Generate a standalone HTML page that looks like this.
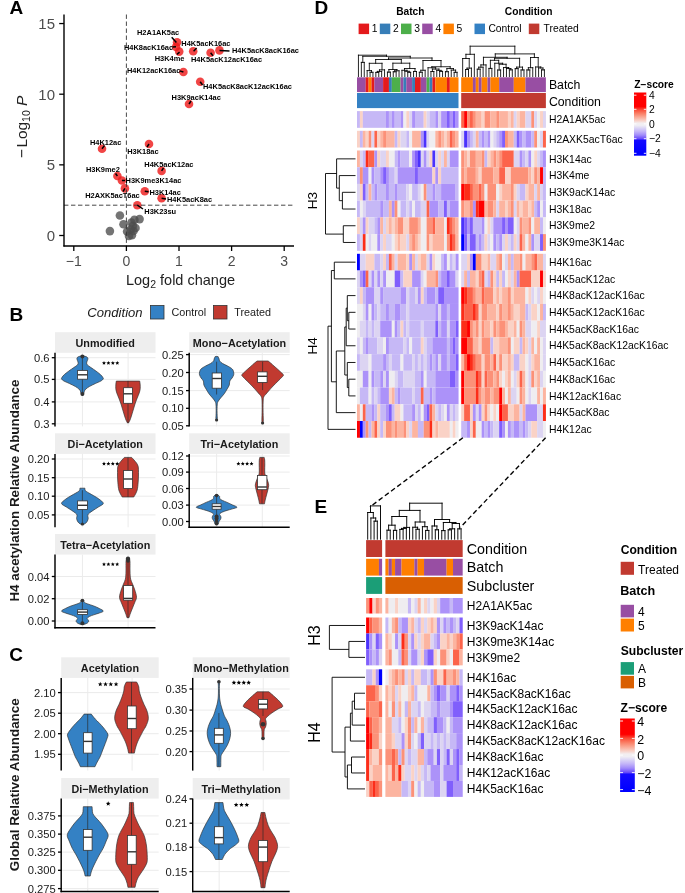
<!DOCTYPE html>
<html><head><meta charset="utf-8"><style>html,body{margin:0;padding:0;background:#fff;}svg{display:block;} text{font-family:"Liberation Sans", sans-serif;-webkit-font-smoothing:antialiased;}</style></head>
<body><svg style="will-change:transform" width="685" height="893" viewBox="0 0 685 893" font-family="'Liberation Sans', sans-serif">
<rect width="685" height="893" fill="#fff"/>
<text x="9.60" y="13.90" font-size="19" font-weight="bold" fill="#000">A</text>
<text x="9.60" y="320.60" font-size="19" font-weight="bold" fill="#000">B</text>
<text x="9.30" y="661.00" font-size="19" font-weight="bold" fill="#000">C</text>
<text x="314.60" y="13.70" font-size="19" font-weight="bold" fill="#000">D</text>
<text x="314.60" y="512.70" font-size="19" font-weight="bold" fill="#000">E</text>
<circle cx="119.90" cy="215.50" r="4.3" fill="#4d4d4d" fill-opacity="0.78"/>
<circle cx="109.90" cy="231.10" r="4.3" fill="#4d4d4d" fill-opacity="0.78"/>
<circle cx="123.50" cy="224.30" r="4.3" fill="#4d4d4d" fill-opacity="0.78"/>
<circle cx="139.60" cy="219.10" r="4.3" fill="#4d4d4d" fill-opacity="0.78"/>
<circle cx="134.40" cy="219.90" r="4.3" fill="#4d4d4d" fill-opacity="0.78"/>
<circle cx="132.80" cy="225.90" r="4.3" fill="#4d4d4d" fill-opacity="0.78"/>
<circle cx="127.10" cy="231.50" r="4.3" fill="#4d4d4d" fill-opacity="0.78"/>
<circle cx="131.90" cy="235.20" r="4.3" fill="#4d4d4d" fill-opacity="0.78"/>
<circle cx="130.70" cy="229.50" r="4.3" fill="#4d4d4d" fill-opacity="0.78"/>
<circle cx="135.50" cy="228.00" r="4.3" fill="#4d4d4d" fill-opacity="0.78"/>
<circle cx="131.50" cy="222.50" r="4.3" fill="#4d4d4d" fill-opacity="0.78"/>
<circle cx="129.00" cy="236.00" r="4.3" fill="#4d4d4d" fill-opacity="0.78"/>
<circle cx="133.50" cy="231.00" r="4.3" fill="#4d4d4d" fill-opacity="0.78"/>
<circle cx="177.10" cy="42.20" r="4.3" fill="#ee1c1c" fill-opacity="0.82"/>
<circle cx="176.10" cy="46.90" r="4.3" fill="#ee1c1c" fill-opacity="0.82"/>
<circle cx="179.20" cy="51.60" r="4.3" fill="#ee1c1c" fill-opacity="0.82"/>
<circle cx="193.20" cy="51.30" r="4.3" fill="#ee1c1c" fill-opacity="0.82"/>
<circle cx="210.60" cy="52.70" r="4.3" fill="#ee1c1c" fill-opacity="0.82"/>
<circle cx="219.50" cy="50.40" r="4.3" fill="#ee1c1c" fill-opacity="0.82"/>
<circle cx="183.40" cy="72.00" r="4.3" fill="#ee1c1c" fill-opacity="0.82"/>
<circle cx="200.20" cy="81.80" r="4.3" fill="#ee1c1c" fill-opacity="0.82"/>
<circle cx="189.00" cy="104.00" r="4.3" fill="#ee1c1c" fill-opacity="0.82"/>
<circle cx="102.00" cy="148.70" r="4.3" fill="#ee1c1c" fill-opacity="0.82"/>
<circle cx="149.00" cy="144.00" r="4.3" fill="#ee1c1c" fill-opacity="0.82"/>
<circle cx="161.60" cy="170.90" r="4.3" fill="#ee1c1c" fill-opacity="0.82"/>
<circle cx="117.40" cy="176.00" r="4.3" fill="#ee1c1c" fill-opacity="0.82"/>
<circle cx="121.90" cy="180.50" r="4.3" fill="#ee1c1c" fill-opacity="0.82"/>
<circle cx="124.90" cy="188.40" r="4.3" fill="#ee1c1c" fill-opacity="0.82"/>
<circle cx="144.80" cy="191.20" r="4.3" fill="#ee1c1c" fill-opacity="0.82"/>
<circle cx="161.60" cy="198.20" r="4.3" fill="#ee1c1c" fill-opacity="0.82"/>
<circle cx="137.30" cy="205.20" r="4.3" fill="#ee1c1c" fill-opacity="0.82"/>
<line x1="126.40" y1="14.50" x2="126.40" y2="246.00" stroke="#333" stroke-width="0.9" stroke-dasharray="4.4,2.6"/>
<line x1="64.00" y1="205.20" x2="295.00" y2="205.20" stroke="#333" stroke-width="0.9" stroke-dasharray="4.4,2.6"/>
<line x1="64.00" y1="14.50" x2="64.00" y2="246.60" stroke="#000" stroke-width="1.4"/>
<line x1="63.40" y1="246.00" x2="294.00" y2="246.00" stroke="#000" stroke-width="1.4"/>
<line x1="59.20" y1="235.50" x2="64.00" y2="235.50" stroke="#000" stroke-width="1.3"/>
<text x="55.00" y="241.00" font-size="15" text-anchor="end" fill="#4d4d4d">0</text>
<line x1="59.20" y1="164.85" x2="64.00" y2="164.85" stroke="#000" stroke-width="1.3"/>
<text x="55.00" y="170.35" font-size="15" text-anchor="end" fill="#4d4d4d">5</text>
<line x1="59.20" y1="94.20" x2="64.00" y2="94.20" stroke="#000" stroke-width="1.3"/>
<text x="55.00" y="99.70" font-size="15" text-anchor="end" fill="#4d4d4d">10</text>
<line x1="59.20" y1="23.55" x2="64.00" y2="23.55" stroke="#000" stroke-width="1.3"/>
<text x="55.00" y="29.05" font-size="15" text-anchor="end" fill="#4d4d4d">15</text>
<line x1="73.80" y1="246.00" x2="73.80" y2="251.00" stroke="#000" stroke-width="1.3"/>
<text x="73.80" y="266.00" font-size="14" text-anchor="middle" fill="#4d4d4d">−1</text>
<line x1="126.40" y1="246.00" x2="126.40" y2="251.00" stroke="#000" stroke-width="1.3"/>
<text x="126.40" y="266.00" font-size="14" text-anchor="middle" fill="#4d4d4d">0</text>
<line x1="179.00" y1="246.00" x2="179.00" y2="251.00" stroke="#000" stroke-width="1.3"/>
<text x="179.00" y="266.00" font-size="14" text-anchor="middle" fill="#4d4d4d">1</text>
<line x1="231.60" y1="246.00" x2="231.60" y2="251.00" stroke="#000" stroke-width="1.3"/>
<text x="231.60" y="266.00" font-size="14" text-anchor="middle" fill="#4d4d4d">2</text>
<line x1="284.20" y1="246.00" x2="284.20" y2="251.00" stroke="#000" stroke-width="1.3"/>
<text x="284.20" y="266.00" font-size="14" text-anchor="middle" fill="#4d4d4d">3</text>
<text x="180.5" y="284.6" font-size="14.5" text-anchor="middle" fill="#222">Log<tspan font-size="10.5" dy="3">2</tspan><tspan dy="-3"> fold change</tspan></text>
<text transform="translate(27,126.9) rotate(-90)" font-size="15.4" text-anchor="middle" fill="#222">−<tspan dx="1.5">Log</tspan><tspan font-size="10.5" dy="3">10</tspan><tspan dy="-3" font-style="italic"> P</tspan></text>
<line x1="171.70" y1="37.30" x2="176.40" y2="42.50" stroke="#000" stroke-width="1.5"/>
<text x="137.00" y="35.00" font-size="7.45" font-weight="bold" fill="#000">H2A1AK5ac</text>
<line x1="172.60" y1="47.00" x2="176.00" y2="46.80" stroke="#000" stroke-width="1.5"/>
<text x="123.90" y="49.50" font-size="7.45" font-weight="bold" fill="#000">H4K8acK16ac</text>
<line x1="193.60" y1="51.30" x2="196.60" y2="48.10" stroke="#000" stroke-width="1.5"/>
<text x="181.30" y="46.40" font-size="7.45" font-weight="bold" fill="#000">H4K5acK16ac</text>
<line x1="219.50" y1="50.40" x2="229.50" y2="50.90" stroke="#000" stroke-width="1.5"/>
<text x="232.00" y="53.20" font-size="7.45" font-weight="bold" fill="#000">H4K5acK8acK16ac</text>
<line x1="176.90" y1="54.40" x2="179.60" y2="52.20" stroke="#000" stroke-width="1.5"/>
<text x="154.70" y="60.90" font-size="7.45" font-weight="bold" fill="#000">H3K4me</text>
<line x1="210.60" y1="52.70" x2="212.90" y2="55.70" stroke="#000" stroke-width="1.5"/>
<text x="191.00" y="62.10" font-size="7.45" font-weight="bold" fill="#000">H4K5acK12acK16ac</text>
<line x1="179.60" y1="70.90" x2="183.40" y2="72.00" stroke="#000" stroke-width="1.5"/>
<text x="127.00" y="72.70" font-size="7.45" font-weight="bold" fill="#000">H4K12acK16ac</text>
<line x1="200.20" y1="81.80" x2="202.50" y2="85.00" stroke="#000" stroke-width="1.5"/>
<text x="203.00" y="88.70" font-size="7.45" font-weight="bold" fill="#000">H4K5acK8acK12acK16ac</text>
<line x1="189.00" y1="104.00" x2="191.00" y2="101.00" stroke="#000" stroke-width="1.5"/>
<text x="171.60" y="100.30" font-size="7.45" font-weight="bold" fill="#000">H3K9acK14ac</text>
<line x1="102.00" y1="148.70" x2="104.50" y2="145.50" stroke="#000" stroke-width="1.5"/>
<text x="89.90" y="144.80" font-size="7.45" font-weight="bold" fill="#000">H4K12ac</text>
<line x1="149.00" y1="144.00" x2="147.00" y2="147.00" stroke="#000" stroke-width="1.5"/>
<text x="127.20" y="153.70" font-size="7.45" font-weight="bold" fill="#000">H3K18ac</text>
<line x1="161.60" y1="170.90" x2="163.50" y2="168.00" stroke="#000" stroke-width="1.5"/>
<text x="144.30" y="167.30" font-size="7.45" font-weight="bold" fill="#000">H4K5acK12ac</text>
<line x1="117.40" y1="176.00" x2="115.50" y2="173.50" stroke="#000" stroke-width="1.5"/>
<text x="85.90" y="172.00" font-size="7.45" font-weight="bold" fill="#000">H3K9me2</text>
<line x1="121.90" y1="180.50" x2="125.00" y2="180.50" stroke="#000" stroke-width="1.5"/>
<text x="125.60" y="182.90" font-size="7.45" font-weight="bold" fill="#000">H3K9me3K14ac</text>
<line x1="124.90" y1="188.40" x2="123.00" y2="191.50" stroke="#000" stroke-width="1.5"/>
<text x="85.20" y="197.70" font-size="7.45" font-weight="bold" fill="#000">H2AXK5acT6ac</text>
<line x1="144.80" y1="191.20" x2="148.50" y2="191.80" stroke="#000" stroke-width="1.5"/>
<text x="149.40" y="194.60" font-size="7.45" font-weight="bold" fill="#000">H3K14ac</text>
<line x1="161.60" y1="198.20" x2="166.00" y2="199.00" stroke="#000" stroke-width="1.5"/>
<text x="167.00" y="202.10" font-size="7.45" font-weight="bold" fill="#000">H4K5acK8ac</text>
<line x1="137.30" y1="205.20" x2="143.00" y2="209.00" stroke="#000" stroke-width="1.5"/>
<text x="144.30" y="213.70" font-size="7.45" font-weight="bold" fill="#000">H3K23su</text>
<text x="87.30" y="317.30" font-size="13.1" font-style="italic" fill="#1a1a1a">Condition</text>
<rect x="150.50" y="305.50" width="13.50" height="13.50" fill="#3481c4" stroke="#333" stroke-width="0.8"/>
<text x="171.40" y="316.30" font-size="10.8" fill="#1a1a1a">Control</text>
<rect x="213.50" y="305.50" width="13.50" height="13.50" fill="#c13a30" stroke="#333" stroke-width="0.8"/>
<text x="234.20" y="316.30" font-size="10.8" fill="#1a1a1a">Treated</text>
<text x="18.80" y="490.60" font-size="13.4" font-weight="bold" text-anchor="middle" fill="#1a1a1a" transform="rotate(-90 18.8 490.6)">H4 acetylation Relative Abundance</text>
<text x="18.80" y="784.80" font-size="13.4" font-weight="bold" text-anchor="middle" fill="#1a1a1a" transform="rotate(-90 18.8 784.8)">Global Relative Abundance</text>
<rect x="55.00" y="332.20" width="100.50" height="20.60" fill="#eeeeee"/>
<text x="105.25" y="346.80" font-size="10.8" font-weight="bold" text-anchor="middle" fill="#1a1a1a">Unmodified</text>
<line x1="82.41" y1="352.80" x2="82.41" y2="426.40" stroke="#ebebeb" stroke-width="1"/>
<line x1="128.09" y1="352.80" x2="128.09" y2="426.40" stroke="#ebebeb" stroke-width="1"/>
<line x1="55.00" y1="357.70" x2="155.50" y2="357.70" stroke="#ebebeb" stroke-width="1"/>
<line x1="55.00" y1="379.40" x2="155.50" y2="379.40" stroke="#ebebeb" stroke-width="1"/>
<line x1="55.00" y1="401.90" x2="155.50" y2="401.90" stroke="#ebebeb" stroke-width="1"/>
<line x1="55.00" y1="423.80" x2="155.50" y2="423.80" stroke="#ebebeb" stroke-width="1"/>
<rect x="189.20" y="332.20" width="100.50" height="20.60" fill="#eeeeee"/>
<text x="239.45" y="346.80" font-size="10.8" font-weight="bold" text-anchor="middle" fill="#1a1a1a">Mono−Acetylation</text>
<line x1="216.61" y1="352.80" x2="216.61" y2="426.40" stroke="#ebebeb" stroke-width="1"/>
<line x1="262.29" y1="352.80" x2="262.29" y2="426.40" stroke="#ebebeb" stroke-width="1"/>
<line x1="189.20" y1="354.60" x2="289.70" y2="354.60" stroke="#ebebeb" stroke-width="1"/>
<line x1="189.20" y1="372.50" x2="289.70" y2="372.50" stroke="#ebebeb" stroke-width="1"/>
<line x1="189.20" y1="390.60" x2="289.70" y2="390.60" stroke="#ebebeb" stroke-width="1"/>
<line x1="189.20" y1="408.30" x2="289.70" y2="408.30" stroke="#ebebeb" stroke-width="1"/>
<line x1="189.20" y1="425.80" x2="289.70" y2="425.80" stroke="#ebebeb" stroke-width="1"/>
<rect x="55.00" y="433.30" width="100.50" height="20.60" fill="#eeeeee"/>
<text x="105.25" y="447.90" font-size="10.8" font-weight="bold" text-anchor="middle" fill="#1a1a1a">Di−Acetylation</text>
<line x1="82.41" y1="453.90" x2="82.41" y2="527.30" stroke="#ebebeb" stroke-width="1"/>
<line x1="128.09" y1="453.90" x2="128.09" y2="527.30" stroke="#ebebeb" stroke-width="1"/>
<line x1="55.00" y1="459.00" x2="155.50" y2="459.00" stroke="#ebebeb" stroke-width="1"/>
<line x1="55.00" y1="477.70" x2="155.50" y2="477.70" stroke="#ebebeb" stroke-width="1"/>
<line x1="55.00" y1="496.20" x2="155.50" y2="496.20" stroke="#ebebeb" stroke-width="1"/>
<line x1="55.00" y1="514.90" x2="155.50" y2="514.90" stroke="#ebebeb" stroke-width="1"/>
<rect x="189.20" y="433.30" width="100.50" height="20.60" fill="#eeeeee"/>
<text x="239.45" y="447.90" font-size="10.8" font-weight="bold" text-anchor="middle" fill="#1a1a1a">Tri−Acetylation</text>
<line x1="216.61" y1="453.90" x2="216.61" y2="527.30" stroke="#ebebeb" stroke-width="1"/>
<line x1="262.29" y1="453.90" x2="262.29" y2="527.30" stroke="#ebebeb" stroke-width="1"/>
<line x1="189.20" y1="456.00" x2="289.70" y2="456.00" stroke="#ebebeb" stroke-width="1"/>
<line x1="189.20" y1="472.10" x2="289.70" y2="472.10" stroke="#ebebeb" stroke-width="1"/>
<line x1="189.20" y1="488.50" x2="289.70" y2="488.50" stroke="#ebebeb" stroke-width="1"/>
<line x1="189.20" y1="505.10" x2="289.70" y2="505.10" stroke="#ebebeb" stroke-width="1"/>
<line x1="189.20" y1="521.50" x2="289.70" y2="521.50" stroke="#ebebeb" stroke-width="1"/>
<rect x="55.00" y="534.00" width="100.50" height="20.60" fill="#eeeeee"/>
<text x="105.25" y="548.60" font-size="10.8" font-weight="bold" text-anchor="middle" fill="#1a1a1a">Tetra−Acetylation</text>
<line x1="82.41" y1="554.60" x2="82.41" y2="627.80" stroke="#ebebeb" stroke-width="1"/>
<line x1="128.09" y1="554.60" x2="128.09" y2="627.80" stroke="#ebebeb" stroke-width="1"/>
<line x1="55.00" y1="576.50" x2="155.50" y2="576.50" stroke="#ebebeb" stroke-width="1"/>
<line x1="55.00" y1="598.70" x2="155.50" y2="598.70" stroke="#ebebeb" stroke-width="1"/>
<line x1="55.00" y1="621.00" x2="155.50" y2="621.00" stroke="#ebebeb" stroke-width="1"/>
<rect x="61.20" y="657.30" width="97.50" height="20.60" fill="#eeeeee"/>
<text x="109.95" y="671.90" font-size="10.8" font-weight="bold" text-anchor="middle" fill="#1a1a1a">Acetylation</text>
<line x1="87.79" y1="677.90" x2="87.79" y2="770.60" stroke="#ebebeb" stroke-width="1"/>
<line x1="132.11" y1="677.90" x2="132.11" y2="770.60" stroke="#ebebeb" stroke-width="1"/>
<line x1="61.20" y1="692.60" x2="158.70" y2="692.60" stroke="#ebebeb" stroke-width="1"/>
<line x1="61.20" y1="713.20" x2="158.70" y2="713.20" stroke="#ebebeb" stroke-width="1"/>
<line x1="61.20" y1="733.70" x2="158.70" y2="733.70" stroke="#ebebeb" stroke-width="1"/>
<line x1="61.20" y1="754.30" x2="158.70" y2="754.30" stroke="#ebebeb" stroke-width="1"/>
<rect x="192.70" y="657.30" width="97.00" height="20.60" fill="#eeeeee"/>
<text x="241.20" y="671.90" font-size="10.8" font-weight="bold" text-anchor="middle" fill="#1a1a1a">Mono−Methylation</text>
<line x1="219.15" y1="677.90" x2="219.15" y2="770.60" stroke="#ebebeb" stroke-width="1"/>
<line x1="263.25" y1="677.90" x2="263.25" y2="770.60" stroke="#ebebeb" stroke-width="1"/>
<line x1="192.70" y1="689.00" x2="289.70" y2="689.00" stroke="#ebebeb" stroke-width="1"/>
<line x1="192.70" y1="710.10" x2="289.70" y2="710.10" stroke="#ebebeb" stroke-width="1"/>
<line x1="192.70" y1="731.00" x2="289.70" y2="731.00" stroke="#ebebeb" stroke-width="1"/>
<line x1="192.70" y1="751.60" x2="289.70" y2="751.60" stroke="#ebebeb" stroke-width="1"/>
<rect x="61.20" y="778.00" width="97.50" height="20.60" fill="#eeeeee"/>
<text x="109.95" y="792.60" font-size="10.8" font-weight="bold" text-anchor="middle" fill="#1a1a1a">Di−Methylation</text>
<line x1="87.79" y1="798.60" x2="87.79" y2="891.50" stroke="#ebebeb" stroke-width="1"/>
<line x1="132.11" y1="798.60" x2="132.11" y2="891.50" stroke="#ebebeb" stroke-width="1"/>
<line x1="61.20" y1="815.90" x2="158.70" y2="815.90" stroke="#ebebeb" stroke-width="1"/>
<line x1="61.20" y1="834.10" x2="158.70" y2="834.10" stroke="#ebebeb" stroke-width="1"/>
<line x1="61.20" y1="852.10" x2="158.70" y2="852.10" stroke="#ebebeb" stroke-width="1"/>
<line x1="61.20" y1="870.30" x2="158.70" y2="870.30" stroke="#ebebeb" stroke-width="1"/>
<line x1="61.20" y1="888.60" x2="158.70" y2="888.60" stroke="#ebebeb" stroke-width="1"/>
<rect x="192.70" y="778.00" width="97.00" height="20.60" fill="#eeeeee"/>
<text x="241.20" y="792.60" font-size="10.8" font-weight="bold" text-anchor="middle" fill="#1a1a1a">Tri−Methylation</text>
<line x1="219.15" y1="798.60" x2="219.15" y2="891.50" stroke="#ebebeb" stroke-width="1"/>
<line x1="263.25" y1="798.60" x2="263.25" y2="891.50" stroke="#ebebeb" stroke-width="1"/>
<line x1="192.70" y1="798.90" x2="289.70" y2="798.90" stroke="#ebebeb" stroke-width="1"/>
<line x1="192.70" y1="823.20" x2="289.70" y2="823.20" stroke="#ebebeb" stroke-width="1"/>
<line x1="192.70" y1="847.30" x2="289.70" y2="847.30" stroke="#ebebeb" stroke-width="1"/>
<line x1="192.70" y1="871.60" x2="289.70" y2="871.60" stroke="#ebebeb" stroke-width="1"/>
<path d="M81.40,355.80 C80.82,356.00 78.65,356.55 77.90,357.00 C77.15,357.45 76.98,357.92 76.90,358.50 C76.82,359.08 77.18,359.75 77.40,360.50 C77.62,361.25 78.20,362.25 78.20,363.00 C78.20,363.75 78.12,364.25 77.40,365.00 C76.68,365.75 75.32,366.50 73.90,367.50 C72.48,368.50 70.48,369.83 68.90,371.00 C67.32,372.17 65.57,373.42 64.40,374.50 C63.23,375.58 62.37,376.75 61.90,377.50 C61.43,378.25 61.27,378.42 61.60,379.00 C61.93,379.58 62.60,380.25 63.90,381.00 C65.20,381.75 67.48,382.58 69.40,383.50 C71.32,384.42 73.82,385.58 75.40,386.50 C76.98,387.42 78.07,388.25 78.90,389.00 C79.73,389.75 80.07,390.33 80.40,391.00 C80.73,391.67 80.65,392.28 80.90,393.00 C81.15,393.72 81.73,394.92 81.90,395.30 L82.90,395.30 C83.07,394.92 83.65,393.72 83.90,393.00 C84.15,392.28 84.07,391.67 84.40,391.00 C84.73,390.33 85.07,389.75 85.90,389.00 C86.73,388.25 87.82,387.42 89.40,386.50 C90.98,385.58 93.48,384.42 95.40,383.50 C97.32,382.58 99.60,381.75 100.90,381.00 C102.20,380.25 102.87,379.58 103.20,379.00 C103.53,378.42 103.37,378.25 102.90,377.50 C102.43,376.75 101.57,375.58 100.40,374.50 C99.23,373.42 97.48,372.17 95.90,371.00 C94.32,369.83 92.32,368.50 90.90,367.50 C89.48,366.50 88.12,365.75 87.40,365.00 C86.68,364.25 86.60,363.75 86.60,363.00 C86.60,362.25 87.18,361.25 87.40,360.50 C87.62,359.75 87.98,359.08 87.90,358.50 C87.82,357.92 87.65,357.45 86.90,357.00 C86.15,356.55 83.98,356.00 83.40,355.80 Z" fill="#3481c4" stroke="#333" stroke-width="0.7"/>
<line x1="82.40" y1="356.60" x2="82.40" y2="394.00" stroke="#282828" stroke-width="1.0" stroke-opacity="0.65"/>
<rect x="77.60" y="370.40" width="9.80" height="8.80" fill="#fff" stroke="#333" stroke-width="0.8"/>
<line x1="77.60" y1="374.80" x2="87.40" y2="374.80" stroke="#333" stroke-width="1.4"/>
<circle cx="82.40" cy="356.60" r="2" fill="#333"/>
<circle cx="82.40" cy="394.00" r="2" fill="#333"/>
<path d="M116.30,381.10 C116.23,381.58 115.98,382.73 115.90,384.00 C115.82,385.27 115.65,387.20 115.80,388.70 C115.95,390.20 116.30,391.45 116.80,393.00 C117.30,394.55 118.10,396.17 118.80,398.00 C119.50,399.83 120.33,402.00 121.00,404.00 C121.67,406.00 122.20,408.00 122.80,410.00 C123.40,412.00 124.07,414.33 124.60,416.00 C125.13,417.67 125.52,418.83 126.00,420.00 C126.48,421.17 127.25,422.50 127.50,423.00 L128.50,423.00 C128.75,422.50 129.52,421.17 130.00,420.00 C130.48,418.83 130.87,417.67 131.40,416.00 C131.93,414.33 132.60,412.00 133.20,410.00 C133.80,408.00 134.33,406.00 135.00,404.00 C135.67,402.00 136.50,399.83 137.20,398.00 C137.90,396.17 138.70,394.55 139.20,393.00 C139.70,391.45 140.05,390.20 140.20,388.70 C140.35,387.20 140.18,385.27 140.10,384.00 C140.02,382.73 139.77,381.58 139.70,381.10 Z" fill="#c13a30" stroke="#333" stroke-width="0.7"/>
<line x1="128.00" y1="381.10" x2="128.00" y2="423.00" stroke="#282828" stroke-width="1.0" stroke-opacity="0.65"/>
<rect x="123.60" y="387.70" width="8.80" height="15.60" fill="#fff" stroke="#333" stroke-width="0.8"/>
<line x1="123.60" y1="393.80" x2="132.40" y2="393.80" stroke="#333" stroke-width="1.4"/>
<path d="M215.10,356.60 C214.93,357.00 214.35,358.27 214.10,359.00 C213.85,359.73 214.18,360.25 213.60,361.00 C213.02,361.75 211.93,362.67 210.60,363.50 C209.27,364.33 207.20,365.08 205.60,366.00 C204.00,366.92 202.00,368.00 201.00,369.00 C200.00,370.00 199.85,371.03 199.60,372.00 C199.35,372.97 199.25,373.80 199.50,374.80 C199.75,375.80 200.45,376.97 201.10,378.00 C201.75,379.03 202.93,379.83 203.40,381.00 C203.87,382.17 203.45,383.67 203.90,385.00 C204.35,386.33 205.25,387.53 206.10,389.00 C206.95,390.47 207.92,392.30 209.00,393.80 C210.08,395.30 211.55,396.67 212.60,398.00 C213.65,399.33 214.73,400.63 215.30,401.80 C215.87,402.97 215.86,403.30 216.00,405.00 C216.14,406.70 216.17,409.83 216.15,412.00 C216.13,414.17 215.91,416.67 215.90,418.00 C215.89,419.33 216.07,419.67 216.10,420.00 L217.10,420.00 C217.13,419.67 217.31,419.33 217.30,418.00 C217.29,416.67 217.07,414.17 217.05,412.00 C217.03,409.83 217.06,406.70 217.20,405.00 C217.34,403.30 217.33,402.97 217.90,401.80 C218.47,400.63 219.55,399.33 220.60,398.00 C221.65,396.67 223.12,395.30 224.20,393.80 C225.28,392.30 226.25,390.47 227.10,389.00 C227.95,387.53 228.85,386.33 229.30,385.00 C229.75,383.67 229.33,382.17 229.80,381.00 C230.27,379.83 231.45,379.03 232.10,378.00 C232.75,376.97 233.45,375.80 233.70,374.80 C233.95,373.80 233.85,372.97 233.60,372.00 C233.35,371.03 233.20,370.00 232.20,369.00 C231.20,368.00 229.20,366.92 227.60,366.00 C226.00,365.08 223.93,364.33 222.60,363.50 C221.27,362.67 220.18,361.75 219.60,361.00 C219.02,360.25 219.35,359.73 219.10,359.00 C218.85,358.27 218.27,357.00 218.10,356.60 Z" fill="#3481c4" stroke="#333" stroke-width="0.7"/>
<line x1="216.60" y1="361.70" x2="216.60" y2="394.50" stroke="#282828" stroke-width="1.0" stroke-opacity="0.65"/>
<rect x="212.20" y="373.00" width="9.20" height="15.20" fill="#fff" stroke="#333" stroke-width="0.8"/>
<line x1="212.20" y1="378.50" x2="221.40" y2="378.50" stroke="#333" stroke-width="1.4"/>
<circle cx="216.60" cy="420.00" r="1.6" fill="#333"/>
<path d="M257.10,361.00 C256.68,361.33 255.77,362.00 254.60,363.00 C253.43,364.00 251.60,365.67 250.10,367.00 C248.60,368.33 246.97,369.70 245.60,371.00 C244.23,372.30 242.32,373.80 241.90,374.80 C241.48,375.80 242.23,375.97 243.10,377.00 C243.97,378.03 245.60,379.50 247.10,381.00 C248.60,382.50 250.52,384.33 252.10,386.00 C253.68,387.67 255.35,389.58 256.60,391.00 C257.85,392.42 258.82,393.55 259.60,394.50 C260.38,395.45 260.90,395.78 261.30,396.70 C261.70,397.62 261.86,397.78 262.00,400.00 C262.14,402.22 262.17,406.67 262.15,410.00 C262.13,413.33 261.91,417.83 261.90,420.00 C261.89,422.17 262.07,422.50 262.10,423.00 L263.10,423.00 C263.13,422.50 263.31,422.17 263.30,420.00 C263.29,417.83 263.07,413.33 263.05,410.00 C263.03,406.67 263.06,402.22 263.20,400.00 C263.34,397.78 263.50,397.62 263.90,396.70 C264.30,395.78 264.82,395.45 265.60,394.50 C266.38,393.55 267.35,392.42 268.60,391.00 C269.85,389.58 271.52,387.67 273.10,386.00 C274.68,384.33 276.60,382.50 278.10,381.00 C279.60,379.50 281.23,378.03 282.10,377.00 C282.97,375.97 283.72,375.80 283.30,374.80 C282.88,373.80 280.97,372.30 279.60,371.00 C278.23,369.70 276.60,368.33 275.10,367.00 C273.60,365.67 271.77,364.00 270.60,363.00 C269.43,362.00 268.52,361.33 268.10,361.00 Z" fill="#c13a30" stroke="#333" stroke-width="0.7"/>
<line x1="262.60" y1="361.70" x2="262.60" y2="390.10" stroke="#282828" stroke-width="1.0" stroke-opacity="0.65"/>
<rect x="257.60" y="371.90" width="9.50" height="10.50" fill="#fff" stroke="#333" stroke-width="0.8"/>
<line x1="257.60" y1="376.30" x2="267.10" y2="376.30" stroke="#333" stroke-width="1.4"/>
<circle cx="262.60" cy="423.00" r="1.6" fill="#333"/>
<path d="M79.90,488.20 C79.82,488.62 80.07,489.90 79.40,490.70 C78.73,491.50 77.30,492.15 75.90,493.00 C74.50,493.85 72.67,494.80 71.00,495.80 C69.33,496.80 67.48,497.73 65.90,499.00 C64.32,500.27 61.42,502.07 61.50,503.40 C61.58,504.73 64.70,505.83 66.40,507.00 C68.10,508.17 70.20,509.40 71.70,510.40 C73.20,511.40 74.53,512.27 75.40,513.00 C76.27,513.73 76.65,514.22 76.90,514.80 C77.15,515.38 76.95,515.90 76.90,516.50 C76.85,517.10 76.52,517.65 76.60,518.40 C76.68,519.15 77.02,520.23 77.40,521.00 C77.78,521.77 78.23,522.40 78.90,523.00 C79.57,523.60 80.98,524.33 81.40,524.60 L83.40,524.60 C83.82,524.33 85.23,523.60 85.90,523.00 C86.57,522.40 87.02,521.77 87.40,521.00 C87.78,520.23 88.12,519.15 88.20,518.40 C88.28,517.65 87.95,517.10 87.90,516.50 C87.85,515.90 87.65,515.38 87.90,514.80 C88.15,514.22 88.53,513.73 89.40,513.00 C90.27,512.27 91.60,511.40 93.10,510.40 C94.60,509.40 96.70,508.17 98.40,507.00 C100.10,505.83 103.22,504.73 103.30,503.40 C103.38,502.07 100.48,500.27 98.90,499.00 C97.32,497.73 95.47,496.80 93.80,495.80 C92.13,494.80 90.30,493.85 88.90,493.00 C87.50,492.15 86.07,491.50 85.40,490.70 C84.73,489.90 84.98,488.62 84.90,488.20 Z" fill="#3481c4" stroke="#333" stroke-width="0.7"/>
<line x1="82.40" y1="490.20" x2="82.40" y2="523.50" stroke="#282828" stroke-width="1.0" stroke-opacity="0.65"/>
<rect x="77.60" y="500.90" width="9.80" height="8.50" fill="#fff" stroke="#333" stroke-width="0.8"/>
<line x1="77.60" y1="505.30" x2="87.40" y2="505.30" stroke="#333" stroke-width="1.4"/>
<circle cx="82.40" cy="524.00" r="1.6" fill="#333"/>
<path d="M124.40,457.40 C124.00,457.83 122.82,459.07 122.00,460.00 C121.18,460.93 120.20,461.90 119.50,463.00 C118.80,464.10 118.13,465.03 117.80,466.60 C117.47,468.17 117.52,470.17 117.50,472.40 C117.48,474.63 117.53,477.32 117.70,480.00 C117.87,482.68 118.12,486.33 118.50,488.50 C118.88,490.67 119.38,491.58 120.00,493.00 C120.62,494.42 121.83,496.33 122.20,497.00 L133.80,497.00 C134.17,496.33 135.38,494.42 136.00,493.00 C136.62,491.58 137.12,490.67 137.50,488.50 C137.88,486.33 138.13,482.68 138.30,480.00 C138.47,477.32 138.52,474.63 138.50,472.40 C138.48,470.17 138.53,468.17 138.20,466.60 C137.87,465.03 137.20,464.10 136.50,463.00 C135.80,461.90 134.82,460.93 134.00,460.00 C133.18,459.07 132.00,457.83 131.60,457.40 Z" fill="#c13a30" stroke="#333" stroke-width="0.7"/>
<line x1="128.00" y1="457.40" x2="128.00" y2="497.00" stroke="#282828" stroke-width="1.0" stroke-opacity="0.65"/>
<rect x="123.60" y="470.50" width="8.80" height="18.00" fill="#fff" stroke="#333" stroke-width="0.8"/>
<line x1="123.60" y1="479.00" x2="132.40" y2="479.00" stroke="#333" stroke-width="1.4"/>
<path d="M215.10,495.10 C214.85,495.33 213.88,495.90 213.60,496.50 C213.32,497.10 213.90,498.03 213.40,498.70 C212.90,499.37 211.82,499.88 210.60,500.50 C209.38,501.12 207.77,501.65 206.10,502.40 C204.43,503.15 202.25,504.20 200.60,505.00 C198.95,505.80 196.20,506.57 196.20,507.20 C196.20,507.83 198.95,508.27 200.60,508.80 C202.25,509.33 204.43,509.87 206.10,510.40 C207.77,510.93 209.35,511.40 210.60,512.00 C211.85,512.60 213.27,513.33 213.60,514.00 C213.93,514.67 212.83,515.38 212.60,516.00 C212.37,516.62 212.17,517.12 212.20,517.70 C212.23,518.28 212.48,518.90 212.80,519.50 C213.12,520.10 213.80,520.72 214.10,521.30 C214.40,521.88 214.35,522.38 214.60,523.00 C214.85,523.62 215.43,524.67 215.60,525.00 L217.60,525.00 C217.77,524.67 218.35,523.62 218.60,523.00 C218.85,522.38 218.80,521.88 219.10,521.30 C219.40,520.72 220.08,520.10 220.40,519.50 C220.72,518.90 220.97,518.28 221.00,517.70 C221.03,517.12 220.83,516.62 220.60,516.00 C220.37,515.38 219.27,514.67 219.60,514.00 C219.93,513.33 221.35,512.60 222.60,512.00 C223.85,511.40 225.43,510.93 227.10,510.40 C228.77,509.87 230.95,509.33 232.60,508.80 C234.25,508.27 237.00,507.83 237.00,507.20 C237.00,506.57 234.25,505.80 232.60,505.00 C230.95,504.20 228.77,503.15 227.10,502.40 C225.43,501.65 223.82,501.12 222.60,500.50 C221.38,499.88 220.30,499.37 219.80,498.70 C219.30,498.03 219.88,497.10 219.60,496.50 C219.32,495.90 218.35,495.33 218.10,495.10 Z" fill="#3481c4" stroke="#333" stroke-width="0.7"/>
<line x1="216.60" y1="496.00" x2="216.60" y2="524.00" stroke="#282828" stroke-width="1.0" stroke-opacity="0.65"/>
<rect x="212.20" y="503.80" width="8.90" height="5.40" fill="#fff" stroke="#333" stroke-width="0.8"/>
<line x1="212.20" y1="506.50" x2="221.10" y2="506.50" stroke="#333" stroke-width="1.4"/>
<circle cx="216.60" cy="495.50" r="1.8" fill="#333"/>
<circle cx="216.60" cy="516.50" r="2" fill="#333"/>
<circle cx="216.60" cy="518.50" r="2" fill="#333"/>
<circle cx="216.60" cy="521.00" r="1.8" fill="#333"/>
<circle cx="216.60" cy="523.50" r="1.8" fill="#333"/>
<path d="M259.80,457.40 C259.72,457.83 259.40,458.73 259.30,460.00 C259.20,461.27 259.20,463.33 259.20,465.00 C259.20,466.67 259.32,468.52 259.30,470.00 C259.28,471.48 259.40,472.57 259.10,473.90 C258.80,475.23 258.02,476.65 257.50,478.00 C256.98,479.35 256.37,480.73 256.00,482.00 C255.63,483.27 255.27,484.27 255.30,485.60 C255.33,486.93 255.83,488.43 256.20,490.00 C256.57,491.57 257.07,493.33 257.50,495.00 C257.93,496.67 258.47,498.53 258.80,500.00 C259.13,501.47 259.38,503.17 259.50,503.80 L264.50,503.80 C264.62,503.17 264.87,501.47 265.20,500.00 C265.53,498.53 266.07,496.67 266.50,495.00 C266.93,493.33 267.43,491.57 267.80,490.00 C268.17,488.43 268.67,486.93 268.70,485.60 C268.73,484.27 268.37,483.27 268.00,482.00 C267.63,480.73 267.02,479.35 266.50,478.00 C265.98,476.65 265.20,475.23 264.90,473.90 C264.60,472.57 264.72,471.48 264.70,470.00 C264.68,468.52 264.80,466.67 264.80,465.00 C264.80,463.33 264.80,461.27 264.70,460.00 C264.60,458.73 264.28,457.83 264.20,457.40 Z" fill="#c13a30" stroke="#333" stroke-width="0.7"/>
<line x1="262.00" y1="457.40" x2="262.00" y2="503.80" stroke="#282828" stroke-width="1.0" stroke-opacity="0.65"/>
<rect x="257.40" y="475.40" width="9.50" height="14.30" fill="#fff" stroke="#333" stroke-width="0.8"/>
<line x1="257.40" y1="487.00" x2="266.90" y2="487.00" stroke="#333" stroke-width="1.4"/>
<path d="M80.90,600.20 C80.82,600.57 81.07,601.77 80.40,602.40 C79.73,603.03 78.47,603.40 76.90,604.00 C75.33,604.60 72.92,605.25 71.00,606.00 C69.08,606.75 66.98,607.65 65.40,608.50 C63.82,609.35 61.50,610.35 61.50,611.10 C61.50,611.85 63.82,612.38 65.40,613.00 C66.98,613.62 69.33,614.22 71.00,614.80 C72.67,615.38 74.30,615.90 75.40,616.50 C76.50,617.10 77.40,617.82 77.60,618.40 C77.80,618.98 76.85,619.52 76.60,620.00 C76.35,620.48 75.97,620.80 76.10,621.30 C76.23,621.80 76.60,622.45 77.40,623.00 C78.20,623.55 80.32,624.33 80.90,624.60 L83.90,624.60 C84.48,624.33 86.60,623.55 87.40,623.00 C88.20,622.45 88.57,621.80 88.70,621.30 C88.83,620.80 88.45,620.48 88.20,620.00 C87.95,619.52 87.00,618.98 87.20,618.40 C87.40,617.82 88.30,617.10 89.40,616.50 C90.50,615.90 92.13,615.38 93.80,614.80 C95.47,614.22 97.82,613.62 99.40,613.00 C100.98,612.38 103.30,611.85 103.30,611.10 C103.30,610.35 100.98,609.35 99.40,608.50 C97.82,607.65 95.72,606.75 93.80,606.00 C91.88,605.25 89.47,604.60 87.90,604.00 C86.33,603.40 85.07,603.03 84.40,602.40 C83.73,601.77 83.98,600.57 83.90,600.20 Z" fill="#3481c4" stroke="#333" stroke-width="0.7"/>
<line x1="82.40" y1="600.50" x2="82.40" y2="623.50" stroke="#282828" stroke-width="1.0" stroke-opacity="0.65"/>
<rect x="77.60" y="609.70" width="9.80" height="4.80" fill="#fff" stroke="#333" stroke-width="0.8"/>
<line x1="77.60" y1="612.10" x2="87.40" y2="612.10" stroke="#333" stroke-width="1.4"/>
<circle cx="82.40" cy="600.50" r="1.8" fill="#333"/>
<circle cx="82.40" cy="623.20" r="2" fill="#333"/>
<path d="M126.50,558.60 C126.42,559.17 126.08,560.10 126.00,562.00 C125.92,563.90 126.03,567.67 126.00,570.00 C125.97,572.33 125.93,574.38 125.80,576.00 C125.67,577.62 125.58,578.37 125.20,579.70 C124.82,581.03 124.17,582.28 123.50,584.00 C122.83,585.72 121.87,587.78 121.20,590.00 C120.53,592.22 119.45,595.13 119.50,597.30 C119.55,599.47 120.83,601.22 121.50,603.00 C122.17,604.78 122.83,606.33 123.50,608.00 C124.17,609.67 124.92,611.38 125.50,613.00 C126.08,614.62 126.75,616.92 127.00,617.70 L129.00,617.70 C129.25,616.92 129.92,614.62 130.50,613.00 C131.08,611.38 131.83,609.67 132.50,608.00 C133.17,606.33 133.83,604.78 134.50,603.00 C135.17,601.22 136.45,599.47 136.50,597.30 C136.55,595.13 135.47,592.22 134.80,590.00 C134.13,587.78 133.17,585.72 132.50,584.00 C131.83,582.28 131.18,581.03 130.80,579.70 C130.42,578.37 130.33,577.62 130.20,576.00 C130.07,574.38 130.03,572.33 130.00,570.00 C129.97,567.67 130.08,563.90 130.00,562.00 C129.92,560.10 129.58,559.17 129.50,558.60 Z" fill="#c13a30" stroke="#333" stroke-width="0.7"/>
<line x1="128.00" y1="558.60" x2="128.00" y2="617.70" stroke="#282828" stroke-width="1.0" stroke-opacity="0.65"/>
<rect x="123.60" y="585.60" width="9.10" height="14.60" fill="#fff" stroke="#333" stroke-width="0.8"/>
<line x1="123.60" y1="598.40" x2="132.70" y2="598.40" stroke="#333" stroke-width="1.4"/>
<circle cx="128.00" cy="558.80" r="2.2" fill="#333"/>
<circle cx="128.00" cy="561.00" r="1.8" fill="#333"/>
<path d="M84.10,714.10 C83.87,714.42 83.35,715.18 82.70,716.00 C82.05,716.82 81.32,717.80 80.20,719.00 C79.08,720.20 77.42,721.70 76.00,723.20 C74.58,724.70 73.10,726.18 71.70,728.00 C70.30,729.82 68.18,732.43 67.60,734.10 C67.02,735.77 67.77,736.42 68.20,738.00 C68.63,739.58 69.45,741.60 70.20,743.60 C70.95,745.60 71.85,747.80 72.70,750.00 C73.55,752.20 74.38,754.80 75.30,756.80 C76.22,758.80 77.35,760.35 78.20,762.00 C79.05,763.65 80.03,765.92 80.40,766.70 L95.00,766.70 C95.37,765.92 96.35,763.65 97.20,762.00 C98.05,760.35 99.18,758.80 100.10,756.80 C101.02,754.80 101.85,752.20 102.70,750.00 C103.55,747.80 104.45,745.60 105.20,743.60 C105.95,741.60 106.77,739.58 107.20,738.00 C107.63,736.42 108.38,735.77 107.80,734.10 C107.22,732.43 105.10,729.82 103.70,728.00 C102.30,726.18 100.82,724.70 99.40,723.20 C97.98,721.70 96.32,720.20 95.20,719.00 C94.08,717.80 93.35,716.82 92.70,716.00 C92.05,715.18 91.53,714.42 91.30,714.10 Z" fill="#3481c4" stroke="#333" stroke-width="0.7"/>
<line x1="87.70" y1="714.10" x2="87.70" y2="766.70" stroke="#282828" stroke-width="1.0" stroke-opacity="0.65"/>
<rect x="83.60" y="732.70" width="8.50" height="20.40" fill="#fff" stroke="#333" stroke-width="0.8"/>
<line x1="83.60" y1="741.40" x2="92.10" y2="741.40" stroke="#333" stroke-width="1.4"/>
<path d="M126.40,682.00 C126.22,682.33 125.67,683.17 125.30,684.00 C124.93,684.83 124.45,685.83 124.20,687.00 C123.95,688.17 124.17,689.33 123.80,691.00 C123.43,692.67 122.78,694.80 122.00,697.00 C121.22,699.20 120.10,701.87 119.10,704.20 C118.10,706.53 116.73,708.57 116.00,711.00 C115.27,713.43 114.53,716.30 114.70,718.80 C114.87,721.30 116.12,723.97 117.00,726.00 C117.88,728.03 119.05,729.28 120.00,731.00 C120.95,732.72 121.78,734.47 122.70,736.30 C123.62,738.13 124.70,740.05 125.50,742.00 C126.30,743.95 126.98,746.15 127.50,748.00 C128.02,749.85 128.42,752.25 128.60,753.10 L134.40,753.10 C134.58,752.25 134.98,749.85 135.50,748.00 C136.02,746.15 136.70,743.95 137.50,742.00 C138.30,740.05 139.38,738.13 140.30,736.30 C141.22,734.47 142.05,732.72 143.00,731.00 C143.95,729.28 145.12,728.03 146.00,726.00 C146.88,723.97 148.13,721.30 148.30,718.80 C148.47,716.30 147.73,713.43 147.00,711.00 C146.27,708.57 144.90,706.53 143.90,704.20 C142.90,701.87 141.78,699.20 141.00,697.00 C140.22,694.80 139.57,692.67 139.20,691.00 C138.83,689.33 139.05,688.17 138.80,687.00 C138.55,685.83 138.07,684.83 137.70,684.00 C137.33,683.17 136.78,682.33 136.60,682.00 Z" fill="#c13a30" stroke="#333" stroke-width="0.7"/>
<line x1="131.50" y1="682.00" x2="131.50" y2="753.10" stroke="#282828" stroke-width="1.0" stroke-opacity="0.65"/>
<rect x="127.40" y="706.00" width="8.80" height="22.70" fill="#fff" stroke="#333" stroke-width="0.8"/>
<line x1="127.40" y1="718.50" x2="136.20" y2="718.50" stroke="#333" stroke-width="1.4"/>
<path d="M218.10,681.60 C218.13,682.00 218.24,682.60 218.30,684.00 C218.36,685.40 218.45,688.00 218.45,690.00 C218.45,692.00 218.39,694.33 218.30,696.00 C218.21,697.67 218.10,698.63 217.90,700.00 C217.70,701.37 217.52,702.53 217.10,704.20 C216.68,705.87 216.02,708.05 215.40,710.00 C214.78,711.95 214.12,714.23 213.40,715.90 C212.68,717.57 211.83,718.55 211.10,720.00 C210.37,721.45 209.57,723.10 209.00,724.60 C208.43,726.10 208.00,727.53 207.70,729.00 C207.40,730.47 207.13,731.73 207.20,733.40 C207.27,735.07 207.57,737.07 208.10,739.00 C208.63,740.93 209.52,743.17 210.40,745.00 C211.28,746.83 212.42,748.40 213.40,750.00 C214.38,751.60 215.72,753.27 216.30,754.60 C216.88,755.93 216.78,755.98 216.90,758.00 C217.02,760.02 216.98,765.25 217.00,766.70 L220.80,766.70 C220.82,765.25 220.78,760.02 220.90,758.00 C221.02,755.98 220.92,755.93 221.50,754.60 C222.08,753.27 223.42,751.60 224.40,750.00 C225.38,748.40 226.52,746.83 227.40,745.00 C228.28,743.17 229.17,740.93 229.70,739.00 C230.23,737.07 230.53,735.07 230.60,733.40 C230.67,731.73 230.40,730.47 230.10,729.00 C229.80,727.53 229.37,726.10 228.80,724.60 C228.23,723.10 227.43,721.45 226.70,720.00 C225.97,718.55 225.12,717.57 224.40,715.90 C223.68,714.23 223.02,711.95 222.40,710.00 C221.78,708.05 221.12,705.87 220.70,704.20 C220.28,702.53 220.10,701.37 219.90,700.00 C219.70,698.63 219.59,697.67 219.50,696.00 C219.41,694.33 219.35,692.00 219.35,690.00 C219.35,688.00 219.44,685.40 219.50,684.00 C219.56,682.60 219.67,682.00 219.70,681.60 Z" fill="#3481c4" stroke="#333" stroke-width="0.7"/>
<line x1="218.90" y1="713.00" x2="218.90" y2="766.70" stroke="#282828" stroke-width="1.0" stroke-opacity="0.65"/>
<rect x="214.40" y="728.30" width="8.90" height="15.00" fill="#fff" stroke="#333" stroke-width="0.8"/>
<line x1="214.40" y1="734.90" x2="223.30" y2="734.90" stroke="#333" stroke-width="1.4"/>
<circle cx="218.90" cy="681.80" r="1.8" fill="#333"/>
<path d="M257.20,691.80 C256.75,692.17 255.70,692.97 254.50,694.00 C253.30,695.03 251.42,696.67 250.00,698.00 C248.58,699.33 247.12,700.60 246.00,702.00 C244.88,703.40 242.97,705.23 243.30,706.40 C243.63,707.57 246.18,707.90 248.00,709.00 C249.82,710.10 252.53,711.83 254.20,713.00 C255.87,714.17 256.95,715.03 258.00,716.00 C259.05,716.97 260.17,717.97 260.50,718.80 C260.83,719.63 260.12,720.08 260.00,721.00 C259.88,721.92 259.72,723.30 259.80,724.30 C259.88,725.30 260.17,726.10 260.50,727.00 C260.83,727.90 261.55,728.53 261.80,729.70 C262.05,730.87 261.97,732.53 262.00,734.00 C262.03,735.47 262.00,737.75 262.00,738.50 L264.00,738.50 C264.00,737.75 263.97,735.47 264.00,734.00 C264.03,732.53 263.95,730.87 264.20,729.70 C264.45,728.53 265.17,727.90 265.50,727.00 C265.83,726.10 266.12,725.30 266.20,724.30 C266.28,723.30 266.12,721.92 266.00,721.00 C265.88,720.08 265.17,719.63 265.50,718.80 C265.83,717.97 266.95,716.97 268.00,716.00 C269.05,715.03 270.13,714.17 271.80,713.00 C273.47,711.83 276.18,710.10 278.00,709.00 C279.82,707.90 282.37,707.57 282.70,706.40 C283.03,705.23 281.12,703.40 280.00,702.00 C278.88,700.60 277.42,699.33 276.00,698.00 C274.58,696.67 272.70,695.03 271.50,694.00 C270.30,692.97 269.25,692.17 268.80,691.80 Z" fill="#c13a30" stroke="#333" stroke-width="0.7"/>
<line x1="263.00" y1="691.80" x2="263.00" y2="716.00" stroke="#282828" stroke-width="1.0" stroke-opacity="0.65"/>
<rect x="258.60" y="699.50" width="8.80" height="9.40" fill="#fff" stroke="#333" stroke-width="0.8"/>
<line x1="258.60" y1="704.20" x2="267.40" y2="704.20" stroke="#333" stroke-width="1.4"/>
<circle cx="263.00" cy="724.30" r="2.3" fill="#333"/>
<circle cx="263.00" cy="738.50" r="1.8" fill="#333"/>
<path d="M83.30,806.70 C83.27,807.25 83.22,808.87 83.10,810.00 C82.98,811.13 83.08,812.33 82.60,813.50 C82.12,814.67 81.30,815.67 80.20,817.00 C79.10,818.33 77.42,819.83 76.00,821.50 C74.58,823.17 73.15,824.80 71.70,827.00 C70.25,829.20 67.72,832.37 67.30,834.70 C66.88,837.03 68.35,838.68 69.20,841.00 C70.05,843.32 71.23,846.27 72.40,848.60 C73.57,850.93 74.98,852.82 76.20,855.00 C77.42,857.18 78.62,859.53 79.70,861.70 C80.78,863.87 81.95,866.28 82.70,868.00 C83.45,869.72 83.80,870.67 84.20,872.00 C84.60,873.33 84.95,875.33 85.10,876.00 L90.30,876.00 C90.45,875.33 90.80,873.33 91.20,872.00 C91.60,870.67 91.95,869.72 92.70,868.00 C93.45,866.28 94.62,863.87 95.70,861.70 C96.78,859.53 97.98,857.18 99.20,855.00 C100.42,852.82 101.83,850.93 103.00,848.60 C104.17,846.27 105.35,843.32 106.20,841.00 C107.05,838.68 108.52,837.03 108.10,834.70 C107.68,832.37 105.15,829.20 103.70,827.00 C102.25,824.80 100.82,823.17 99.40,821.50 C97.98,819.83 96.30,818.33 95.20,817.00 C94.10,815.67 93.28,814.67 92.80,813.50 C92.32,812.33 92.42,811.13 92.30,810.00 C92.18,808.87 92.13,807.25 92.10,806.70 Z" fill="#3481c4" stroke="#333" stroke-width="0.7"/>
<line x1="87.70" y1="806.70" x2="87.70" y2="876.00" stroke="#282828" stroke-width="1.0" stroke-opacity="0.65"/>
<rect x="83.40" y="829.60" width="8.70" height="20.70" fill="#fff" stroke="#333" stroke-width="0.8"/>
<line x1="83.40" y1="837.20" x2="92.10" y2="837.20" stroke="#333" stroke-width="1.4"/>
<path d="M129.50,802.60 C129.47,803.50 129.38,806.18 129.30,808.00 C129.22,809.82 129.38,811.67 129.00,813.50 C128.62,815.33 127.80,817.05 127.00,819.00 C126.20,820.95 125.20,823.20 124.20,825.20 C123.20,827.20 121.97,829.05 121.00,831.00 C120.03,832.95 119.15,834.40 118.40,836.90 C117.65,839.40 116.95,842.60 116.50,846.00 C116.05,849.40 115.75,854.47 115.70,857.30 C115.65,860.13 115.60,861.05 116.20,863.00 C116.80,864.95 118.22,867.17 119.30,869.00 C120.38,870.83 121.72,872.50 122.70,874.00 C123.68,875.50 124.53,876.67 125.20,878.00 C125.87,879.33 126.32,880.83 126.70,882.00 C127.08,883.17 127.30,884.12 127.50,885.00 C127.70,885.88 127.83,886.92 127.90,887.30 L135.10,887.30 C135.17,886.92 135.30,885.88 135.50,885.00 C135.70,884.12 135.92,883.17 136.30,882.00 C136.68,880.83 137.13,879.33 137.80,878.00 C138.47,876.67 139.32,875.50 140.30,874.00 C141.28,872.50 142.62,870.83 143.70,869.00 C144.78,867.17 146.20,864.95 146.80,863.00 C147.40,861.05 147.35,860.13 147.30,857.30 C147.25,854.47 146.95,849.40 146.50,846.00 C146.05,842.60 145.35,839.40 144.60,836.90 C143.85,834.40 142.97,832.95 142.00,831.00 C141.03,829.05 139.80,827.20 138.80,825.20 C137.80,823.20 136.80,820.95 136.00,819.00 C135.20,817.05 134.38,815.33 134.00,813.50 C133.62,811.67 133.78,809.82 133.70,808.00 C133.62,806.18 133.53,803.50 133.50,802.60 Z" fill="#c13a30" stroke="#333" stroke-width="0.7"/>
<line x1="131.50" y1="802.60" x2="131.50" y2="887.20" stroke="#282828" stroke-width="1.0" stroke-opacity="0.65"/>
<rect x="127.40" y="835.40" width="8.80" height="28.90" fill="#fff" stroke="#333" stroke-width="0.8"/>
<line x1="127.40" y1="851.80" x2="136.20" y2="851.80" stroke="#333" stroke-width="1.4"/>
<path d="M214.80,802.60 C214.73,803.17 214.63,804.67 214.40,806.00 C214.17,807.33 214.07,808.93 213.40,810.60 C212.73,812.27 211.50,814.05 210.40,816.00 C209.30,817.95 208.05,819.97 206.80,822.30 C205.55,824.63 203.97,827.72 202.90,830.00 C201.83,832.28 201.05,834.12 200.40,836.00 C199.75,837.88 198.67,839.80 199.00,841.30 C199.33,842.80 200.98,843.78 202.40,845.00 C203.82,846.22 205.92,847.27 207.50,848.60 C209.08,849.93 210.83,851.77 211.90,853.00 C212.97,854.23 213.30,854.92 213.90,856.00 C214.50,857.08 215.23,858.92 215.50,859.50 L222.30,859.50 C222.57,858.92 223.30,857.08 223.90,856.00 C224.50,854.92 224.83,854.23 225.90,853.00 C226.97,851.77 228.72,849.93 230.30,848.60 C231.88,847.27 233.98,846.22 235.40,845.00 C236.82,843.78 238.47,842.80 238.80,841.30 C239.13,839.80 238.05,837.88 237.40,836.00 C236.75,834.12 235.97,832.28 234.90,830.00 C233.83,827.72 232.25,824.63 231.00,822.30 C229.75,819.97 228.50,817.95 227.40,816.00 C226.30,814.05 225.07,812.27 224.40,810.60 C223.73,808.93 223.63,807.33 223.40,806.00 C223.17,804.67 223.07,803.17 223.00,802.60 Z" fill="#3481c4" stroke="#333" stroke-width="0.7"/>
<line x1="218.90" y1="802.60" x2="218.90" y2="859.50" stroke="#282828" stroke-width="1.0" stroke-opacity="0.65"/>
<rect x="214.50" y="826.70" width="8.80" height="17.20" fill="#fff" stroke="#333" stroke-width="0.8"/>
<line x1="214.50" y1="837.60" x2="223.30" y2="837.60" stroke="#333" stroke-width="1.4"/>
<path d="M261.10,812.50 C260.92,813.42 260.53,815.88 260.00,818.00 C259.47,820.12 258.73,823.03 257.90,825.20 C257.07,827.37 256.10,829.05 255.00,831.00 C253.90,832.95 252.27,835.07 251.30,836.90 C250.33,838.73 249.68,840.42 249.20,842.00 C248.72,843.58 248.30,844.73 248.40,846.40 C248.50,848.07 248.83,849.45 249.80,852.00 C250.77,854.55 253.00,858.70 254.20,861.70 C255.40,864.70 256.13,867.32 257.00,870.00 C257.87,872.68 258.82,875.63 259.40,877.80 C259.98,879.97 260.23,881.35 260.50,883.00 C260.77,884.65 260.92,886.92 261.00,887.70 L265.00,887.70 C265.08,886.92 265.23,884.65 265.50,883.00 C265.77,881.35 266.02,879.97 266.60,877.80 C267.18,875.63 268.13,872.68 269.00,870.00 C269.87,867.32 270.60,864.70 271.80,861.70 C273.00,858.70 275.23,854.55 276.20,852.00 C277.17,849.45 277.50,848.07 277.60,846.40 C277.70,844.73 277.28,843.58 276.80,842.00 C276.32,840.42 275.67,838.73 274.70,836.90 C273.73,835.07 272.10,832.95 271.00,831.00 C269.90,829.05 268.93,827.37 268.10,825.20 C267.27,823.03 266.53,820.12 266.00,818.00 C265.47,815.88 265.08,813.42 264.90,812.50 Z" fill="#c13a30" stroke="#333" stroke-width="0.7"/>
<line x1="263.00" y1="812.50" x2="263.00" y2="887.70" stroke="#282828" stroke-width="1.0" stroke-opacity="0.65"/>
<rect x="258.60" y="840.50" width="8.80" height="21.20" fill="#fff" stroke="#333" stroke-width="0.8"/>
<line x1="258.60" y1="847.10" x2="267.40" y2="847.10" stroke="#333" stroke-width="1.4"/>
<line x1="55.00" y1="352.80" x2="55.00" y2="426.40" stroke="#000" stroke-width="1.45"/>
<line x1="51.80" y1="357.70" x2="55.00" y2="357.70" stroke="#000" stroke-width="1.3"/>
<text x="49.50" y="361.70" font-size="11.2" text-anchor="end" fill="#1a1a1a">0.6</text>
<line x1="51.80" y1="379.40" x2="55.00" y2="379.40" stroke="#000" stroke-width="1.3"/>
<text x="49.50" y="383.40" font-size="11.2" text-anchor="end" fill="#1a1a1a">0.5</text>
<line x1="51.80" y1="401.90" x2="55.00" y2="401.90" stroke="#000" stroke-width="1.3"/>
<text x="49.50" y="405.90" font-size="11.2" text-anchor="end" fill="#1a1a1a">0.4</text>
<line x1="51.80" y1="423.80" x2="55.00" y2="423.80" stroke="#000" stroke-width="1.3"/>
<text x="49.50" y="427.80" font-size="11.2" text-anchor="end" fill="#1a1a1a">0.3</text>
<line x1="189.20" y1="352.80" x2="189.20" y2="426.40" stroke="#000" stroke-width="1.45"/>
<line x1="186.00" y1="354.60" x2="189.20" y2="354.60" stroke="#000" stroke-width="1.3"/>
<text x="183.70" y="358.60" font-size="11.2" text-anchor="end" fill="#1a1a1a">0.25</text>
<line x1="186.00" y1="372.50" x2="189.20" y2="372.50" stroke="#000" stroke-width="1.3"/>
<text x="183.70" y="376.50" font-size="11.2" text-anchor="end" fill="#1a1a1a">0.20</text>
<line x1="186.00" y1="390.60" x2="189.20" y2="390.60" stroke="#000" stroke-width="1.3"/>
<text x="183.70" y="394.60" font-size="11.2" text-anchor="end" fill="#1a1a1a">0.15</text>
<line x1="186.00" y1="408.30" x2="189.20" y2="408.30" stroke="#000" stroke-width="1.3"/>
<text x="183.70" y="412.30" font-size="11.2" text-anchor="end" fill="#1a1a1a">0.10</text>
<line x1="186.00" y1="425.80" x2="189.20" y2="425.80" stroke="#000" stroke-width="1.3"/>
<text x="183.70" y="429.80" font-size="11.2" text-anchor="end" fill="#1a1a1a">0.05</text>
<line x1="55.00" y1="453.90" x2="55.00" y2="527.30" stroke="#000" stroke-width="1.45"/>
<line x1="51.80" y1="459.00" x2="55.00" y2="459.00" stroke="#000" stroke-width="1.3"/>
<text x="49.50" y="463.00" font-size="11.2" text-anchor="end" fill="#1a1a1a">0.20</text>
<line x1="51.80" y1="477.70" x2="55.00" y2="477.70" stroke="#000" stroke-width="1.3"/>
<text x="49.50" y="481.70" font-size="11.2" text-anchor="end" fill="#1a1a1a">0.15</text>
<line x1="51.80" y1="496.20" x2="55.00" y2="496.20" stroke="#000" stroke-width="1.3"/>
<text x="49.50" y="500.20" font-size="11.2" text-anchor="end" fill="#1a1a1a">0.10</text>
<line x1="51.80" y1="514.90" x2="55.00" y2="514.90" stroke="#000" stroke-width="1.3"/>
<text x="49.50" y="518.90" font-size="11.2" text-anchor="end" fill="#1a1a1a">0.05</text>
<line x1="189.20" y1="453.90" x2="189.20" y2="528.00" stroke="#000" stroke-width="1.45"/>
<line x1="188.50" y1="527.30" x2="289.70" y2="527.30" stroke="#000" stroke-width="1.45"/>
<line x1="186.00" y1="456.00" x2="189.20" y2="456.00" stroke="#000" stroke-width="1.3"/>
<text x="183.70" y="460.00" font-size="11.2" text-anchor="end" fill="#1a1a1a">0.12</text>
<line x1="186.00" y1="472.10" x2="189.20" y2="472.10" stroke="#000" stroke-width="1.3"/>
<text x="183.70" y="476.10" font-size="11.2" text-anchor="end" fill="#1a1a1a">0.09</text>
<line x1="186.00" y1="488.50" x2="189.20" y2="488.50" stroke="#000" stroke-width="1.3"/>
<text x="183.70" y="492.50" font-size="11.2" text-anchor="end" fill="#1a1a1a">0.06</text>
<line x1="186.00" y1="505.10" x2="189.20" y2="505.10" stroke="#000" stroke-width="1.3"/>
<text x="183.70" y="509.10" font-size="11.2" text-anchor="end" fill="#1a1a1a">0.03</text>
<line x1="186.00" y1="521.50" x2="189.20" y2="521.50" stroke="#000" stroke-width="1.3"/>
<text x="183.70" y="525.50" font-size="11.2" text-anchor="end" fill="#1a1a1a">0.00</text>
<line x1="55.00" y1="554.60" x2="55.00" y2="628.50" stroke="#000" stroke-width="1.45"/>
<line x1="54.30" y1="627.80" x2="155.50" y2="627.80" stroke="#000" stroke-width="1.45"/>
<line x1="51.80" y1="576.50" x2="55.00" y2="576.50" stroke="#000" stroke-width="1.3"/>
<text x="49.50" y="580.50" font-size="11.2" text-anchor="end" fill="#1a1a1a">0.04</text>
<line x1="51.80" y1="598.70" x2="55.00" y2="598.70" stroke="#000" stroke-width="1.3"/>
<text x="49.50" y="602.70" font-size="11.2" text-anchor="end" fill="#1a1a1a">0.02</text>
<line x1="51.80" y1="621.00" x2="55.00" y2="621.00" stroke="#000" stroke-width="1.3"/>
<text x="49.50" y="625.00" font-size="11.2" text-anchor="end" fill="#1a1a1a">0.00</text>
<line x1="61.20" y1="677.90" x2="61.20" y2="770.60" stroke="#000" stroke-width="1.45"/>
<line x1="58.00" y1="692.60" x2="61.20" y2="692.60" stroke="#000" stroke-width="1.3"/>
<text x="55.70" y="696.60" font-size="11.2" text-anchor="end" fill="#1a1a1a">2.10</text>
<line x1="58.00" y1="713.20" x2="61.20" y2="713.20" stroke="#000" stroke-width="1.3"/>
<text x="55.70" y="717.20" font-size="11.2" text-anchor="end" fill="#1a1a1a">2.05</text>
<line x1="58.00" y1="733.70" x2="61.20" y2="733.70" stroke="#000" stroke-width="1.3"/>
<text x="55.70" y="737.70" font-size="11.2" text-anchor="end" fill="#1a1a1a">2.00</text>
<line x1="58.00" y1="754.30" x2="61.20" y2="754.30" stroke="#000" stroke-width="1.3"/>
<text x="55.70" y="758.30" font-size="11.2" text-anchor="end" fill="#1a1a1a">1.95</text>
<line x1="192.70" y1="677.90" x2="192.70" y2="770.60" stroke="#000" stroke-width="1.45"/>
<line x1="189.50" y1="689.00" x2="192.70" y2="689.00" stroke="#000" stroke-width="1.3"/>
<text x="187.20" y="693.00" font-size="11.2" text-anchor="end" fill="#1a1a1a">0.35</text>
<line x1="189.50" y1="710.10" x2="192.70" y2="710.10" stroke="#000" stroke-width="1.3"/>
<text x="187.20" y="714.10" font-size="11.2" text-anchor="end" fill="#1a1a1a">0.30</text>
<line x1="189.50" y1="731.00" x2="192.70" y2="731.00" stroke="#000" stroke-width="1.3"/>
<text x="187.20" y="735.00" font-size="11.2" text-anchor="end" fill="#1a1a1a">0.25</text>
<line x1="189.50" y1="751.60" x2="192.70" y2="751.60" stroke="#000" stroke-width="1.3"/>
<text x="187.20" y="755.60" font-size="11.2" text-anchor="end" fill="#1a1a1a">0.20</text>
<line x1="61.20" y1="798.60" x2="61.20" y2="892.20" stroke="#000" stroke-width="1.45"/>
<line x1="60.50" y1="891.50" x2="158.70" y2="891.50" stroke="#000" stroke-width="1.45"/>
<line x1="58.00" y1="815.90" x2="61.20" y2="815.90" stroke="#000" stroke-width="1.3"/>
<text x="55.70" y="819.90" font-size="11.2" text-anchor="end" fill="#1a1a1a">0.375</text>
<line x1="58.00" y1="834.10" x2="61.20" y2="834.10" stroke="#000" stroke-width="1.3"/>
<text x="55.70" y="838.10" font-size="11.2" text-anchor="end" fill="#1a1a1a">0.350</text>
<line x1="58.00" y1="852.10" x2="61.20" y2="852.10" stroke="#000" stroke-width="1.3"/>
<text x="55.70" y="856.10" font-size="11.2" text-anchor="end" fill="#1a1a1a">0.325</text>
<line x1="58.00" y1="870.30" x2="61.20" y2="870.30" stroke="#000" stroke-width="1.3"/>
<text x="55.70" y="874.30" font-size="11.2" text-anchor="end" fill="#1a1a1a">0.300</text>
<line x1="58.00" y1="888.60" x2="61.20" y2="888.60" stroke="#000" stroke-width="1.3"/>
<text x="55.70" y="892.60" font-size="11.2" text-anchor="end" fill="#1a1a1a">0.275</text>
<line x1="192.70" y1="798.60" x2="192.70" y2="892.20" stroke="#000" stroke-width="1.45"/>
<line x1="192.00" y1="891.50" x2="289.70" y2="891.50" stroke="#000" stroke-width="1.45"/>
<line x1="189.50" y1="798.90" x2="192.70" y2="798.90" stroke="#000" stroke-width="1.3"/>
<text x="187.20" y="802.90" font-size="11.2" text-anchor="end" fill="#1a1a1a">0.24</text>
<line x1="189.50" y1="823.20" x2="192.70" y2="823.20" stroke="#000" stroke-width="1.3"/>
<text x="187.20" y="827.20" font-size="11.2" text-anchor="end" fill="#1a1a1a">0.21</text>
<line x1="189.50" y1="847.30" x2="192.70" y2="847.30" stroke="#000" stroke-width="1.3"/>
<text x="187.20" y="851.30" font-size="11.2" text-anchor="end" fill="#1a1a1a">0.18</text>
<line x1="189.50" y1="871.60" x2="192.70" y2="871.60" stroke="#000" stroke-width="1.3"/>
<text x="187.20" y="875.60" font-size="11.2" text-anchor="end" fill="#1a1a1a">0.15</text>
<polygon points="104.00,361.01 104.55,362.35 105.99,362.47 104.89,363.41 105.23,364.81 104.00,364.06 102.76,364.81 103.10,363.41 102.00,362.47 103.44,362.35" fill="#000"/>
<polygon points="108.43,361.01 108.99,362.35 110.43,362.47 109.33,363.41 109.67,364.81 108.43,364.06 107.20,364.81 107.53,363.41 106.43,362.47 107.88,362.35" fill="#000"/>
<polygon points="112.87,361.01 113.42,362.35 114.87,362.47 113.77,363.41 114.10,364.81 112.87,364.06 111.63,364.81 111.97,363.41 110.87,362.47 112.31,362.35" fill="#000"/>
<polygon points="117.31,361.01 117.86,362.35 119.30,362.47 118.20,363.41 118.54,364.81 117.31,364.06 116.07,364.81 116.41,363.41 115.31,362.47 116.75,362.35" fill="#000"/>
<polygon points="104.00,461.61 104.55,462.95 105.99,463.07 104.89,464.01 105.23,465.41 104.00,464.66 102.76,465.41 103.10,464.01 102.00,463.07 103.44,462.95" fill="#000"/>
<polygon points="108.40,461.61 108.95,462.95 110.40,463.07 109.30,464.01 109.63,465.41 108.40,464.66 107.16,465.41 107.50,464.01 106.40,463.07 107.84,462.95" fill="#000"/>
<polygon points="112.80,461.61 113.36,462.95 114.80,463.07 113.70,464.01 114.04,465.41 112.80,464.66 111.57,465.41 111.90,464.01 110.80,463.07 112.25,462.95" fill="#000"/>
<polygon points="117.21,461.61 117.76,462.95 119.20,463.07 118.10,464.01 118.44,465.41 117.21,464.66 115.97,465.41 116.31,464.01 115.21,463.07 116.65,462.95" fill="#000"/>
<polygon points="238.40,461.61 238.95,462.95 240.39,463.07 239.29,464.01 239.63,465.41 238.40,464.66 237.16,465.41 237.50,464.01 236.40,463.07 237.84,462.95" fill="#000"/>
<polygon points="242.77,461.61 243.32,462.95 244.76,463.07 243.66,464.01 244.00,465.41 242.77,464.66 241.53,465.41 241.87,464.01 240.77,463.07 242.21,462.95" fill="#000"/>
<polygon points="247.14,461.61 247.69,462.95 249.13,463.07 248.03,464.01 248.37,465.41 247.14,464.66 245.90,465.41 246.24,464.01 245.14,463.07 246.58,462.95" fill="#000"/>
<polygon points="251.50,461.61 252.06,462.95 253.50,463.07 252.40,464.01 252.74,465.41 251.50,464.66 250.27,465.41 250.61,464.01 249.51,463.07 250.95,462.95" fill="#000"/>
<polygon points="104.00,562.22 104.55,563.55 105.99,563.67 104.89,564.61 105.23,566.01 104.00,565.26 102.76,566.01 103.10,564.61 102.00,563.67 103.44,563.55" fill="#000"/>
<polygon points="108.40,562.22 108.95,563.55 110.40,563.67 109.30,564.61 109.63,566.01 108.40,565.26 107.16,566.01 107.50,564.61 106.40,563.67 107.84,563.55" fill="#000"/>
<polygon points="112.80,562.22 113.36,563.55 114.80,563.67 113.70,564.61 114.04,566.01 112.80,565.26 111.57,566.01 111.90,564.61 110.80,563.67 112.25,563.55" fill="#000"/>
<polygon points="117.21,562.22 117.76,563.55 119.20,563.67 118.10,564.61 118.44,566.01 117.21,565.26 115.97,566.01 116.31,564.61 115.21,563.67 116.65,563.55" fill="#000"/>
<polygon points="100.23,681.82 100.88,683.38 102.56,683.51 101.28,684.61 101.67,686.25 100.23,685.37 98.79,686.25 99.18,684.61 97.90,683.51 99.58,683.38" fill="#000"/>
<polygon points="105.51,681.82 106.16,683.38 107.84,683.51 106.56,684.61 106.95,686.25 105.51,685.37 104.07,686.25 104.46,684.61 103.18,683.51 104.86,683.38" fill="#000"/>
<polygon points="110.79,681.82 111.44,683.38 113.12,683.51 111.84,684.61 112.23,686.25 110.79,685.37 109.35,686.25 109.74,684.61 108.46,683.51 110.14,683.38" fill="#000"/>
<polygon points="116.07,681.82 116.72,683.38 118.40,683.51 117.12,684.61 117.51,686.25 116.07,685.37 114.63,686.25 115.02,684.61 113.74,683.51 115.42,683.38" fill="#000"/>
<polygon points="233.93,680.22 234.58,681.78 236.26,681.91 234.98,683.01 235.37,684.65 233.93,683.77 232.49,684.65 232.88,683.01 231.60,681.91 233.28,681.78" fill="#000"/>
<polygon points="238.84,680.22 239.49,681.78 241.17,681.91 239.89,683.01 240.28,684.65 238.84,683.77 237.40,684.65 237.79,683.01 236.51,681.91 238.19,681.78" fill="#000"/>
<polygon points="243.76,680.22 244.41,681.78 246.09,681.91 244.81,683.01 245.20,684.65 243.76,683.77 242.32,684.65 242.71,683.01 241.43,681.91 243.11,681.78" fill="#000"/>
<polygon points="248.67,680.22 249.32,681.78 251.00,681.91 249.72,683.01 250.11,684.65 248.67,683.77 247.23,684.65 247.62,683.01 246.34,681.91 248.02,681.78" fill="#000"/>
<polygon points="108.20,801.22 108.85,802.78 110.53,802.91 109.25,804.01 109.64,805.65 108.20,804.77 106.76,805.65 107.15,804.01 105.87,802.91 107.55,802.78" fill="#000"/>
<polygon points="236.13,802.42 236.78,803.98 238.46,804.11 237.18,805.21 237.57,806.85 236.13,805.97 234.69,806.85 235.08,805.21 233.80,804.11 235.48,803.98" fill="#000"/>
<polygon points="241.45,802.42 242.10,803.98 243.78,804.11 242.50,805.21 242.89,806.85 241.45,805.97 240.01,806.85 240.40,805.21 239.12,804.11 240.80,803.98" fill="#000"/>
<polygon points="246.77,802.42 247.42,803.98 249.10,804.11 247.82,805.21 248.21,806.85 246.77,805.97 245.33,806.85 245.72,805.21 244.44,804.11 246.12,803.98" fill="#000"/>
<text x="410.30" y="14.70" font-size="10.2" font-weight="bold" text-anchor="middle" fill="#000">Batch</text>
<text x="528.60" y="14.70" font-size="10.2" font-weight="bold" text-anchor="middle" fill="#000">Condition</text>
<rect x="358.60" y="23.60" width="10.50" height="10.50" fill="#e41a1c"/>
<text x="371.80" y="32.00" font-size="10.3" fill="#000">1</text>
<rect x="379.80" y="23.60" width="10.50" height="10.50" fill="#377eb8"/>
<text x="393.00" y="32.00" font-size="10.3" fill="#000">2</text>
<rect x="401.00" y="23.60" width="10.50" height="10.50" fill="#4daf4a"/>
<text x="414.20" y="32.00" font-size="10.3" fill="#000">3</text>
<rect x="422.20" y="23.60" width="10.50" height="10.50" fill="#984ea3"/>
<text x="435.40" y="32.00" font-size="10.3" fill="#000">4</text>
<rect x="443.40" y="23.60" width="10.50" height="10.50" fill="#ff7f00"/>
<text x="456.60" y="32.00" font-size="10.3" fill="#000">5</text>
<rect x="474.50" y="23.60" width="10.50" height="10.50" fill="#3481c4"/>
<text x="488.40" y="32.00" font-size="10.3" fill="#000">Control</text>
<rect x="528.80" y="23.60" width="10.50" height="10.50" fill="#c13a30"/>
<text x="543.60" y="32.00" font-size="10.3" fill="#000">Treated</text>
<path d="M361.35,62.40L364.25,62.40 M361.35,62.40L361.35,76.60 M364.25,62.40L364.25,76.60 M370.05,72.28L372.95,72.28 M370.05,72.28L370.05,76.60 M372.95,72.28L372.95,76.60 M367.15,70.58L371.50,70.58 M367.15,70.58L367.15,76.60 M371.50,70.58L371.50,72.28 M375.85,72.43L378.75,72.43 M375.85,72.43L375.85,76.60 M378.75,72.43L378.75,76.60 M377.30,71.41L381.65,71.41 M377.30,71.41L377.30,72.43 M381.65,71.41L381.65,76.60 M379.48,69.86L384.55,69.86 M379.48,69.86L379.48,71.41 M384.55,69.86L384.55,76.60 M369.32,63.30L382.01,63.30 M369.32,63.30L369.32,70.58 M382.01,63.30L382.01,69.86 M387.45,72.15L390.35,72.15 M387.45,72.15L387.45,76.60 M390.35,72.15L390.35,76.60 M393.25,71.77L396.15,71.77 M393.25,71.77L393.25,76.60 M396.15,71.77L396.15,76.60 M394.70,70.77L399.05,70.77 M394.70,70.77L394.70,71.77 M399.05,70.77L399.05,76.60 M388.90,69.51L396.88,69.51 M388.90,69.51L388.90,72.15 M396.88,69.51L396.88,70.77 M407.75,72.31L410.65,72.31 M407.75,72.31L407.75,76.60 M410.65,72.31L410.65,76.60 M404.85,71.31L409.20,71.31 M404.85,71.31L404.85,76.60 M409.20,71.31L409.20,72.31 M401.95,70.31L407.02,70.31 M401.95,70.31L401.95,76.60 M407.02,70.31L407.02,71.31 M413.55,71.49L416.45,71.49 M413.55,71.49L413.55,76.60 M416.45,71.49L416.45,76.60 M404.49,68.52L415.00,68.52 M404.49,68.52L404.49,70.31 M415.00,68.52L415.00,71.49 M392.89,63.20L409.74,63.20 M392.89,63.20L392.89,69.51 M409.74,63.20L409.74,68.52 M375.67,59.50L401.32,59.50 M375.67,59.50L375.67,63.30 M401.32,59.50L401.32,63.20 M419.35,72.24L422.25,72.24 M419.35,72.24L419.35,76.60 M422.25,72.24L422.25,76.60 M420.80,70.28L425.15,70.28 M420.80,70.28L420.80,72.24 M425.15,70.28L425.15,76.60 M430.95,71.52L433.85,71.52 M430.95,71.52L430.95,76.60 M433.85,71.52L433.85,76.60 M439.65,71.38L442.55,71.38 M439.65,71.38L439.65,76.60 M442.55,71.38L442.55,76.60 M436.75,70.38L441.10,70.38 M436.75,70.38L436.75,76.60 M441.10,70.38L441.10,71.38 M432.40,69.07L438.93,69.07 M432.40,69.07L432.40,71.52 M438.93,69.07L438.93,70.38 M428.05,67.74L435.66,67.74 M428.05,67.74L428.05,76.60 M435.66,67.74L435.66,69.07 M445.45,71.70L448.35,71.70 M445.45,71.70L445.45,76.60 M448.35,71.70L448.35,76.60 M454.15,72.32L457.05,72.32 M454.15,72.32L454.15,76.60 M457.05,72.32L457.05,76.60 M451.25,70.12L455.60,70.12 M451.25,70.12L451.25,76.60 M455.60,70.12L455.60,72.32 M446.90,68.55L453.43,68.55 M446.90,68.55L446.90,71.70 M453.43,68.55L453.43,70.12 M431.86,66.74L450.16,66.74 M431.86,66.74L431.86,67.74 M450.16,66.74L450.16,68.55 M422.98,60.50L441.01,60.50 M422.98,60.50L422.98,70.28 M441.01,60.50L441.01,66.74 M388.49,58.00L431.99,58.00 M388.49,58.00L388.49,59.50 M431.99,58.00L431.99,60.50 M362.80,56.30L410.24,56.30 M362.80,56.30L362.80,62.40 M410.24,56.30L410.24,58.00 M358.45,55.20L386.52,55.20 M358.45,55.20L358.45,76.60 M386.52,55.20L386.52,56.30" stroke="#000" stroke-width="0.85" fill="none" stroke-linecap="square"/>
<path d="M465.58,69.50L468.50,69.50 M465.58,69.50L465.58,76.60 M468.50,69.50L468.50,76.60 M467.04,68.15L471.42,68.15 M467.04,68.15L467.04,69.50 M471.42,68.15L471.42,76.60 M462.66,58.50L469.23,58.50 M462.66,58.50L462.66,76.60 M469.23,58.50L469.23,68.15 M465.94,54.30L474.34,54.30 M465.94,54.30L465.94,58.50 M474.34,54.30L474.34,76.60 M477.26,69.16L480.18,69.16 M477.26,69.16L477.26,76.60 M480.18,69.16L480.18,76.60 M478.72,67.18L483.10,67.18 M478.72,67.18L478.72,69.16 M483.10,67.18L483.10,76.60 M480.91,64.91L486.02,64.91 M480.91,64.91L480.91,67.18 M486.02,64.91L486.02,76.60 M488.94,68.42L491.86,68.42 M488.94,68.42L488.94,76.60 M491.86,68.42L491.86,76.60 M497.70,70.01L500.62,70.01 M497.70,70.01L497.70,76.60 M500.62,70.01L500.62,76.60 M509.38,69.85L512.30,69.85 M509.38,69.85L509.38,76.60 M512.30,69.85L512.30,76.60 M506.46,68.53L510.84,68.53 M506.46,68.53L506.46,76.60 M510.84,68.53L510.84,69.85 M503.54,67.53L508.65,67.53 M503.54,67.53L503.54,76.60 M508.65,67.53L508.65,68.53 M499.16,64.26L506.09,64.26 M499.16,64.26L499.16,70.01 M506.09,64.26L506.09,67.53 M494.78,63.26L502.63,63.26 M494.78,63.26L494.78,76.60 M502.63,63.26L502.63,64.26 M490.40,60.30L498.70,60.30 M490.40,60.30L490.40,68.42 M498.70,60.30L498.70,63.26 M515.22,68.62L518.14,68.62 M515.22,68.62L515.22,76.60 M518.14,68.62L518.14,76.60 M521.06,69.94L523.98,69.94 M521.06,69.94L521.06,76.60 M523.98,69.94L523.98,76.60 M516.68,67.12L522.52,67.12 M516.68,67.12L516.68,68.62 M522.52,67.12L522.52,69.94 M494.55,58.30L519.60,58.30 M494.55,58.30L494.55,60.30 M519.60,58.30L519.60,67.12 M483.46,57.30L507.08,57.30 M483.46,57.30L483.46,64.91 M507.08,57.30L507.08,58.30 M526.90,69.95L529.82,69.95 M526.90,69.95L526.90,76.60 M529.82,69.95L529.82,76.60 M528.36,67.69L532.74,67.69 M528.36,67.69L528.36,69.95 M532.74,67.69L532.74,76.60 M541.50,69.88L544.42,69.88 M541.50,69.88L541.50,76.60 M544.42,69.88L544.42,76.60 M538.58,67.98L542.96,67.98 M538.58,67.98L538.58,76.60 M542.96,67.98L542.96,69.88 M535.66,66.98L540.77,66.98 M535.66,66.98L535.66,76.60 M540.77,66.98L540.77,67.98 M530.55,57.50L538.21,57.50 M530.55,57.50L530.55,67.69 M538.21,57.50L538.21,66.98 M495.27,53.90L534.38,53.90 M495.27,53.90L495.27,57.30 M534.38,53.90L534.38,57.50 M470.14,46.20L514.83,46.20 M470.14,46.20L470.14,54.30 M514.83,46.20L514.83,53.90" stroke="#000" stroke-width="0.85" fill="none" stroke-linecap="square"/>
<rect x="357.00" y="77.30" width="8.75" height="14.80" fill="#984ea3"/>
<rect x="365.70" y="77.30" width="2.95" height="14.80" fill="#e41a1c"/>
<rect x="368.60" y="77.30" width="2.95" height="14.80" fill="#ff7f00"/>
<rect x="371.50" y="77.30" width="2.95" height="14.80" fill="#e41a1c"/>
<rect x="374.40" y="77.30" width="8.75" height="14.80" fill="#984ea3"/>
<rect x="383.10" y="77.30" width="5.85" height="14.80" fill="#e41a1c"/>
<rect x="388.90" y="77.30" width="2.95" height="14.80" fill="#377eb8"/>
<rect x="391.80" y="77.30" width="8.75" height="14.80" fill="#4daf4a"/>
<rect x="400.50" y="77.30" width="2.95" height="14.80" fill="#984ea3"/>
<rect x="403.40" y="77.30" width="2.95" height="14.80" fill="#377eb8"/>
<rect x="406.30" y="77.30" width="5.85" height="14.80" fill="#984ea3"/>
<rect x="412.10" y="77.30" width="2.95" height="14.80" fill="#377eb8"/>
<rect x="415.00" y="77.30" width="5.85" height="14.80" fill="#e41a1c"/>
<rect x="420.80" y="77.30" width="5.85" height="14.80" fill="#984ea3"/>
<rect x="426.60" y="77.30" width="2.95" height="14.80" fill="#4daf4a"/>
<rect x="429.50" y="77.30" width="2.95" height="14.80" fill="#377eb8"/>
<rect x="432.40" y="77.30" width="2.95" height="14.80" fill="#e41a1c"/>
<rect x="435.30" y="77.30" width="11.65" height="14.80" fill="#ff7f00"/>
<rect x="446.90" y="77.30" width="2.95" height="14.80" fill="#e41a1c"/>
<rect x="449.80" y="77.30" width="8.70" height="14.80" fill="#ff7f00"/>
<rect x="461.20" y="77.30" width="11.73" height="14.80" fill="#ff7f00"/>
<rect x="472.88" y="77.30" width="2.97" height="14.80" fill="#984ea3"/>
<rect x="475.80" y="77.30" width="2.97" height="14.80" fill="#ff7f00"/>
<rect x="478.72" y="77.30" width="2.97" height="14.80" fill="#984ea3"/>
<rect x="481.64" y="77.30" width="5.89" height="14.80" fill="#ff7f00"/>
<rect x="487.48" y="77.30" width="2.97" height="14.80" fill="#984ea3"/>
<rect x="490.40" y="77.30" width="8.81" height="14.80" fill="#ff7f00"/>
<rect x="499.16" y="77.30" width="14.65" height="14.80" fill="#984ea3"/>
<rect x="513.76" y="77.30" width="11.73" height="14.80" fill="#ff7f00"/>
<rect x="525.44" y="77.30" width="20.44" height="14.80" fill="#984ea3"/>
<rect x="357.00" y="93.00" width="101.50" height="15.10" fill="#3481c4"/>
<rect x="461.20" y="93.00" width="84.68" height="15.10" fill="#c13a30"/>
<text x="548.90" y="89.20" font-size="12.3" fill="#000">Batch</text>
<text x="548.90" y="105.80" font-size="12.3" fill="#000">Condition</text>
<rect x="357.00" y="111.10" width="2.95" height="16.72" fill="#c6b8f6"/>
<rect x="359.90" y="111.10" width="2.95" height="16.72" fill="#fad2c6"/>
<rect x="362.80" y="111.10" width="23.25" height="16.72" fill="#c6b8f6"/>
<rect x="386.00" y="111.10" width="2.95" height="16.72" fill="#ac92f9"/>
<rect x="388.90" y="111.10" width="2.95" height="16.72" fill="#c6b8f6"/>
<rect x="391.80" y="111.10" width="2.95" height="16.72" fill="#ac92f9"/>
<rect x="394.70" y="111.10" width="5.85" height="16.72" fill="#c6b8f6"/>
<rect x="400.50" y="111.10" width="2.95" height="16.72" fill="#ac92f9"/>
<rect x="403.40" y="111.10" width="2.95" height="16.72" fill="#efedf0"/>
<rect x="406.30" y="111.10" width="2.95" height="16.72" fill="#fad2c6"/>
<rect x="409.20" y="111.10" width="2.95" height="16.72" fill="#dcd4f2"/>
<rect x="412.10" y="111.10" width="2.95" height="16.72" fill="#ac92f9"/>
<rect x="415.00" y="111.10" width="8.75" height="16.72" fill="#c6b8f6"/>
<rect x="423.70" y="111.10" width="2.95" height="16.72" fill="#fad2c6"/>
<rect x="426.60" y="111.10" width="2.95" height="16.72" fill="#dcd4f2"/>
<rect x="429.50" y="111.10" width="5.85" height="16.72" fill="#c6b8f6"/>
<rect x="435.30" y="111.10" width="2.95" height="16.72" fill="#ac92f9"/>
<rect x="438.20" y="111.10" width="2.95" height="16.72" fill="#dcd4f2"/>
<rect x="441.10" y="111.10" width="5.85" height="16.72" fill="#ac92f9"/>
<rect x="446.90" y="111.10" width="2.95" height="16.72" fill="#805ffc"/>
<rect x="449.80" y="111.10" width="2.95" height="16.72" fill="#ac92f9"/>
<rect x="452.70" y="111.10" width="2.95" height="16.72" fill="#805ffc"/>
<rect x="455.60" y="111.10" width="2.95" height="16.72" fill="#ac92f9"/>
<rect x="461.20" y="111.10" width="2.97" height="16.72" fill="#fc644b"/>
<rect x="464.12" y="111.10" width="2.97" height="16.72" fill="#ff0000"/>
<rect x="467.04" y="111.10" width="2.97" height="16.72" fill="#fc9178"/>
<rect x="469.96" y="111.10" width="2.97" height="16.72" fill="#fc644b"/>
<rect x="472.88" y="111.10" width="2.97" height="16.72" fill="#fc9178"/>
<rect x="475.80" y="111.10" width="5.89" height="16.72" fill="#fcb4a0"/>
<rect x="481.64" y="111.10" width="2.97" height="16.72" fill="#fad2c6"/>
<rect x="484.56" y="111.10" width="5.89" height="16.72" fill="#fc9178"/>
<rect x="490.40" y="111.10" width="5.89" height="16.72" fill="#fcb4a0"/>
<rect x="496.24" y="111.10" width="2.97" height="16.72" fill="#fc9178"/>
<rect x="499.16" y="111.10" width="8.81" height="16.72" fill="#fcb4a0"/>
<rect x="507.92" y="111.10" width="2.97" height="16.72" fill="#fad2c6"/>
<rect x="510.84" y="111.10" width="2.97" height="16.72" fill="#fcb4a0"/>
<rect x="513.76" y="111.10" width="2.97" height="16.72" fill="#dcd4f2"/>
<rect x="516.68" y="111.10" width="2.97" height="16.72" fill="#fad2c6"/>
<rect x="519.60" y="111.10" width="5.89" height="16.72" fill="#fcb4a0"/>
<rect x="525.44" y="111.10" width="5.89" height="16.72" fill="#dcd4f2"/>
<rect x="531.28" y="111.10" width="2.97" height="16.72" fill="#fc9178"/>
<rect x="534.20" y="111.10" width="2.97" height="16.72" fill="#dcd4f2"/>
<rect x="537.12" y="111.10" width="2.97" height="16.72" fill="#efedf0"/>
<rect x="540.04" y="111.10" width="2.97" height="16.72" fill="#fad2c6"/>
<rect x="542.96" y="111.10" width="2.97" height="16.72" fill="#dcd4f2"/>
<text x="548.90" y="123.16" font-size="10.4" fill="#000">H2A1AK5ac</text>
<rect x="357.00" y="130.80" width="2.95" height="16.72" fill="#fad2c6"/>
<rect x="359.90" y="130.80" width="2.95" height="16.72" fill="#c6b8f6"/>
<rect x="362.80" y="130.80" width="2.95" height="16.72" fill="#fcb4a0"/>
<rect x="365.70" y="130.80" width="2.95" height="16.72" fill="#fad2c6"/>
<rect x="368.60" y="130.80" width="2.95" height="16.72" fill="#fc9178"/>
<rect x="371.50" y="130.80" width="2.95" height="16.72" fill="#dcd4f2"/>
<rect x="374.40" y="130.80" width="2.95" height="16.72" fill="#fc644b"/>
<rect x="377.30" y="130.80" width="2.95" height="16.72" fill="#fad2c6"/>
<rect x="380.20" y="130.80" width="2.95" height="16.72" fill="#fcb4a0"/>
<rect x="383.10" y="130.80" width="2.95" height="16.72" fill="#fc9178"/>
<rect x="386.00" y="130.80" width="8.75" height="16.72" fill="#fcb4a0"/>
<rect x="394.70" y="130.80" width="2.95" height="16.72" fill="#c6b8f6"/>
<rect x="397.60" y="130.80" width="2.95" height="16.72" fill="#fad2c6"/>
<rect x="400.50" y="130.80" width="5.85" height="16.72" fill="#dcd4f2"/>
<rect x="406.30" y="130.80" width="2.95" height="16.72" fill="#c6b8f6"/>
<rect x="409.20" y="130.80" width="2.95" height="16.72" fill="#efedf0"/>
<rect x="412.10" y="130.80" width="8.75" height="16.72" fill="#fcb4a0"/>
<rect x="420.80" y="130.80" width="2.95" height="16.72" fill="#ac92f9"/>
<rect x="423.70" y="130.80" width="2.95" height="16.72" fill="#4b32fc"/>
<rect x="426.60" y="130.80" width="2.95" height="16.72" fill="#dcd4f2"/>
<rect x="429.50" y="130.80" width="5.85" height="16.72" fill="#efedf0"/>
<rect x="435.30" y="130.80" width="2.95" height="16.72" fill="#fcb4a0"/>
<rect x="438.20" y="130.80" width="2.95" height="16.72" fill="#fc9178"/>
<rect x="441.10" y="130.80" width="2.95" height="16.72" fill="#fcb4a0"/>
<rect x="444.00" y="130.80" width="2.95" height="16.72" fill="#fad2c6"/>
<rect x="446.90" y="130.80" width="2.95" height="16.72" fill="#fcb4a0"/>
<rect x="449.80" y="130.80" width="2.95" height="16.72" fill="#fc644b"/>
<rect x="452.70" y="130.80" width="2.95" height="16.72" fill="#fc9178"/>
<rect x="455.60" y="130.80" width="2.95" height="16.72" fill="#fcb4a0"/>
<rect x="461.20" y="130.80" width="2.97" height="16.72" fill="#dcd4f2"/>
<rect x="464.12" y="130.80" width="2.97" height="16.72" fill="#4b32fc"/>
<rect x="467.04" y="130.80" width="2.97" height="16.72" fill="#ac92f9"/>
<rect x="469.96" y="130.80" width="2.97" height="16.72" fill="#c6b8f6"/>
<rect x="472.88" y="130.80" width="2.97" height="16.72" fill="#dcd4f2"/>
<rect x="475.80" y="130.80" width="2.97" height="16.72" fill="#fcb4a0"/>
<rect x="478.72" y="130.80" width="2.97" height="16.72" fill="#c6b8f6"/>
<rect x="481.64" y="130.80" width="2.97" height="16.72" fill="#ac92f9"/>
<rect x="484.56" y="130.80" width="2.97" height="16.72" fill="#c6b8f6"/>
<rect x="487.48" y="130.80" width="2.97" height="16.72" fill="#ac92f9"/>
<rect x="490.40" y="130.80" width="2.97" height="16.72" fill="#efedf0"/>
<rect x="493.32" y="130.80" width="2.97" height="16.72" fill="#dcd4f2"/>
<rect x="496.24" y="130.80" width="2.97" height="16.72" fill="#c6b8f6"/>
<rect x="499.16" y="130.80" width="2.97" height="16.72" fill="#ac92f9"/>
<rect x="502.08" y="130.80" width="2.97" height="16.72" fill="#805ffc"/>
<rect x="505.00" y="130.80" width="2.97" height="16.72" fill="#fc9178"/>
<rect x="507.92" y="130.80" width="5.89" height="16.72" fill="#fcb4a0"/>
<rect x="513.76" y="130.80" width="2.97" height="16.72" fill="#c6b8f6"/>
<rect x="516.68" y="130.80" width="2.97" height="16.72" fill="#805ffc"/>
<rect x="519.60" y="130.80" width="2.97" height="16.72" fill="#ac92f9"/>
<rect x="522.52" y="130.80" width="2.97" height="16.72" fill="#c6b8f6"/>
<rect x="525.44" y="130.80" width="5.89" height="16.72" fill="#ac92f9"/>
<rect x="531.28" y="130.80" width="2.97" height="16.72" fill="#c6b8f6"/>
<rect x="534.20" y="130.80" width="2.97" height="16.72" fill="#fc9178"/>
<rect x="537.12" y="130.80" width="2.97" height="16.72" fill="#efedf0"/>
<rect x="540.04" y="130.80" width="2.97" height="16.72" fill="#dcd4f2"/>
<rect x="542.96" y="130.80" width="2.97" height="16.72" fill="#fc644b"/>
<text x="548.90" y="142.86" font-size="10.4" fill="#000">H2AXK5acT6ac</text>
<rect x="357.00" y="150.50" width="2.95" height="16.72" fill="#fcb4a0"/>
<rect x="359.90" y="150.50" width="2.95" height="16.72" fill="#dcd4f2"/>
<rect x="362.80" y="150.50" width="2.95" height="16.72" fill="#c6b8f6"/>
<rect x="365.70" y="150.50" width="2.95" height="16.72" fill="#fc2d19"/>
<rect x="368.60" y="150.50" width="5.85" height="16.72" fill="#fc644b"/>
<rect x="374.40" y="150.50" width="2.95" height="16.72" fill="#ac92f9"/>
<rect x="377.30" y="150.50" width="2.95" height="16.72" fill="#fad2c6"/>
<rect x="380.20" y="150.50" width="5.85" height="16.72" fill="#dcd4f2"/>
<rect x="386.00" y="150.50" width="2.95" height="16.72" fill="#fad2c6"/>
<rect x="388.90" y="150.50" width="5.85" height="16.72" fill="#efedf0"/>
<rect x="394.70" y="150.50" width="2.95" height="16.72" fill="#c6b8f6"/>
<rect x="397.60" y="150.50" width="2.95" height="16.72" fill="#ac92f9"/>
<rect x="400.50" y="150.50" width="8.75" height="16.72" fill="#c6b8f6"/>
<rect x="409.20" y="150.50" width="2.95" height="16.72" fill="#efedf0"/>
<rect x="412.10" y="150.50" width="2.95" height="16.72" fill="#ac92f9"/>
<rect x="415.00" y="150.50" width="2.95" height="16.72" fill="#805ffc"/>
<rect x="417.90" y="150.50" width="2.95" height="16.72" fill="#4b32fc"/>
<rect x="420.80" y="150.50" width="2.95" height="16.72" fill="#dcd4f2"/>
<rect x="423.70" y="150.50" width="2.95" height="16.72" fill="#ac92f9"/>
<rect x="426.60" y="150.50" width="2.95" height="16.72" fill="#dcd4f2"/>
<rect x="429.50" y="150.50" width="2.95" height="16.72" fill="#fad2c6"/>
<rect x="432.40" y="150.50" width="2.95" height="16.72" fill="#4b32fc"/>
<rect x="435.30" y="150.50" width="2.95" height="16.72" fill="#dcd4f2"/>
<rect x="438.20" y="150.50" width="2.95" height="16.72" fill="#fad2c6"/>
<rect x="441.10" y="150.50" width="2.95" height="16.72" fill="#dcd4f2"/>
<rect x="444.00" y="150.50" width="2.95" height="16.72" fill="#fcb4a0"/>
<rect x="446.90" y="150.50" width="2.95" height="16.72" fill="#dcd4f2"/>
<rect x="449.80" y="150.50" width="8.75" height="16.72" fill="#ac92f9"/>
<rect x="461.20" y="150.50" width="2.97" height="16.72" fill="#fc9178"/>
<rect x="464.12" y="150.50" width="2.97" height="16.72" fill="#fcb4a0"/>
<rect x="467.04" y="150.50" width="2.97" height="16.72" fill="#fad2c6"/>
<rect x="469.96" y="150.50" width="5.89" height="16.72" fill="#fc9178"/>
<rect x="475.80" y="150.50" width="5.89" height="16.72" fill="#fcb4a0"/>
<rect x="481.64" y="150.50" width="2.97" height="16.72" fill="#fc9178"/>
<rect x="484.56" y="150.50" width="2.97" height="16.72" fill="#c6b8f6"/>
<rect x="487.48" y="150.50" width="2.97" height="16.72" fill="#fad2c6"/>
<rect x="490.40" y="150.50" width="2.97" height="16.72" fill="#fcb4a0"/>
<rect x="493.32" y="150.50" width="2.97" height="16.72" fill="#fc9178"/>
<rect x="496.24" y="150.50" width="2.97" height="16.72" fill="#fcb4a0"/>
<rect x="499.16" y="150.50" width="2.97" height="16.72" fill="#fc9178"/>
<rect x="502.08" y="150.50" width="11.73" height="16.72" fill="#fc644b"/>
<rect x="513.76" y="150.50" width="5.89" height="16.72" fill="#dcd4f2"/>
<rect x="519.60" y="150.50" width="2.97" height="16.72" fill="#ac92f9"/>
<rect x="522.52" y="150.50" width="2.97" height="16.72" fill="#c6b8f6"/>
<rect x="525.44" y="150.50" width="2.97" height="16.72" fill="#dcd4f2"/>
<rect x="528.36" y="150.50" width="2.97" height="16.72" fill="#ac92f9"/>
<rect x="531.28" y="150.50" width="2.97" height="16.72" fill="#efedf0"/>
<rect x="534.20" y="150.50" width="2.97" height="16.72" fill="#fad2c6"/>
<rect x="537.12" y="150.50" width="2.97" height="16.72" fill="#dcd4f2"/>
<rect x="540.04" y="150.50" width="2.97" height="16.72" fill="#c6b8f6"/>
<rect x="542.96" y="150.50" width="2.97" height="16.72" fill="#ac92f9"/>
<text x="548.90" y="162.56" font-size="10.4" fill="#000">H3K14ac</text>
<rect x="357.00" y="167.22" width="2.95" height="16.72" fill="#c6b8f6"/>
<rect x="359.90" y="167.22" width="2.95" height="16.72" fill="#fc9178"/>
<rect x="362.80" y="167.22" width="5.85" height="16.72" fill="#ac92f9"/>
<rect x="368.60" y="167.22" width="2.95" height="16.72" fill="#efedf0"/>
<rect x="371.50" y="167.22" width="2.95" height="16.72" fill="#ac92f9"/>
<rect x="374.40" y="167.22" width="5.85" height="16.72" fill="#c6b8f6"/>
<rect x="380.20" y="167.22" width="2.95" height="16.72" fill="#ac92f9"/>
<rect x="383.10" y="167.22" width="2.95" height="16.72" fill="#805ffc"/>
<rect x="386.00" y="167.22" width="2.95" height="16.72" fill="#ac92f9"/>
<rect x="388.90" y="167.22" width="5.85" height="16.72" fill="#c6b8f6"/>
<rect x="394.70" y="167.22" width="2.95" height="16.72" fill="#dcd4f2"/>
<rect x="397.60" y="167.22" width="17.45" height="16.72" fill="#ac92f9"/>
<rect x="415.00" y="167.22" width="2.95" height="16.72" fill="#805ffc"/>
<rect x="417.90" y="167.22" width="14.55" height="16.72" fill="#ac92f9"/>
<rect x="432.40" y="167.22" width="2.95" height="16.72" fill="#fad2c6"/>
<rect x="435.30" y="167.22" width="2.95" height="16.72" fill="#ac92f9"/>
<rect x="438.20" y="167.22" width="2.95" height="16.72" fill="#fad2c6"/>
<rect x="441.10" y="167.22" width="17.45" height="16.72" fill="#c6b8f6"/>
<rect x="461.20" y="167.22" width="2.97" height="16.72" fill="#fc9178"/>
<rect x="464.12" y="167.22" width="2.97" height="16.72" fill="#fcb4a0"/>
<rect x="467.04" y="167.22" width="8.81" height="16.72" fill="#fc9178"/>
<rect x="475.80" y="167.22" width="2.97" height="16.72" fill="#fcb4a0"/>
<rect x="478.72" y="167.22" width="2.97" height="16.72" fill="#fad2c6"/>
<rect x="481.64" y="167.22" width="11.73" height="16.72" fill="#fc9178"/>
<rect x="493.32" y="167.22" width="5.89" height="16.72" fill="#fcb4a0"/>
<rect x="499.16" y="167.22" width="5.89" height="16.72" fill="#fc644b"/>
<rect x="505.00" y="167.22" width="5.89" height="16.72" fill="#fad2c6"/>
<rect x="510.84" y="167.22" width="17.57" height="16.72" fill="#fc9178"/>
<rect x="528.36" y="167.22" width="2.97" height="16.72" fill="#fcb4a0"/>
<rect x="531.28" y="167.22" width="2.97" height="16.72" fill="#fad2c6"/>
<rect x="534.20" y="167.22" width="2.97" height="16.72" fill="#fc9178"/>
<rect x="537.12" y="167.22" width="2.97" height="16.72" fill="#fcb4a0"/>
<rect x="540.04" y="167.22" width="2.97" height="16.72" fill="#ff0000"/>
<rect x="542.96" y="167.22" width="2.97" height="16.72" fill="#c6b8f6"/>
<text x="548.90" y="179.28" font-size="10.4" fill="#000">H3K4me</text>
<rect x="357.00" y="183.94" width="2.95" height="16.72" fill="#dcd4f2"/>
<rect x="359.90" y="183.94" width="2.95" height="16.72" fill="#fad2c6"/>
<rect x="362.80" y="183.94" width="2.95" height="16.72" fill="#805ffc"/>
<rect x="365.70" y="183.94" width="2.95" height="16.72" fill="#c6b8f6"/>
<rect x="368.60" y="183.94" width="2.95" height="16.72" fill="#fcb4a0"/>
<rect x="371.50" y="183.94" width="2.95" height="16.72" fill="#c6b8f6"/>
<rect x="374.40" y="183.94" width="2.95" height="16.72" fill="#ac92f9"/>
<rect x="377.30" y="183.94" width="8.75" height="16.72" fill="#c6b8f6"/>
<rect x="386.00" y="183.94" width="2.95" height="16.72" fill="#ac92f9"/>
<rect x="388.90" y="183.94" width="5.85" height="16.72" fill="#c6b8f6"/>
<rect x="394.70" y="183.94" width="2.95" height="16.72" fill="#ac92f9"/>
<rect x="397.60" y="183.94" width="8.75" height="16.72" fill="#c6b8f6"/>
<rect x="406.30" y="183.94" width="2.95" height="16.72" fill="#dcd4f2"/>
<rect x="409.20" y="183.94" width="2.95" height="16.72" fill="#efedf0"/>
<rect x="412.10" y="183.94" width="5.85" height="16.72" fill="#c6b8f6"/>
<rect x="417.90" y="183.94" width="2.95" height="16.72" fill="#dcd4f2"/>
<rect x="420.80" y="183.94" width="2.95" height="16.72" fill="#efedf0"/>
<rect x="423.70" y="183.94" width="2.95" height="16.72" fill="#fc9178"/>
<rect x="426.60" y="183.94" width="5.85" height="16.72" fill="#c6b8f6"/>
<rect x="432.40" y="183.94" width="2.95" height="16.72" fill="#ac92f9"/>
<rect x="435.30" y="183.94" width="5.85" height="16.72" fill="#c6b8f6"/>
<rect x="441.10" y="183.94" width="14.55" height="16.72" fill="#ac92f9"/>
<rect x="455.60" y="183.94" width="2.95" height="16.72" fill="#c6b8f6"/>
<rect x="461.20" y="183.94" width="2.97" height="16.72" fill="#ff0000"/>
<rect x="464.12" y="183.94" width="5.89" height="16.72" fill="#fc2d19"/>
<rect x="469.96" y="183.94" width="2.97" height="16.72" fill="#fc644b"/>
<rect x="472.88" y="183.94" width="5.89" height="16.72" fill="#fc9178"/>
<rect x="478.72" y="183.94" width="2.97" height="16.72" fill="#fc644b"/>
<rect x="481.64" y="183.94" width="2.97" height="16.72" fill="#fc9178"/>
<rect x="484.56" y="183.94" width="2.97" height="16.72" fill="#efedf0"/>
<rect x="487.48" y="183.94" width="8.81" height="16.72" fill="#fc9178"/>
<rect x="496.24" y="183.94" width="2.97" height="16.72" fill="#efedf0"/>
<rect x="499.16" y="183.94" width="2.97" height="16.72" fill="#fad2c6"/>
<rect x="502.08" y="183.94" width="8.81" height="16.72" fill="#fcb4a0"/>
<rect x="510.84" y="183.94" width="2.97" height="16.72" fill="#fc9178"/>
<rect x="513.76" y="183.94" width="2.97" height="16.72" fill="#fad2c6"/>
<rect x="516.68" y="183.94" width="2.97" height="16.72" fill="#dcd4f2"/>
<rect x="519.60" y="183.94" width="5.89" height="16.72" fill="#c6b8f6"/>
<rect x="525.44" y="183.94" width="2.97" height="16.72" fill="#fad2c6"/>
<rect x="528.36" y="183.94" width="5.89" height="16.72" fill="#fcb4a0"/>
<rect x="534.20" y="183.94" width="2.97" height="16.72" fill="#dcd4f2"/>
<rect x="537.12" y="183.94" width="2.97" height="16.72" fill="#fcb4a0"/>
<rect x="540.04" y="183.94" width="2.97" height="16.72" fill="#dcd4f2"/>
<rect x="542.96" y="183.94" width="2.97" height="16.72" fill="#c6b8f6"/>
<text x="548.90" y="196.00" font-size="10.4" fill="#000">H3K9acK14ac</text>
<rect x="357.00" y="200.66" width="2.95" height="16.72" fill="#c6b8f6"/>
<rect x="359.90" y="200.66" width="2.95" height="16.72" fill="#efedf0"/>
<rect x="362.80" y="200.66" width="2.95" height="16.72" fill="#dcd4f2"/>
<rect x="365.70" y="200.66" width="14.55" height="16.72" fill="#c6b8f6"/>
<rect x="380.20" y="200.66" width="2.95" height="16.72" fill="#ac92f9"/>
<rect x="383.10" y="200.66" width="5.85" height="16.72" fill="#c6b8f6"/>
<rect x="388.90" y="200.66" width="2.95" height="16.72" fill="#fcb4a0"/>
<rect x="391.80" y="200.66" width="2.95" height="16.72" fill="#ac92f9"/>
<rect x="394.70" y="200.66" width="2.95" height="16.72" fill="#fc9178"/>
<rect x="397.60" y="200.66" width="2.95" height="16.72" fill="#efedf0"/>
<rect x="400.50" y="200.66" width="5.85" height="16.72" fill="#c6b8f6"/>
<rect x="406.30" y="200.66" width="2.95" height="16.72" fill="#dcd4f2"/>
<rect x="409.20" y="200.66" width="2.95" height="16.72" fill="#c6b8f6"/>
<rect x="412.10" y="200.66" width="2.95" height="16.72" fill="#efedf0"/>
<rect x="415.00" y="200.66" width="5.85" height="16.72" fill="#c6b8f6"/>
<rect x="420.80" y="200.66" width="5.85" height="16.72" fill="#dcd4f2"/>
<rect x="426.60" y="200.66" width="2.95" height="16.72" fill="#fc644b"/>
<rect x="429.50" y="200.66" width="8.75" height="16.72" fill="#ac92f9"/>
<rect x="438.20" y="200.66" width="5.85" height="16.72" fill="#c6b8f6"/>
<rect x="444.00" y="200.66" width="2.95" height="16.72" fill="#805ffc"/>
<rect x="446.90" y="200.66" width="2.95" height="16.72" fill="#c6b8f6"/>
<rect x="449.80" y="200.66" width="8.75" height="16.72" fill="#ac92f9"/>
<rect x="461.20" y="200.66" width="2.97" height="16.72" fill="#fc9178"/>
<rect x="464.12" y="200.66" width="5.89" height="16.72" fill="#fcb4a0"/>
<rect x="469.96" y="200.66" width="2.97" height="16.72" fill="#fc9178"/>
<rect x="472.88" y="200.66" width="2.97" height="16.72" fill="#ac92f9"/>
<rect x="475.80" y="200.66" width="2.97" height="16.72" fill="#fc2d19"/>
<rect x="478.72" y="200.66" width="5.89" height="16.72" fill="#ff0000"/>
<rect x="484.56" y="200.66" width="2.97" height="16.72" fill="#fcb4a0"/>
<rect x="487.48" y="200.66" width="5.89" height="16.72" fill="#fc9178"/>
<rect x="493.32" y="200.66" width="2.97" height="16.72" fill="#fcb4a0"/>
<rect x="496.24" y="200.66" width="2.97" height="16.72" fill="#dcd4f2"/>
<rect x="499.16" y="200.66" width="5.89" height="16.72" fill="#fcb4a0"/>
<rect x="505.00" y="200.66" width="2.97" height="16.72" fill="#fad2c6"/>
<rect x="507.92" y="200.66" width="2.97" height="16.72" fill="#fcb4a0"/>
<rect x="510.84" y="200.66" width="2.97" height="16.72" fill="#fc9178"/>
<rect x="513.76" y="200.66" width="2.97" height="16.72" fill="#dcd4f2"/>
<rect x="516.68" y="200.66" width="2.97" height="16.72" fill="#fcb4a0"/>
<rect x="519.60" y="200.66" width="2.97" height="16.72" fill="#fad2c6"/>
<rect x="522.52" y="200.66" width="5.89" height="16.72" fill="#fcb4a0"/>
<rect x="528.36" y="200.66" width="2.97" height="16.72" fill="#fad2c6"/>
<rect x="531.28" y="200.66" width="2.97" height="16.72" fill="#fcb4a0"/>
<rect x="534.20" y="200.66" width="2.97" height="16.72" fill="#c6b8f6"/>
<rect x="537.12" y="200.66" width="2.97" height="16.72" fill="#ac92f9"/>
<rect x="540.04" y="200.66" width="2.97" height="16.72" fill="#efedf0"/>
<rect x="542.96" y="200.66" width="2.97" height="16.72" fill="#c6b8f6"/>
<text x="548.90" y="212.72" font-size="10.4" fill="#000">H3K18ac</text>
<rect x="357.00" y="217.38" width="2.95" height="16.72" fill="#fad2c6"/>
<rect x="359.90" y="217.38" width="2.95" height="16.72" fill="#dcd4f2"/>
<rect x="362.80" y="217.38" width="2.95" height="16.72" fill="#ac92f9"/>
<rect x="365.70" y="217.38" width="2.95" height="16.72" fill="#fad2c6"/>
<rect x="368.60" y="217.38" width="5.85" height="16.72" fill="#dcd4f2"/>
<rect x="374.40" y="217.38" width="2.95" height="16.72" fill="#c6b8f6"/>
<rect x="377.30" y="217.38" width="2.95" height="16.72" fill="#ac92f9"/>
<rect x="380.20" y="217.38" width="2.95" height="16.72" fill="#fcb4a0"/>
<rect x="383.10" y="217.38" width="2.95" height="16.72" fill="#dcd4f2"/>
<rect x="386.00" y="217.38" width="2.95" height="16.72" fill="#fad2c6"/>
<rect x="388.90" y="217.38" width="2.95" height="16.72" fill="#fcb4a0"/>
<rect x="391.80" y="217.38" width="2.95" height="16.72" fill="#fad2c6"/>
<rect x="394.70" y="217.38" width="2.95" height="16.72" fill="#fcb4a0"/>
<rect x="397.60" y="217.38" width="5.85" height="16.72" fill="#fc9178"/>
<rect x="403.40" y="217.38" width="5.85" height="16.72" fill="#fad2c6"/>
<rect x="409.20" y="217.38" width="8.75" height="16.72" fill="#fc9178"/>
<rect x="417.90" y="217.38" width="2.95" height="16.72" fill="#fcb4a0"/>
<rect x="420.80" y="217.38" width="5.85" height="16.72" fill="#efedf0"/>
<rect x="426.60" y="217.38" width="5.85" height="16.72" fill="#fc9178"/>
<rect x="432.40" y="217.38" width="2.95" height="16.72" fill="#fc644b"/>
<rect x="435.30" y="217.38" width="8.75" height="16.72" fill="#fcb4a0"/>
<rect x="444.00" y="217.38" width="2.95" height="16.72" fill="#efedf0"/>
<rect x="446.90" y="217.38" width="2.95" height="16.72" fill="#fc2d19"/>
<rect x="449.80" y="217.38" width="2.95" height="16.72" fill="#fc644b"/>
<rect x="452.70" y="217.38" width="2.95" height="16.72" fill="#fc9178"/>
<rect x="455.60" y="217.38" width="2.95" height="16.72" fill="#fcb4a0"/>
<rect x="461.20" y="217.38" width="2.97" height="16.72" fill="#4b32fc"/>
<rect x="464.12" y="217.38" width="2.97" height="16.72" fill="#805ffc"/>
<rect x="467.04" y="217.38" width="2.97" height="16.72" fill="#ac92f9"/>
<rect x="469.96" y="217.38" width="2.97" height="16.72" fill="#805ffc"/>
<rect x="472.88" y="217.38" width="8.81" height="16.72" fill="#c6b8f6"/>
<rect x="481.64" y="217.38" width="2.97" height="16.72" fill="#ac92f9"/>
<rect x="484.56" y="217.38" width="2.97" height="16.72" fill="#efedf0"/>
<rect x="487.48" y="217.38" width="2.97" height="16.72" fill="#fad2c6"/>
<rect x="490.40" y="217.38" width="2.97" height="16.72" fill="#dcd4f2"/>
<rect x="493.32" y="217.38" width="8.81" height="16.72" fill="#ac92f9"/>
<rect x="502.08" y="217.38" width="2.97" height="16.72" fill="#805ffc"/>
<rect x="505.00" y="217.38" width="2.97" height="16.72" fill="#ac92f9"/>
<rect x="507.92" y="217.38" width="5.89" height="16.72" fill="#805ffc"/>
<rect x="513.76" y="217.38" width="2.97" height="16.72" fill="#efedf0"/>
<rect x="516.68" y="217.38" width="2.97" height="16.72" fill="#dcd4f2"/>
<rect x="519.60" y="217.38" width="2.97" height="16.72" fill="#fc9178"/>
<rect x="522.52" y="217.38" width="5.89" height="16.72" fill="#fcb4a0"/>
<rect x="528.36" y="217.38" width="2.97" height="16.72" fill="#fc9178"/>
<rect x="531.28" y="217.38" width="2.97" height="16.72" fill="#efedf0"/>
<rect x="534.20" y="217.38" width="5.89" height="16.72" fill="#fcb4a0"/>
<rect x="540.04" y="217.38" width="2.97" height="16.72" fill="#c6b8f6"/>
<rect x="542.96" y="217.38" width="2.97" height="16.72" fill="#efedf0"/>
<text x="548.90" y="229.44" font-size="10.4" fill="#000">H3K9me2</text>
<rect x="357.00" y="234.10" width="2.95" height="16.72" fill="#c6b8f6"/>
<rect x="359.90" y="234.10" width="2.95" height="16.72" fill="#dcd4f2"/>
<rect x="362.80" y="234.10" width="2.95" height="16.72" fill="#fc2d19"/>
<rect x="365.70" y="234.10" width="2.95" height="16.72" fill="#efedf0"/>
<rect x="368.60" y="234.10" width="2.95" height="16.72" fill="#dcd4f2"/>
<rect x="371.50" y="234.10" width="5.85" height="16.72" fill="#efedf0"/>
<rect x="377.30" y="234.10" width="2.95" height="16.72" fill="#ac92f9"/>
<rect x="380.20" y="234.10" width="2.95" height="16.72" fill="#dcd4f2"/>
<rect x="383.10" y="234.10" width="2.95" height="16.72" fill="#fad2c6"/>
<rect x="386.00" y="234.10" width="5.85" height="16.72" fill="#dcd4f2"/>
<rect x="391.80" y="234.10" width="2.95" height="16.72" fill="#efedf0"/>
<rect x="394.70" y="234.10" width="2.95" height="16.72" fill="#fad2c6"/>
<rect x="397.60" y="234.10" width="2.95" height="16.72" fill="#fcb4a0"/>
<rect x="400.50" y="234.10" width="5.85" height="16.72" fill="#fad2c6"/>
<rect x="406.30" y="234.10" width="2.95" height="16.72" fill="#dcd4f2"/>
<rect x="409.20" y="234.10" width="2.95" height="16.72" fill="#fcb4a0"/>
<rect x="412.10" y="234.10" width="2.95" height="16.72" fill="#fc9178"/>
<rect x="415.00" y="234.10" width="2.95" height="16.72" fill="#fcb4a0"/>
<rect x="417.90" y="234.10" width="2.95" height="16.72" fill="#fad2c6"/>
<rect x="420.80" y="234.10" width="5.85" height="16.72" fill="#efedf0"/>
<rect x="426.60" y="234.10" width="2.95" height="16.72" fill="#fc9178"/>
<rect x="429.50" y="234.10" width="2.95" height="16.72" fill="#fad2c6"/>
<rect x="432.40" y="234.10" width="11.65" height="16.72" fill="#fcb4a0"/>
<rect x="444.00" y="234.10" width="2.95" height="16.72" fill="#efedf0"/>
<rect x="446.90" y="234.10" width="2.95" height="16.72" fill="#fc9178"/>
<rect x="449.80" y="234.10" width="2.95" height="16.72" fill="#fc2d19"/>
<rect x="452.70" y="234.10" width="2.95" height="16.72" fill="#fc644b"/>
<rect x="455.60" y="234.10" width="2.95" height="16.72" fill="#fcb4a0"/>
<rect x="461.20" y="234.10" width="2.97" height="16.72" fill="#0000ff"/>
<rect x="464.12" y="234.10" width="2.97" height="16.72" fill="#805ffc"/>
<rect x="467.04" y="234.10" width="2.97" height="16.72" fill="#c6b8f6"/>
<rect x="469.96" y="234.10" width="5.89" height="16.72" fill="#805ffc"/>
<rect x="475.80" y="234.10" width="2.97" height="16.72" fill="#c6b8f6"/>
<rect x="478.72" y="234.10" width="2.97" height="16.72" fill="#ac92f9"/>
<rect x="481.64" y="234.10" width="2.97" height="16.72" fill="#c6b8f6"/>
<rect x="484.56" y="234.10" width="2.97" height="16.72" fill="#fad2c6"/>
<rect x="487.48" y="234.10" width="2.97" height="16.72" fill="#dcd4f2"/>
<rect x="490.40" y="234.10" width="2.97" height="16.72" fill="#efedf0"/>
<rect x="493.32" y="234.10" width="2.97" height="16.72" fill="#ac92f9"/>
<rect x="496.24" y="234.10" width="2.97" height="16.72" fill="#c6b8f6"/>
<rect x="499.16" y="234.10" width="2.97" height="16.72" fill="#ac92f9"/>
<rect x="502.08" y="234.10" width="2.97" height="16.72" fill="#dcd4f2"/>
<rect x="505.00" y="234.10" width="2.97" height="16.72" fill="#fad2c6"/>
<rect x="507.92" y="234.10" width="2.97" height="16.72" fill="#dcd4f2"/>
<rect x="510.84" y="234.10" width="2.97" height="16.72" fill="#c6b8f6"/>
<rect x="513.76" y="234.10" width="2.97" height="16.72" fill="#fad2c6"/>
<rect x="516.68" y="234.10" width="2.97" height="16.72" fill="#dcd4f2"/>
<rect x="519.60" y="234.10" width="2.97" height="16.72" fill="#fc644b"/>
<rect x="522.52" y="234.10" width="2.97" height="16.72" fill="#fcb4a0"/>
<rect x="525.44" y="234.10" width="2.97" height="16.72" fill="#efedf0"/>
<rect x="528.36" y="234.10" width="2.97" height="16.72" fill="#fcb4a0"/>
<rect x="531.28" y="234.10" width="2.97" height="16.72" fill="#ac92f9"/>
<rect x="534.20" y="234.10" width="5.89" height="16.72" fill="#dcd4f2"/>
<rect x="540.04" y="234.10" width="2.97" height="16.72" fill="#805ffc"/>
<rect x="542.96" y="234.10" width="2.97" height="16.72" fill="#fc9178"/>
<text x="548.90" y="246.16" font-size="10.4" fill="#000">H3K9me3K14ac</text>
<rect x="357.00" y="253.80" width="2.95" height="16.72" fill="#0000ff"/>
<rect x="359.90" y="253.80" width="5.85" height="16.72" fill="#dcd4f2"/>
<rect x="365.70" y="253.80" width="8.75" height="16.72" fill="#fad2c6"/>
<rect x="374.40" y="253.80" width="5.85" height="16.72" fill="#c6b8f6"/>
<rect x="380.20" y="253.80" width="2.95" height="16.72" fill="#dcd4f2"/>
<rect x="383.10" y="253.80" width="2.95" height="16.72" fill="#fad2c6"/>
<rect x="386.00" y="253.80" width="2.95" height="16.72" fill="#c6b8f6"/>
<rect x="388.90" y="253.80" width="2.95" height="16.72" fill="#fc644b"/>
<rect x="391.80" y="253.80" width="2.95" height="16.72" fill="#fcb4a0"/>
<rect x="394.70" y="253.80" width="2.95" height="16.72" fill="#dcd4f2"/>
<rect x="397.60" y="253.80" width="8.75" height="16.72" fill="#fcb4a0"/>
<rect x="406.30" y="253.80" width="2.95" height="16.72" fill="#fad2c6"/>
<rect x="409.20" y="253.80" width="2.95" height="16.72" fill="#ac92f9"/>
<rect x="412.10" y="253.80" width="2.95" height="16.72" fill="#fcb4a0"/>
<rect x="415.00" y="253.80" width="2.95" height="16.72" fill="#dcd4f2"/>
<rect x="417.90" y="253.80" width="2.95" height="16.72" fill="#fad2c6"/>
<rect x="420.80" y="253.80" width="5.85" height="16.72" fill="#fcb4a0"/>
<rect x="426.60" y="253.80" width="2.95" height="16.72" fill="#dcd4f2"/>
<rect x="429.50" y="253.80" width="2.95" height="16.72" fill="#ac92f9"/>
<rect x="432.40" y="253.80" width="2.95" height="16.72" fill="#fad2c6"/>
<rect x="435.30" y="253.80" width="5.85" height="16.72" fill="#efedf0"/>
<rect x="441.10" y="253.80" width="2.95" height="16.72" fill="#c6b8f6"/>
<rect x="444.00" y="253.80" width="2.95" height="16.72" fill="#ac92f9"/>
<rect x="446.90" y="253.80" width="2.95" height="16.72" fill="#efedf0"/>
<rect x="449.80" y="253.80" width="2.95" height="16.72" fill="#c6b8f6"/>
<rect x="452.70" y="253.80" width="2.95" height="16.72" fill="#dcd4f2"/>
<rect x="455.60" y="253.80" width="2.95" height="16.72" fill="#ac92f9"/>
<rect x="461.20" y="253.80" width="5.89" height="16.72" fill="#dcd4f2"/>
<rect x="467.04" y="253.80" width="2.97" height="16.72" fill="#fad2c6"/>
<rect x="469.96" y="253.80" width="2.97" height="16.72" fill="#ac92f9"/>
<rect x="472.88" y="253.80" width="2.97" height="16.72" fill="#0000ff"/>
<rect x="475.80" y="253.80" width="5.89" height="16.72" fill="#fc9178"/>
<rect x="481.64" y="253.80" width="5.89" height="16.72" fill="#fad2c6"/>
<rect x="487.48" y="253.80" width="2.97" height="16.72" fill="#fcb4a0"/>
<rect x="490.40" y="253.80" width="5.89" height="16.72" fill="#dcd4f2"/>
<rect x="496.24" y="253.80" width="2.97" height="16.72" fill="#fcb4a0"/>
<rect x="499.16" y="253.80" width="2.97" height="16.72" fill="#fc9178"/>
<rect x="502.08" y="253.80" width="2.97" height="16.72" fill="#efedf0"/>
<rect x="505.00" y="253.80" width="2.97" height="16.72" fill="#dcd4f2"/>
<rect x="507.92" y="253.80" width="2.97" height="16.72" fill="#fcb4a0"/>
<rect x="510.84" y="253.80" width="2.97" height="16.72" fill="#c6b8f6"/>
<rect x="513.76" y="253.80" width="5.89" height="16.72" fill="#fcb4a0"/>
<rect x="519.60" y="253.80" width="2.97" height="16.72" fill="#fc9178"/>
<rect x="522.52" y="253.80" width="2.97" height="16.72" fill="#efedf0"/>
<rect x="525.44" y="253.80" width="5.89" height="16.72" fill="#fcb4a0"/>
<rect x="531.28" y="253.80" width="2.97" height="16.72" fill="#fc9178"/>
<rect x="534.20" y="253.80" width="2.97" height="16.72" fill="#fc644b"/>
<rect x="537.12" y="253.80" width="5.89" height="16.72" fill="#fcb4a0"/>
<rect x="542.96" y="253.80" width="2.97" height="16.72" fill="#dcd4f2"/>
<text x="548.90" y="265.86" font-size="10.4" fill="#000">H4K16ac</text>
<rect x="357.00" y="270.52" width="2.95" height="16.72" fill="#dcd4f2"/>
<rect x="359.90" y="270.52" width="2.95" height="16.72" fill="#ac92f9"/>
<rect x="362.80" y="270.52" width="2.95" height="16.72" fill="#805ffc"/>
<rect x="365.70" y="270.52" width="2.95" height="16.72" fill="#fc644b"/>
<rect x="368.60" y="270.52" width="2.95" height="16.72" fill="#dcd4f2"/>
<rect x="371.50" y="270.52" width="2.95" height="16.72" fill="#ac92f9"/>
<rect x="374.40" y="270.52" width="2.95" height="16.72" fill="#dcd4f2"/>
<rect x="377.30" y="270.52" width="2.95" height="16.72" fill="#ac92f9"/>
<rect x="380.20" y="270.52" width="2.95" height="16.72" fill="#dcd4f2"/>
<rect x="383.10" y="270.52" width="2.95" height="16.72" fill="#ac92f9"/>
<rect x="386.00" y="270.52" width="8.75" height="16.72" fill="#efedf0"/>
<rect x="394.70" y="270.52" width="5.85" height="16.72" fill="#805ffc"/>
<rect x="400.50" y="270.52" width="2.95" height="16.72" fill="#c6b8f6"/>
<rect x="403.40" y="270.52" width="8.75" height="16.72" fill="#fad2c6"/>
<rect x="412.10" y="270.52" width="8.75" height="16.72" fill="#ac92f9"/>
<rect x="420.80" y="270.52" width="2.95" height="16.72" fill="#dcd4f2"/>
<rect x="423.70" y="270.52" width="2.95" height="16.72" fill="#efedf0"/>
<rect x="426.60" y="270.52" width="8.75" height="16.72" fill="#fcb4a0"/>
<rect x="435.30" y="270.52" width="2.95" height="16.72" fill="#fc9178"/>
<rect x="438.20" y="270.52" width="2.95" height="16.72" fill="#c6b8f6"/>
<rect x="441.10" y="270.52" width="5.85" height="16.72" fill="#ac92f9"/>
<rect x="446.90" y="270.52" width="2.95" height="16.72" fill="#805ffc"/>
<rect x="449.80" y="270.52" width="5.85" height="16.72" fill="#ac92f9"/>
<rect x="455.60" y="270.52" width="2.95" height="16.72" fill="#dcd4f2"/>
<rect x="461.20" y="270.52" width="2.97" height="16.72" fill="#dcd4f2"/>
<rect x="464.12" y="270.52" width="2.97" height="16.72" fill="#fcb4a0"/>
<rect x="467.04" y="270.52" width="2.97" height="16.72" fill="#c6b8f6"/>
<rect x="469.96" y="270.52" width="5.89" height="16.72" fill="#fcb4a0"/>
<rect x="475.80" y="270.52" width="2.97" height="16.72" fill="#fad2c6"/>
<rect x="478.72" y="270.52" width="2.97" height="16.72" fill="#fc9178"/>
<rect x="481.64" y="270.52" width="2.97" height="16.72" fill="#fc644b"/>
<rect x="484.56" y="270.52" width="2.97" height="16.72" fill="#dcd4f2"/>
<rect x="487.48" y="270.52" width="2.97" height="16.72" fill="#c6b8f6"/>
<rect x="490.40" y="270.52" width="2.97" height="16.72" fill="#fc9178"/>
<rect x="493.32" y="270.52" width="2.97" height="16.72" fill="#fad2c6"/>
<rect x="496.24" y="270.52" width="2.97" height="16.72" fill="#c6b8f6"/>
<rect x="499.16" y="270.52" width="2.97" height="16.72" fill="#fad2c6"/>
<rect x="502.08" y="270.52" width="2.97" height="16.72" fill="#c6b8f6"/>
<rect x="505.00" y="270.52" width="2.97" height="16.72" fill="#efedf0"/>
<rect x="507.92" y="270.52" width="2.97" height="16.72" fill="#fad2c6"/>
<rect x="510.84" y="270.52" width="2.97" height="16.72" fill="#dcd4f2"/>
<rect x="513.76" y="270.52" width="2.97" height="16.72" fill="#fcb4a0"/>
<rect x="516.68" y="270.52" width="2.97" height="16.72" fill="#ac92f9"/>
<rect x="519.60" y="270.52" width="11.73" height="16.72" fill="#fc644b"/>
<rect x="531.28" y="270.52" width="8.81" height="16.72" fill="#fad2c6"/>
<rect x="540.04" y="270.52" width="2.97" height="16.72" fill="#ff0000"/>
<rect x="542.96" y="270.52" width="2.97" height="16.72" fill="#fad2c6"/>
<text x="548.90" y="282.58" font-size="10.4" fill="#000">H4K5acK12ac</text>
<rect x="357.00" y="287.24" width="2.95" height="16.72" fill="#dcd4f2"/>
<rect x="359.90" y="287.24" width="2.95" height="16.72" fill="#fad2c6"/>
<rect x="362.80" y="287.24" width="2.95" height="16.72" fill="#c6b8f6"/>
<rect x="365.70" y="287.24" width="8.75" height="16.72" fill="#ac92f9"/>
<rect x="374.40" y="287.24" width="5.85" height="16.72" fill="#dcd4f2"/>
<rect x="380.20" y="287.24" width="2.95" height="16.72" fill="#ac92f9"/>
<rect x="383.10" y="287.24" width="17.45" height="16.72" fill="#c6b8f6"/>
<rect x="400.50" y="287.24" width="5.85" height="16.72" fill="#ac92f9"/>
<rect x="406.30" y="287.24" width="2.95" height="16.72" fill="#dcd4f2"/>
<rect x="409.20" y="287.24" width="5.85" height="16.72" fill="#c6b8f6"/>
<rect x="415.00" y="287.24" width="2.95" height="16.72" fill="#dcd4f2"/>
<rect x="417.90" y="287.24" width="2.95" height="16.72" fill="#ac92f9"/>
<rect x="420.80" y="287.24" width="2.95" height="16.72" fill="#fad2c6"/>
<rect x="423.70" y="287.24" width="2.95" height="16.72" fill="#c6b8f6"/>
<rect x="426.60" y="287.24" width="8.75" height="16.72" fill="#ac92f9"/>
<rect x="435.30" y="287.24" width="2.95" height="16.72" fill="#c6b8f6"/>
<rect x="438.20" y="287.24" width="5.85" height="16.72" fill="#805ffc"/>
<rect x="444.00" y="287.24" width="14.55" height="16.72" fill="#ac92f9"/>
<rect x="461.20" y="287.24" width="2.97" height="16.72" fill="#ff0000"/>
<rect x="464.12" y="287.24" width="2.97" height="16.72" fill="#fc2d19"/>
<rect x="467.04" y="287.24" width="5.89" height="16.72" fill="#fc644b"/>
<rect x="472.88" y="287.24" width="2.97" height="16.72" fill="#fc9178"/>
<rect x="475.80" y="287.24" width="5.89" height="16.72" fill="#fcb4a0"/>
<rect x="481.64" y="287.24" width="2.97" height="16.72" fill="#fc644b"/>
<rect x="484.56" y="287.24" width="8.81" height="16.72" fill="#fc9178"/>
<rect x="493.32" y="287.24" width="2.97" height="16.72" fill="#fad2c6"/>
<rect x="496.24" y="287.24" width="2.97" height="16.72" fill="#fcb4a0"/>
<rect x="499.16" y="287.24" width="2.97" height="16.72" fill="#fad2c6"/>
<rect x="502.08" y="287.24" width="5.89" height="16.72" fill="#fcb4a0"/>
<rect x="507.92" y="287.24" width="2.97" height="16.72" fill="#fc9178"/>
<rect x="510.84" y="287.24" width="2.97" height="16.72" fill="#fad2c6"/>
<rect x="513.76" y="287.24" width="11.73" height="16.72" fill="#fcb4a0"/>
<rect x="525.44" y="287.24" width="2.97" height="16.72" fill="#efedf0"/>
<rect x="528.36" y="287.24" width="2.97" height="16.72" fill="#fad2c6"/>
<rect x="531.28" y="287.24" width="2.97" height="16.72" fill="#dcd4f2"/>
<rect x="534.20" y="287.24" width="2.97" height="16.72" fill="#efedf0"/>
<rect x="537.12" y="287.24" width="2.97" height="16.72" fill="#dcd4f2"/>
<rect x="540.04" y="287.24" width="2.97" height="16.72" fill="#fad2c6"/>
<rect x="542.96" y="287.24" width="2.97" height="16.72" fill="#efedf0"/>
<text x="548.90" y="299.30" font-size="10.4" fill="#000">H4K8acK12acK16ac</text>
<rect x="357.00" y="303.96" width="5.85" height="16.72" fill="#efedf0"/>
<rect x="362.80" y="303.96" width="2.95" height="16.72" fill="#dcd4f2"/>
<rect x="365.70" y="303.96" width="2.95" height="16.72" fill="#ac92f9"/>
<rect x="368.60" y="303.96" width="2.95" height="16.72" fill="#efedf0"/>
<rect x="371.50" y="303.96" width="2.95" height="16.72" fill="#ac92f9"/>
<rect x="374.40" y="303.96" width="2.95" height="16.72" fill="#c6b8f6"/>
<rect x="377.30" y="303.96" width="2.95" height="16.72" fill="#dcd4f2"/>
<rect x="380.20" y="303.96" width="5.85" height="16.72" fill="#c6b8f6"/>
<rect x="386.00" y="303.96" width="2.95" height="16.72" fill="#ac92f9"/>
<rect x="388.90" y="303.96" width="5.85" height="16.72" fill="#c6b8f6"/>
<rect x="394.70" y="303.96" width="5.85" height="16.72" fill="#ac92f9"/>
<rect x="400.50" y="303.96" width="5.85" height="16.72" fill="#c6b8f6"/>
<rect x="406.30" y="303.96" width="2.95" height="16.72" fill="#dcd4f2"/>
<rect x="409.20" y="303.96" width="26.15" height="16.72" fill="#c6b8f6"/>
<rect x="435.30" y="303.96" width="2.95" height="16.72" fill="#ac92f9"/>
<rect x="438.20" y="303.96" width="2.95" height="16.72" fill="#dcd4f2"/>
<rect x="441.10" y="303.96" width="5.85" height="16.72" fill="#ac92f9"/>
<rect x="446.90" y="303.96" width="2.95" height="16.72" fill="#c6b8f6"/>
<rect x="449.80" y="303.96" width="8.75" height="16.72" fill="#ac92f9"/>
<rect x="461.20" y="303.96" width="2.97" height="16.72" fill="#fc2d19"/>
<rect x="464.12" y="303.96" width="8.81" height="16.72" fill="#fc644b"/>
<rect x="472.88" y="303.96" width="2.97" height="16.72" fill="#fc2d19"/>
<rect x="475.80" y="303.96" width="2.97" height="16.72" fill="#fc644b"/>
<rect x="478.72" y="303.96" width="2.97" height="16.72" fill="#fad2c6"/>
<rect x="481.64" y="303.96" width="5.89" height="16.72" fill="#fc9178"/>
<rect x="487.48" y="303.96" width="8.81" height="16.72" fill="#fcb4a0"/>
<rect x="496.24" y="303.96" width="2.97" height="16.72" fill="#fad2c6"/>
<rect x="499.16" y="303.96" width="2.97" height="16.72" fill="#fc9178"/>
<rect x="502.08" y="303.96" width="5.89" height="16.72" fill="#fcb4a0"/>
<rect x="507.92" y="303.96" width="2.97" height="16.72" fill="#fc9178"/>
<rect x="510.84" y="303.96" width="2.97" height="16.72" fill="#fcb4a0"/>
<rect x="513.76" y="303.96" width="5.89" height="16.72" fill="#fad2c6"/>
<rect x="519.60" y="303.96" width="5.89" height="16.72" fill="#fcb4a0"/>
<rect x="525.44" y="303.96" width="2.97" height="16.72" fill="#c6b8f6"/>
<rect x="528.36" y="303.96" width="2.97" height="16.72" fill="#dcd4f2"/>
<rect x="531.28" y="303.96" width="5.89" height="16.72" fill="#fad2c6"/>
<rect x="537.12" y="303.96" width="2.97" height="16.72" fill="#efedf0"/>
<rect x="540.04" y="303.96" width="2.97" height="16.72" fill="#fcb4a0"/>
<rect x="542.96" y="303.96" width="2.97" height="16.72" fill="#c6b8f6"/>
<text x="548.90" y="316.02" font-size="10.4" fill="#000">H4K5acK12acK16ac</text>
<rect x="357.00" y="320.68" width="2.95" height="16.72" fill="#efedf0"/>
<rect x="359.90" y="320.68" width="5.85" height="16.72" fill="#dcd4f2"/>
<rect x="365.70" y="320.68" width="2.95" height="16.72" fill="#c6b8f6"/>
<rect x="368.60" y="320.68" width="2.95" height="16.72" fill="#dcd4f2"/>
<rect x="371.50" y="320.68" width="2.95" height="16.72" fill="#c6b8f6"/>
<rect x="374.40" y="320.68" width="5.85" height="16.72" fill="#dcd4f2"/>
<rect x="380.20" y="320.68" width="11.65" height="16.72" fill="#ac92f9"/>
<rect x="391.80" y="320.68" width="2.95" height="16.72" fill="#efedf0"/>
<rect x="394.70" y="320.68" width="2.95" height="16.72" fill="#ac92f9"/>
<rect x="397.60" y="320.68" width="2.95" height="16.72" fill="#c6b8f6"/>
<rect x="400.50" y="320.68" width="2.95" height="16.72" fill="#fad2c6"/>
<rect x="403.40" y="320.68" width="2.95" height="16.72" fill="#c6b8f6"/>
<rect x="406.30" y="320.68" width="2.95" height="16.72" fill="#dcd4f2"/>
<rect x="409.20" y="320.68" width="11.65" height="16.72" fill="#c6b8f6"/>
<rect x="420.80" y="320.68" width="2.95" height="16.72" fill="#dcd4f2"/>
<rect x="423.70" y="320.68" width="11.65" height="16.72" fill="#c6b8f6"/>
<rect x="435.30" y="320.68" width="2.95" height="16.72" fill="#805ffc"/>
<rect x="438.20" y="320.68" width="2.95" height="16.72" fill="#c6b8f6"/>
<rect x="441.10" y="320.68" width="5.85" height="16.72" fill="#ac92f9"/>
<rect x="446.90" y="320.68" width="2.95" height="16.72" fill="#dcd4f2"/>
<rect x="449.80" y="320.68" width="5.85" height="16.72" fill="#ac92f9"/>
<rect x="455.60" y="320.68" width="2.95" height="16.72" fill="#805ffc"/>
<rect x="461.20" y="320.68" width="5.89" height="16.72" fill="#fc2d19"/>
<rect x="467.04" y="320.68" width="2.97" height="16.72" fill="#ff0000"/>
<rect x="469.96" y="320.68" width="2.97" height="16.72" fill="#fc9178"/>
<rect x="472.88" y="320.68" width="2.97" height="16.72" fill="#fcb4a0"/>
<rect x="475.80" y="320.68" width="2.97" height="16.72" fill="#fc9178"/>
<rect x="478.72" y="320.68" width="2.97" height="16.72" fill="#fad2c6"/>
<rect x="481.64" y="320.68" width="2.97" height="16.72" fill="#fc9178"/>
<rect x="484.56" y="320.68" width="5.89" height="16.72" fill="#fcb4a0"/>
<rect x="490.40" y="320.68" width="2.97" height="16.72" fill="#fad2c6"/>
<rect x="493.32" y="320.68" width="2.97" height="16.72" fill="#fc9178"/>
<rect x="496.24" y="320.68" width="2.97" height="16.72" fill="#fcb4a0"/>
<rect x="499.16" y="320.68" width="5.89" height="16.72" fill="#fc9178"/>
<rect x="505.00" y="320.68" width="2.97" height="16.72" fill="#fcb4a0"/>
<rect x="507.92" y="320.68" width="5.89" height="16.72" fill="#fad2c6"/>
<rect x="513.76" y="320.68" width="2.97" height="16.72" fill="#fcb4a0"/>
<rect x="516.68" y="320.68" width="2.97" height="16.72" fill="#efedf0"/>
<rect x="519.60" y="320.68" width="2.97" height="16.72" fill="#fc9178"/>
<rect x="522.52" y="320.68" width="2.97" height="16.72" fill="#fcb4a0"/>
<rect x="525.44" y="320.68" width="5.89" height="16.72" fill="#dcd4f2"/>
<rect x="531.28" y="320.68" width="5.89" height="16.72" fill="#efedf0"/>
<rect x="537.12" y="320.68" width="2.97" height="16.72" fill="#fad2c6"/>
<rect x="540.04" y="320.68" width="5.89" height="16.72" fill="#dcd4f2"/>
<text x="548.90" y="332.74" font-size="10.4" fill="#000">H4K5acK8acK16ac</text>
<rect x="357.00" y="337.40" width="2.95" height="16.72" fill="#dcd4f2"/>
<rect x="359.90" y="337.40" width="2.95" height="16.72" fill="#efedf0"/>
<rect x="362.80" y="337.40" width="2.95" height="16.72" fill="#c6b8f6"/>
<rect x="365.70" y="337.40" width="2.95" height="16.72" fill="#ac92f9"/>
<rect x="368.60" y="337.40" width="8.75" height="16.72" fill="#c6b8f6"/>
<rect x="377.30" y="337.40" width="5.85" height="16.72" fill="#dcd4f2"/>
<rect x="383.10" y="337.40" width="2.95" height="16.72" fill="#efedf0"/>
<rect x="386.00" y="337.40" width="2.95" height="16.72" fill="#ac92f9"/>
<rect x="388.90" y="337.40" width="14.55" height="16.72" fill="#c6b8f6"/>
<rect x="403.40" y="337.40" width="2.95" height="16.72" fill="#dcd4f2"/>
<rect x="406.30" y="337.40" width="2.95" height="16.72" fill="#c6b8f6"/>
<rect x="409.20" y="337.40" width="2.95" height="16.72" fill="#efedf0"/>
<rect x="412.10" y="337.40" width="8.75" height="16.72" fill="#c6b8f6"/>
<rect x="420.80" y="337.40" width="2.95" height="16.72" fill="#fad2c6"/>
<rect x="423.70" y="337.40" width="2.95" height="16.72" fill="#dcd4f2"/>
<rect x="426.60" y="337.40" width="5.85" height="16.72" fill="#c6b8f6"/>
<rect x="432.40" y="337.40" width="14.55" height="16.72" fill="#ac92f9"/>
<rect x="446.90" y="337.40" width="2.95" height="16.72" fill="#c6b8f6"/>
<rect x="449.80" y="337.40" width="2.95" height="16.72" fill="#ac92f9"/>
<rect x="452.70" y="337.40" width="2.95" height="16.72" fill="#805ffc"/>
<rect x="455.60" y="337.40" width="2.95" height="16.72" fill="#ac92f9"/>
<rect x="461.20" y="337.40" width="5.89" height="16.72" fill="#ff0000"/>
<rect x="467.04" y="337.40" width="5.89" height="16.72" fill="#fc644b"/>
<rect x="472.88" y="337.40" width="5.89" height="16.72" fill="#fcb4a0"/>
<rect x="478.72" y="337.40" width="2.97" height="16.72" fill="#fad2c6"/>
<rect x="481.64" y="337.40" width="8.81" height="16.72" fill="#fc9178"/>
<rect x="490.40" y="337.40" width="2.97" height="16.72" fill="#c6b8f6"/>
<rect x="493.32" y="337.40" width="5.89" height="16.72" fill="#fad2c6"/>
<rect x="499.16" y="337.40" width="8.81" height="16.72" fill="#fcb4a0"/>
<rect x="507.92" y="337.40" width="2.97" height="16.72" fill="#fc9178"/>
<rect x="510.84" y="337.40" width="2.97" height="16.72" fill="#efedf0"/>
<rect x="513.76" y="337.40" width="5.89" height="16.72" fill="#fad2c6"/>
<rect x="519.60" y="337.40" width="2.97" height="16.72" fill="#c6b8f6"/>
<rect x="522.52" y="337.40" width="2.97" height="16.72" fill="#fcb4a0"/>
<rect x="525.44" y="337.40" width="2.97" height="16.72" fill="#fad2c6"/>
<rect x="528.36" y="337.40" width="2.97" height="16.72" fill="#dcd4f2"/>
<rect x="531.28" y="337.40" width="2.97" height="16.72" fill="#fcb4a0"/>
<rect x="534.20" y="337.40" width="2.97" height="16.72" fill="#efedf0"/>
<rect x="537.12" y="337.40" width="2.97" height="16.72" fill="#fcb4a0"/>
<rect x="540.04" y="337.40" width="2.97" height="16.72" fill="#efedf0"/>
<rect x="542.96" y="337.40" width="2.97" height="16.72" fill="#dcd4f2"/>
<text x="548.90" y="349.46" font-size="10.4" fill="#000">H4K5acK8acK12acK16ac</text>
<rect x="357.00" y="354.12" width="2.95" height="16.72" fill="#c6b8f6"/>
<rect x="359.90" y="354.12" width="8.75" height="16.72" fill="#dcd4f2"/>
<rect x="368.60" y="354.12" width="2.95" height="16.72" fill="#efedf0"/>
<rect x="371.50" y="354.12" width="11.65" height="16.72" fill="#c6b8f6"/>
<rect x="383.10" y="354.12" width="2.95" height="16.72" fill="#ac92f9"/>
<rect x="386.00" y="354.12" width="2.95" height="16.72" fill="#c6b8f6"/>
<rect x="388.90" y="354.12" width="2.95" height="16.72" fill="#dcd4f2"/>
<rect x="391.80" y="354.12" width="8.75" height="16.72" fill="#c6b8f6"/>
<rect x="400.50" y="354.12" width="2.95" height="16.72" fill="#efedf0"/>
<rect x="403.40" y="354.12" width="8.75" height="16.72" fill="#c6b8f6"/>
<rect x="412.10" y="354.12" width="2.95" height="16.72" fill="#dcd4f2"/>
<rect x="415.00" y="354.12" width="2.95" height="16.72" fill="#c6b8f6"/>
<rect x="417.90" y="354.12" width="2.95" height="16.72" fill="#dcd4f2"/>
<rect x="420.80" y="354.12" width="2.95" height="16.72" fill="#c6b8f6"/>
<rect x="423.70" y="354.12" width="2.95" height="16.72" fill="#dcd4f2"/>
<rect x="426.60" y="354.12" width="2.95" height="16.72" fill="#c6b8f6"/>
<rect x="429.50" y="354.12" width="2.95" height="16.72" fill="#ac92f9"/>
<rect x="432.40" y="354.12" width="2.95" height="16.72" fill="#c6b8f6"/>
<rect x="435.30" y="354.12" width="2.95" height="16.72" fill="#ac92f9"/>
<rect x="438.20" y="354.12" width="2.95" height="16.72" fill="#dcd4f2"/>
<rect x="441.10" y="354.12" width="5.85" height="16.72" fill="#ac92f9"/>
<rect x="446.90" y="354.12" width="2.95" height="16.72" fill="#c6b8f6"/>
<rect x="449.80" y="354.12" width="5.85" height="16.72" fill="#ac92f9"/>
<rect x="455.60" y="354.12" width="2.95" height="16.72" fill="#805ffc"/>
<rect x="461.20" y="354.12" width="2.97" height="16.72" fill="#fcb4a0"/>
<rect x="464.12" y="354.12" width="2.97" height="16.72" fill="#fc644b"/>
<rect x="467.04" y="354.12" width="2.97" height="16.72" fill="#ff0000"/>
<rect x="469.96" y="354.12" width="2.97" height="16.72" fill="#fc2d19"/>
<rect x="472.88" y="354.12" width="2.97" height="16.72" fill="#fc644b"/>
<rect x="475.80" y="354.12" width="5.89" height="16.72" fill="#fc9178"/>
<rect x="481.64" y="354.12" width="2.97" height="16.72" fill="#fad2c6"/>
<rect x="484.56" y="354.12" width="5.89" height="16.72" fill="#fc9178"/>
<rect x="490.40" y="354.12" width="2.97" height="16.72" fill="#fcb4a0"/>
<rect x="493.32" y="354.12" width="2.97" height="16.72" fill="#fc644b"/>
<rect x="496.24" y="354.12" width="2.97" height="16.72" fill="#fad2c6"/>
<rect x="499.16" y="354.12" width="2.97" height="16.72" fill="#fc9178"/>
<rect x="502.08" y="354.12" width="5.89" height="16.72" fill="#fad2c6"/>
<rect x="507.92" y="354.12" width="2.97" height="16.72" fill="#fcb4a0"/>
<rect x="510.84" y="354.12" width="2.97" height="16.72" fill="#fad2c6"/>
<rect x="513.76" y="354.12" width="5.89" height="16.72" fill="#c6b8f6"/>
<rect x="519.60" y="354.12" width="5.89" height="16.72" fill="#fad2c6"/>
<rect x="525.44" y="354.12" width="2.97" height="16.72" fill="#efedf0"/>
<rect x="528.36" y="354.12" width="2.97" height="16.72" fill="#dcd4f2"/>
<rect x="531.28" y="354.12" width="2.97" height="16.72" fill="#fad2c6"/>
<rect x="534.20" y="354.12" width="5.89" height="16.72" fill="#fcb4a0"/>
<rect x="540.04" y="354.12" width="2.97" height="16.72" fill="#efedf0"/>
<rect x="542.96" y="354.12" width="2.97" height="16.72" fill="#dcd4f2"/>
<text x="548.90" y="366.18" font-size="10.4" fill="#000">H4K5acK16ac</text>
<rect x="357.00" y="370.84" width="5.85" height="16.72" fill="#efedf0"/>
<rect x="362.80" y="370.84" width="5.85" height="16.72" fill="#ac92f9"/>
<rect x="368.60" y="370.84" width="2.95" height="16.72" fill="#efedf0"/>
<rect x="371.50" y="370.84" width="2.95" height="16.72" fill="#ac92f9"/>
<rect x="374.40" y="370.84" width="5.85" height="16.72" fill="#c6b8f6"/>
<rect x="380.20" y="370.84" width="2.95" height="16.72" fill="#ac92f9"/>
<rect x="383.10" y="370.84" width="2.95" height="16.72" fill="#dcd4f2"/>
<rect x="386.00" y="370.84" width="2.95" height="16.72" fill="#ac92f9"/>
<rect x="388.90" y="370.84" width="5.85" height="16.72" fill="#efedf0"/>
<rect x="394.70" y="370.84" width="2.95" height="16.72" fill="#dcd4f2"/>
<rect x="397.60" y="370.84" width="5.85" height="16.72" fill="#c6b8f6"/>
<rect x="403.40" y="370.84" width="11.65" height="16.72" fill="#dcd4f2"/>
<rect x="415.00" y="370.84" width="5.85" height="16.72" fill="#c6b8f6"/>
<rect x="420.80" y="370.84" width="2.95" height="16.72" fill="#ac92f9"/>
<rect x="423.70" y="370.84" width="2.95" height="16.72" fill="#efedf0"/>
<rect x="426.60" y="370.84" width="8.75" height="16.72" fill="#c6b8f6"/>
<rect x="435.30" y="370.84" width="14.55" height="16.72" fill="#ac92f9"/>
<rect x="449.80" y="370.84" width="5.85" height="16.72" fill="#805ffc"/>
<rect x="455.60" y="370.84" width="2.95" height="16.72" fill="#ac92f9"/>
<rect x="461.20" y="370.84" width="2.97" height="16.72" fill="#ff0000"/>
<rect x="464.12" y="370.84" width="11.73" height="16.72" fill="#fc9178"/>
<rect x="475.80" y="370.84" width="2.97" height="16.72" fill="#fc2d19"/>
<rect x="478.72" y="370.84" width="2.97" height="16.72" fill="#fc644b"/>
<rect x="481.64" y="370.84" width="2.97" height="16.72" fill="#fad2c6"/>
<rect x="484.56" y="370.84" width="2.97" height="16.72" fill="#fc644b"/>
<rect x="487.48" y="370.84" width="5.89" height="16.72" fill="#fc9178"/>
<rect x="493.32" y="370.84" width="2.97" height="16.72" fill="#fcb4a0"/>
<rect x="496.24" y="370.84" width="2.97" height="16.72" fill="#fc9178"/>
<rect x="499.16" y="370.84" width="2.97" height="16.72" fill="#fad2c6"/>
<rect x="502.08" y="370.84" width="2.97" height="16.72" fill="#efedf0"/>
<rect x="505.00" y="370.84" width="2.97" height="16.72" fill="#fad2c6"/>
<rect x="507.92" y="370.84" width="2.97" height="16.72" fill="#fcb4a0"/>
<rect x="510.84" y="370.84" width="2.97" height="16.72" fill="#efedf0"/>
<rect x="513.76" y="370.84" width="2.97" height="16.72" fill="#dcd4f2"/>
<rect x="516.68" y="370.84" width="2.97" height="16.72" fill="#fad2c6"/>
<rect x="519.60" y="370.84" width="2.97" height="16.72" fill="#fc644b"/>
<rect x="522.52" y="370.84" width="2.97" height="16.72" fill="#fcb4a0"/>
<rect x="525.44" y="370.84" width="2.97" height="16.72" fill="#efedf0"/>
<rect x="528.36" y="370.84" width="2.97" height="16.72" fill="#dcd4f2"/>
<rect x="531.28" y="370.84" width="2.97" height="16.72" fill="#fc9178"/>
<rect x="534.20" y="370.84" width="2.97" height="16.72" fill="#fad2c6"/>
<rect x="537.12" y="370.84" width="2.97" height="16.72" fill="#fcb4a0"/>
<rect x="540.04" y="370.84" width="2.97" height="16.72" fill="#dcd4f2"/>
<rect x="542.96" y="370.84" width="2.97" height="16.72" fill="#efedf0"/>
<text x="548.90" y="382.90" font-size="10.4" fill="#000">H4K8acK16ac</text>
<rect x="357.00" y="387.56" width="2.95" height="16.72" fill="#efedf0"/>
<rect x="359.90" y="387.56" width="8.75" height="16.72" fill="#c6b8f6"/>
<rect x="368.60" y="387.56" width="2.95" height="16.72" fill="#efedf0"/>
<rect x="371.50" y="387.56" width="2.95" height="16.72" fill="#c6b8f6"/>
<rect x="374.40" y="387.56" width="2.95" height="16.72" fill="#dcd4f2"/>
<rect x="377.30" y="387.56" width="2.95" height="16.72" fill="#c6b8f6"/>
<rect x="380.20" y="387.56" width="8.75" height="16.72" fill="#ac92f9"/>
<rect x="388.90" y="387.56" width="2.95" height="16.72" fill="#fad2c6"/>
<rect x="391.80" y="387.56" width="2.95" height="16.72" fill="#fcb4a0"/>
<rect x="394.70" y="387.56" width="2.95" height="16.72" fill="#c6b8f6"/>
<rect x="397.60" y="387.56" width="2.95" height="16.72" fill="#ac92f9"/>
<rect x="400.50" y="387.56" width="11.65" height="16.72" fill="#c6b8f6"/>
<rect x="412.10" y="387.56" width="2.95" height="16.72" fill="#dcd4f2"/>
<rect x="415.00" y="387.56" width="5.85" height="16.72" fill="#c6b8f6"/>
<rect x="420.80" y="387.56" width="2.95" height="16.72" fill="#fc644b"/>
<rect x="423.70" y="387.56" width="5.85" height="16.72" fill="#c6b8f6"/>
<rect x="429.50" y="387.56" width="2.95" height="16.72" fill="#ac92f9"/>
<rect x="432.40" y="387.56" width="2.95" height="16.72" fill="#c6b8f6"/>
<rect x="435.30" y="387.56" width="23.25" height="16.72" fill="#ac92f9"/>
<rect x="461.20" y="387.56" width="2.97" height="16.72" fill="#ff0000"/>
<rect x="464.12" y="387.56" width="11.73" height="16.72" fill="#fc9178"/>
<rect x="475.80" y="387.56" width="2.97" height="16.72" fill="#fc2d19"/>
<rect x="478.72" y="387.56" width="2.97" height="16.72" fill="#fc9178"/>
<rect x="481.64" y="387.56" width="2.97" height="16.72" fill="#fcb4a0"/>
<rect x="484.56" y="387.56" width="5.89" height="16.72" fill="#fc9178"/>
<rect x="490.40" y="387.56" width="2.97" height="16.72" fill="#fcb4a0"/>
<rect x="493.32" y="387.56" width="5.89" height="16.72" fill="#fc9178"/>
<rect x="499.16" y="387.56" width="2.97" height="16.72" fill="#ff0000"/>
<rect x="502.08" y="387.56" width="2.97" height="16.72" fill="#fcb4a0"/>
<rect x="505.00" y="387.56" width="2.97" height="16.72" fill="#efedf0"/>
<rect x="507.92" y="387.56" width="2.97" height="16.72" fill="#fcb4a0"/>
<rect x="510.84" y="387.56" width="5.89" height="16.72" fill="#dcd4f2"/>
<rect x="516.68" y="387.56" width="2.97" height="16.72" fill="#efedf0"/>
<rect x="519.60" y="387.56" width="2.97" height="16.72" fill="#fc9178"/>
<rect x="522.52" y="387.56" width="2.97" height="16.72" fill="#fcb4a0"/>
<rect x="525.44" y="387.56" width="2.97" height="16.72" fill="#efedf0"/>
<rect x="528.36" y="387.56" width="2.97" height="16.72" fill="#dcd4f2"/>
<rect x="531.28" y="387.56" width="5.89" height="16.72" fill="#efedf0"/>
<rect x="537.12" y="387.56" width="2.97" height="16.72" fill="#fcb4a0"/>
<rect x="540.04" y="387.56" width="2.97" height="16.72" fill="#efedf0"/>
<rect x="542.96" y="387.56" width="2.97" height="16.72" fill="#fcb4a0"/>
<text x="548.90" y="399.62" font-size="10.4" fill="#000">H4K12acK16ac</text>
<rect x="357.00" y="404.28" width="2.95" height="16.72" fill="#fcb4a0"/>
<rect x="359.90" y="404.28" width="2.95" height="16.72" fill="#efedf0"/>
<rect x="362.80" y="404.28" width="2.95" height="16.72" fill="#fc644b"/>
<rect x="365.70" y="404.28" width="5.85" height="16.72" fill="#c6b8f6"/>
<rect x="371.50" y="404.28" width="2.95" height="16.72" fill="#ac92f9"/>
<rect x="374.40" y="404.28" width="2.95" height="16.72" fill="#c6b8f6"/>
<rect x="377.30" y="404.28" width="2.95" height="16.72" fill="#fad2c6"/>
<rect x="380.20" y="404.28" width="5.85" height="16.72" fill="#c6b8f6"/>
<rect x="386.00" y="404.28" width="2.95" height="16.72" fill="#ac92f9"/>
<rect x="388.90" y="404.28" width="2.95" height="16.72" fill="#805ffc"/>
<rect x="391.80" y="404.28" width="2.95" height="16.72" fill="#c6b8f6"/>
<rect x="394.70" y="404.28" width="5.85" height="16.72" fill="#fad2c6"/>
<rect x="400.50" y="404.28" width="2.95" height="16.72" fill="#efedf0"/>
<rect x="403.40" y="404.28" width="8.75" height="16.72" fill="#c6b8f6"/>
<rect x="412.10" y="404.28" width="2.95" height="16.72" fill="#ac92f9"/>
<rect x="415.00" y="404.28" width="2.95" height="16.72" fill="#dcd4f2"/>
<rect x="417.90" y="404.28" width="2.95" height="16.72" fill="#c6b8f6"/>
<rect x="420.80" y="404.28" width="2.95" height="16.72" fill="#efedf0"/>
<rect x="423.70" y="404.28" width="2.95" height="16.72" fill="#ac92f9"/>
<rect x="426.60" y="404.28" width="2.95" height="16.72" fill="#805ffc"/>
<rect x="429.50" y="404.28" width="2.95" height="16.72" fill="#fc644b"/>
<rect x="432.40" y="404.28" width="2.95" height="16.72" fill="#fcb4a0"/>
<rect x="435.30" y="404.28" width="2.95" height="16.72" fill="#dcd4f2"/>
<rect x="438.20" y="404.28" width="2.95" height="16.72" fill="#c6b8f6"/>
<rect x="441.10" y="404.28" width="2.95" height="16.72" fill="#dcd4f2"/>
<rect x="444.00" y="404.28" width="2.95" height="16.72" fill="#efedf0"/>
<rect x="446.90" y="404.28" width="2.95" height="16.72" fill="#ac92f9"/>
<rect x="449.80" y="404.28" width="2.95" height="16.72" fill="#dcd4f2"/>
<rect x="452.70" y="404.28" width="2.95" height="16.72" fill="#c6b8f6"/>
<rect x="455.60" y="404.28" width="2.95" height="16.72" fill="#dcd4f2"/>
<rect x="461.20" y="404.28" width="2.97" height="16.72" fill="#fad2c6"/>
<rect x="464.12" y="404.28" width="5.89" height="16.72" fill="#fc644b"/>
<rect x="469.96" y="404.28" width="2.97" height="16.72" fill="#fad2c6"/>
<rect x="472.88" y="404.28" width="2.97" height="16.72" fill="#ac92f9"/>
<rect x="475.80" y="404.28" width="2.97" height="16.72" fill="#dcd4f2"/>
<rect x="478.72" y="404.28" width="2.97" height="16.72" fill="#ac92f9"/>
<rect x="481.64" y="404.28" width="2.97" height="16.72" fill="#fad2c6"/>
<rect x="484.56" y="404.28" width="2.97" height="16.72" fill="#fc9178"/>
<rect x="487.48" y="404.28" width="2.97" height="16.72" fill="#fad2c6"/>
<rect x="490.40" y="404.28" width="2.97" height="16.72" fill="#efedf0"/>
<rect x="493.32" y="404.28" width="2.97" height="16.72" fill="#fad2c6"/>
<rect x="496.24" y="404.28" width="2.97" height="16.72" fill="#efedf0"/>
<rect x="499.16" y="404.28" width="2.97" height="16.72" fill="#ff0000"/>
<rect x="502.08" y="404.28" width="5.89" height="16.72" fill="#fc644b"/>
<rect x="507.92" y="404.28" width="5.89" height="16.72" fill="#fad2c6"/>
<rect x="513.76" y="404.28" width="5.89" height="16.72" fill="#fcb4a0"/>
<rect x="519.60" y="404.28" width="2.97" height="16.72" fill="#dcd4f2"/>
<rect x="522.52" y="404.28" width="2.97" height="16.72" fill="#fcb4a0"/>
<rect x="525.44" y="404.28" width="11.73" height="16.72" fill="#ac92f9"/>
<rect x="537.12" y="404.28" width="5.89" height="16.72" fill="#dcd4f2"/>
<rect x="542.96" y="404.28" width="2.97" height="16.72" fill="#fc2d19"/>
<text x="548.90" y="416.34" font-size="10.4" fill="#000">H4K5acK8ac</text>
<rect x="357.00" y="421.00" width="2.95" height="16.72" fill="#ff0000"/>
<rect x="359.90" y="421.00" width="2.95" height="16.72" fill="#0000ff"/>
<rect x="362.80" y="421.00" width="2.95" height="16.72" fill="#ac92f9"/>
<rect x="365.70" y="421.00" width="2.95" height="16.72" fill="#fc9178"/>
<rect x="368.60" y="421.00" width="2.95" height="16.72" fill="#c6b8f6"/>
<rect x="371.50" y="421.00" width="2.95" height="16.72" fill="#fcb4a0"/>
<rect x="374.40" y="421.00" width="2.95" height="16.72" fill="#fc644b"/>
<rect x="377.30" y="421.00" width="2.95" height="16.72" fill="#fad2c6"/>
<rect x="380.20" y="421.00" width="2.95" height="16.72" fill="#c6b8f6"/>
<rect x="383.10" y="421.00" width="2.95" height="16.72" fill="#fad2c6"/>
<rect x="386.00" y="421.00" width="5.85" height="16.72" fill="#fc9178"/>
<rect x="391.80" y="421.00" width="2.95" height="16.72" fill="#fcb4a0"/>
<rect x="394.70" y="421.00" width="2.95" height="16.72" fill="#fc9178"/>
<rect x="397.60" y="421.00" width="5.85" height="16.72" fill="#fcb4a0"/>
<rect x="403.40" y="421.00" width="2.95" height="16.72" fill="#fc9178"/>
<rect x="406.30" y="421.00" width="2.95" height="16.72" fill="#fad2c6"/>
<rect x="409.20" y="421.00" width="2.95" height="16.72" fill="#dcd4f2"/>
<rect x="412.10" y="421.00" width="5.85" height="16.72" fill="#fcb4a0"/>
<rect x="417.90" y="421.00" width="5.85" height="16.72" fill="#c6b8f6"/>
<rect x="423.70" y="421.00" width="5.85" height="16.72" fill="#fc9178"/>
<rect x="429.50" y="421.00" width="2.95" height="16.72" fill="#fc2d19"/>
<rect x="432.40" y="421.00" width="2.95" height="16.72" fill="#fad2c6"/>
<rect x="435.30" y="421.00" width="2.95" height="16.72" fill="#fcb4a0"/>
<rect x="438.20" y="421.00" width="11.65" height="16.72" fill="#fad2c6"/>
<rect x="449.80" y="421.00" width="2.95" height="16.72" fill="#efedf0"/>
<rect x="452.70" y="421.00" width="2.95" height="16.72" fill="#fad2c6"/>
<rect x="455.60" y="421.00" width="2.95" height="16.72" fill="#efedf0"/>
<rect x="461.20" y="421.00" width="5.89" height="16.72" fill="#c6b8f6"/>
<rect x="467.04" y="421.00" width="2.97" height="16.72" fill="#ac92f9"/>
<rect x="469.96" y="421.00" width="2.97" height="16.72" fill="#fad2c6"/>
<rect x="472.88" y="421.00" width="2.97" height="16.72" fill="#fc644b"/>
<rect x="475.80" y="421.00" width="5.89" height="16.72" fill="#efedf0"/>
<rect x="481.64" y="421.00" width="2.97" height="16.72" fill="#ac92f9"/>
<rect x="484.56" y="421.00" width="2.97" height="16.72" fill="#c6b8f6"/>
<rect x="487.48" y="421.00" width="2.97" height="16.72" fill="#ac92f9"/>
<rect x="490.40" y="421.00" width="2.97" height="16.72" fill="#c6b8f6"/>
<rect x="493.32" y="421.00" width="5.89" height="16.72" fill="#dcd4f2"/>
<rect x="499.16" y="421.00" width="2.97" height="16.72" fill="#805ffc"/>
<rect x="502.08" y="421.00" width="2.97" height="16.72" fill="#ac92f9"/>
<rect x="505.00" y="421.00" width="2.97" height="16.72" fill="#efedf0"/>
<rect x="507.92" y="421.00" width="2.97" height="16.72" fill="#ac92f9"/>
<rect x="510.84" y="421.00" width="2.97" height="16.72" fill="#c6b8f6"/>
<rect x="513.76" y="421.00" width="5.89" height="16.72" fill="#ac92f9"/>
<rect x="519.60" y="421.00" width="2.97" height="16.72" fill="#c6b8f6"/>
<rect x="522.52" y="421.00" width="2.97" height="16.72" fill="#ac92f9"/>
<rect x="525.44" y="421.00" width="2.97" height="16.72" fill="#c6b8f6"/>
<rect x="528.36" y="421.00" width="2.97" height="16.72" fill="#dcd4f2"/>
<rect x="531.28" y="421.00" width="5.89" height="16.72" fill="#fad2c6"/>
<rect x="537.12" y="421.00" width="5.89" height="16.72" fill="#dcd4f2"/>
<rect x="542.96" y="421.00" width="2.97" height="16.72" fill="#efedf0"/>
<text x="548.90" y="433.06" font-size="10.4" fill="#000">H4K12ac</text>
<path d="M342.40,192.30L342.40,209.02 M342.40,192.30L355.50,192.30 M342.40,209.02L355.50,209.02 M339.30,175.58L339.30,200.66 M339.30,175.58L355.50,175.58 M339.30,200.66L342.40,200.66 M336.60,158.86L336.60,188.12 M336.60,158.86L355.50,158.86 M336.60,188.12L339.30,188.12 M343.30,225.74L343.30,242.46 M343.30,225.74L355.50,225.74 M343.30,242.46L355.50,242.46 M325.50,173.49L325.50,234.10 M325.50,173.49L336.60,173.49 M325.50,234.10L343.30,234.10" stroke="#000" stroke-width="0.9" fill="none"/>
<path d="M334.30,262.16L334.30,278.88 M334.30,262.16L355.50,262.16 M334.30,278.88L355.50,278.88 M348.80,312.32L348.80,329.04 M348.80,312.32L355.50,312.32 M348.80,329.04L355.50,329.04 M347.30,295.60L347.30,320.68 M347.30,295.60L355.50,295.60 M347.30,320.68L348.80,320.68 M346.20,308.14L346.20,345.76 M346.20,308.14L347.30,308.14 M346.20,345.76L355.50,345.76 M348.80,379.20L348.80,395.92 M348.80,379.20L355.50,379.20 M348.80,395.92L355.50,395.92 M347.30,362.48L347.30,387.56 M347.30,362.48L355.50,362.48 M347.30,387.56L348.80,387.56 M344.80,326.95L344.80,375.02 M344.80,326.95L346.20,326.95 M344.80,375.02L347.30,375.02 M336.30,412.64L336.30,350.99 M336.30,412.64L355.50,412.64 M336.30,350.99L344.80,350.99 M331.40,270.52L331.40,381.81 M331.40,270.52L334.30,270.52 M331.40,381.81L336.30,381.81 M328.00,429.36L328.00,326.17 M328.00,429.36L355.50,429.36 M328.00,326.17L331.40,326.17" stroke="#000" stroke-width="0.9" fill="none"/>
<text x="317.20" y="200.50" font-size="13.5" text-anchor="middle" fill="#000" transform="rotate(-90 317.2 200.5)">H3</text>
<text x="317.20" y="345.80" font-size="13.5" text-anchor="middle" fill="#000" transform="rotate(-90 317.2 345.8)">H4</text>
<text x="634.20" y="87.50" font-size="10.25" font-weight="bold" fill="#000">Z−score</text>
<defs><linearGradient id="g92" x1="0" y1="92.5" x2="0" y2="155.7" gradientUnits="userSpaceOnUse">
<stop offset="0.0427" stop-color="rgb(255, 0, 0)"/>
<stop offset="0.2208" stop-color="rgb(255, 0, 0)"/>
<stop offset="0.2725" stop-color="rgb(250, 75, 55)"/>
<stop offset="0.3300" stop-color="rgb(250, 125, 100)"/>
<stop offset="0.3875" stop-color="rgb(250, 168, 148)"/>
<stop offset="0.4449" stop-color="rgb(248, 208, 198)"/>
<stop offset="0.4851" stop-color="rgb(243, 238, 240)"/>
<stop offset="0.5196" stop-color="rgb(240, 238, 244)"/>
<stop offset="0.5713" stop-color="rgb(215, 208, 246)"/>
<stop offset="0.6173" stop-color="rgb(195, 180, 248)"/>
<stop offset="0.6747" stop-color="rgb(160, 138, 250)"/>
<stop offset="0.7322" stop-color="rgb(105, 75, 250)"/>
<stop offset="0.7552" stop-color="rgb(20, 10, 255)"/>
<stop offset="0.9620" stop-color="rgb(0, 0, 255)"/>
</linearGradient></defs>
<rect x="634.00" y="92.50" width="12.30" height="63.20" fill="url(#g92)"/>
<line x1="634.00" y1="95.20" x2="636.46" y2="95.20" stroke="#fff" stroke-width="0.9"/>
<line x1="643.84" y1="95.20" x2="646.30" y2="95.20" stroke="#fff" stroke-width="0.9"/>
<text x="649.00" y="98.91" font-size="10.3" fill="#000">4</text>
<line x1="634.00" y1="109.30" x2="636.46" y2="109.30" stroke="#fff" stroke-width="0.9"/>
<line x1="643.84" y1="109.30" x2="646.30" y2="109.30" stroke="#fff" stroke-width="0.9"/>
<text x="649.00" y="113.01" font-size="10.3" fill="#000">2</text>
<line x1="634.00" y1="123.90" x2="636.46" y2="123.90" stroke="#fff" stroke-width="0.9"/>
<line x1="643.84" y1="123.90" x2="646.30" y2="123.90" stroke="#fff" stroke-width="0.9"/>
<text x="649.00" y="127.61" font-size="10.3" fill="#000">0</text>
<line x1="634.00" y1="138.70" x2="636.46" y2="138.70" stroke="#fff" stroke-width="0.9"/>
<line x1="643.84" y1="138.70" x2="646.30" y2="138.70" stroke="#fff" stroke-width="0.9"/>
<text x="649.00" y="142.41" font-size="10.3" fill="#000">−2</text>
<line x1="634.00" y1="153.30" x2="636.46" y2="153.30" stroke="#fff" stroke-width="0.9"/>
<line x1="643.84" y1="153.30" x2="646.30" y2="153.30" stroke="#fff" stroke-width="0.9"/>
<text x="649.00" y="157.01" font-size="10.3" fill="#000">−4</text>
<line x1="462.90" y1="437.80" x2="369.90" y2="506.90" stroke="#000" stroke-width="1.35" stroke-dasharray="4.8,2.9"/>
<line x1="545.60" y1="437.80" x2="460.40" y2="527.30" stroke="#000" stroke-width="1.35" stroke-dasharray="4.8,2.9"/>
<path d="M374.10,521.16L377.30,521.16 M374.10,521.16L374.10,539.20 M377.30,521.16L377.30,539.20 M370.90,518.00L375.70,518.00 M370.90,518.00L370.90,539.20 M375.70,518.00L375.70,521.16 M367.70,512.50L373.30,512.50 M367.70,512.50L367.70,539.20 M373.30,512.50L373.30,518.00 M370.50,505.90L380.50,505.90 M370.50,505.90L370.50,512.50 M380.50,505.90L380.50,539.20" stroke="#000" stroke-width="0.95" fill="none" stroke-linecap="square"/>
<path d="M387.01,530.19L390.23,530.19 M387.01,530.19L387.01,539.20 M390.23,530.19L390.23,539.20 M393.45,530.40L396.67,530.40 M393.45,530.40L393.45,539.20 M396.67,530.40L396.67,539.20 M388.62,525.19L395.06,525.19 M388.62,525.19L388.62,530.19 M395.06,525.19L395.06,530.40 M399.89,529.42L403.11,529.42 M399.89,529.42L399.89,539.20 M403.11,529.42L403.11,539.20 M401.50,528.42L406.33,528.42 M401.50,528.42L401.50,529.42 M406.33,528.42L406.33,539.20 M403.91,527.42L409.55,527.42 M403.91,527.42L403.91,528.42 M409.55,527.42L409.55,539.20 M391.84,516.50L406.73,516.50 M391.84,516.50L391.84,525.19 M406.73,516.50L406.73,527.42 M415.99,529.28L419.21,529.28 M415.99,529.28L415.99,539.20 M419.21,529.28L419.21,539.20 M412.77,527.25L417.60,527.25 M412.77,527.25L412.77,539.20 M417.60,527.25L417.60,529.28 M425.65,530.45L428.87,530.45 M425.65,530.45L425.65,539.20 M428.87,530.45L428.87,539.20 M422.43,526.70L427.26,526.70 M422.43,526.70L422.43,539.20 M427.26,526.70L427.26,530.45 M415.19,522.00L424.84,522.00 M415.19,522.00L415.19,527.25 M424.84,522.00L424.84,526.70 M399.29,510.40L420.01,510.40 M399.29,510.40L399.29,516.50 M420.01,510.40L420.01,522.00 M435.31,529.79L438.53,529.79 M435.31,529.79L435.31,539.20 M438.53,529.79L438.53,539.20 M432.09,525.99L436.92,525.99 M432.09,525.99L432.09,539.20 M436.92,525.99L436.92,529.79 M441.75,530.60L444.97,530.60 M441.75,530.60L441.75,539.20 M444.97,530.60L444.97,539.20 M448.19,529.82L451.41,529.82 M448.19,529.82L448.19,539.20 M451.41,529.82L451.41,539.20 M449.80,528.82L454.63,528.82 M449.80,528.82L449.80,529.82 M454.63,528.82L454.63,539.20 M457.85,528.83L461.07,528.83 M457.85,528.83L457.85,539.20 M461.07,528.83L461.07,539.20 M452.21,523.49L459.46,523.49 M452.21,523.49L452.21,528.82 M459.46,523.49L459.46,528.83 M443.36,522.49L455.84,522.49 M443.36,522.49L443.36,530.60 M455.84,522.49L455.84,523.49 M434.50,519.50L449.60,519.50 M434.50,519.50L434.50,525.99 M449.60,519.50L449.60,522.49 M409.65,503.20L442.05,503.20 M409.65,503.20L409.65,510.40 M442.05,503.20L442.05,519.50" stroke="#000" stroke-width="0.95" fill="none" stroke-linecap="square"/>
<rect x="366.10" y="540.10" width="16.00" height="16.90" fill="#c13a30"/>
<rect x="385.40" y="540.10" width="77.28" height="16.90" fill="#c13a30"/>
<rect x="366.10" y="558.80" width="12.85" height="16.80" fill="#ff7f00"/>
<rect x="378.90" y="558.80" width="3.20" height="16.80" fill="#984ea3"/>
<rect x="385.40" y="558.80" width="3.27" height="16.80" fill="#ff7f00"/>
<rect x="388.62" y="558.80" width="3.27" height="16.80" fill="#984ea3"/>
<rect x="391.84" y="558.80" width="3.27" height="16.80" fill="#ff7f00"/>
<rect x="395.06" y="558.80" width="6.49" height="16.80" fill="#984ea3"/>
<rect x="401.50" y="558.80" width="12.93" height="16.80" fill="#ff7f00"/>
<rect x="414.38" y="558.80" width="3.27" height="16.80" fill="#984ea3"/>
<rect x="417.60" y="558.80" width="6.49" height="16.80" fill="#ff7f00"/>
<rect x="424.04" y="558.80" width="22.59" height="16.80" fill="#984ea3"/>
<rect x="446.58" y="558.80" width="6.49" height="16.80" fill="#ff7f00"/>
<rect x="453.02" y="558.80" width="9.66" height="16.80" fill="#984ea3"/>
<rect x="366.10" y="577.10" width="16.00" height="16.80" fill="#1b9e77"/>
<rect x="385.40" y="577.10" width="77.28" height="16.80" fill="#d95f02"/>
<text x="466.80" y="554.20" font-size="14.3" fill="#000">Condition</text>
<text x="466.80" y="572.00" font-size="14.3" fill="#000">Batch</text>
<text x="466.80" y="591.20" font-size="14.3" fill="#000">Subcluster</text>
<rect x="366.10" y="598.00" width="3.25" height="15.50" fill="#fc9178"/>
<rect x="369.30" y="598.00" width="3.25" height="15.50" fill="#ff0000"/>
<rect x="372.50" y="598.00" width="3.25" height="15.50" fill="#fad2c6"/>
<rect x="375.70" y="598.00" width="3.25" height="15.50" fill="#fc9178"/>
<rect x="378.90" y="598.00" width="3.25" height="15.50" fill="#fcb4a0"/>
<rect x="385.40" y="598.00" width="3.27" height="15.50" fill="#fcb4a0"/>
<rect x="388.62" y="598.00" width="6.49" height="15.50" fill="#efedf0"/>
<rect x="395.06" y="598.00" width="3.27" height="15.50" fill="#fad2c6"/>
<rect x="398.28" y="598.00" width="9.71" height="15.50" fill="#efedf0"/>
<rect x="407.94" y="598.00" width="3.27" height="15.50" fill="#c6b8f6"/>
<rect x="411.16" y="598.00" width="3.27" height="15.50" fill="#efedf0"/>
<rect x="414.38" y="598.00" width="3.27" height="15.50" fill="#dcd4f2"/>
<rect x="417.60" y="598.00" width="3.27" height="15.50" fill="#fcb4a0"/>
<rect x="420.82" y="598.00" width="3.27" height="15.50" fill="#efedf0"/>
<rect x="424.04" y="598.00" width="3.27" height="15.50" fill="#fad2c6"/>
<rect x="427.26" y="598.00" width="3.27" height="15.50" fill="#dcd4f2"/>
<rect x="430.48" y="598.00" width="3.27" height="15.50" fill="#efedf0"/>
<rect x="433.70" y="598.00" width="3.27" height="15.50" fill="#fad2c6"/>
<rect x="436.92" y="598.00" width="3.27" height="15.50" fill="#dcd4f2"/>
<rect x="440.14" y="598.00" width="9.71" height="15.50" fill="#ac92f9"/>
<rect x="449.80" y="598.00" width="3.27" height="15.50" fill="#c6b8f6"/>
<rect x="453.02" y="598.00" width="9.71" height="15.50" fill="#ac92f9"/>
<text x="466.80" y="610.05" font-size="12" fill="#000">H2A1AK5ac</text>
<rect x="366.10" y="617.50" width="3.25" height="15.95" fill="#ff0000"/>
<rect x="369.30" y="617.50" width="3.25" height="15.95" fill="#fc644b"/>
<rect x="372.50" y="617.50" width="6.45" height="15.95" fill="#fc9178"/>
<rect x="378.90" y="617.50" width="3.25" height="15.95" fill="#fcb4a0"/>
<rect x="385.40" y="617.50" width="3.27" height="15.95" fill="#c6b8f6"/>
<rect x="388.62" y="617.50" width="3.27" height="15.95" fill="#efedf0"/>
<rect x="391.84" y="617.50" width="3.27" height="15.95" fill="#fcb4a0"/>
<rect x="395.06" y="617.50" width="3.27" height="15.95" fill="#fc9178"/>
<rect x="398.28" y="617.50" width="3.27" height="15.95" fill="#c6b8f6"/>
<rect x="401.50" y="617.50" width="6.49" height="15.95" fill="#ac92f9"/>
<rect x="407.94" y="617.50" width="3.27" height="15.95" fill="#fad2c6"/>
<rect x="411.16" y="617.50" width="3.27" height="15.95" fill="#fcb4a0"/>
<rect x="414.38" y="617.50" width="3.27" height="15.95" fill="#dcd4f2"/>
<rect x="417.60" y="617.50" width="3.27" height="15.95" fill="#c6b8f6"/>
<rect x="420.82" y="617.50" width="3.27" height="15.95" fill="#fad2c6"/>
<rect x="424.04" y="617.50" width="3.27" height="15.95" fill="#dcd4f2"/>
<rect x="427.26" y="617.50" width="3.27" height="15.95" fill="#fad2c6"/>
<rect x="430.48" y="617.50" width="3.27" height="15.95" fill="#fcb4a0"/>
<rect x="433.70" y="617.50" width="3.27" height="15.95" fill="#fad2c6"/>
<rect x="436.92" y="617.50" width="3.27" height="15.95" fill="#ac92f9"/>
<rect x="440.14" y="617.50" width="3.27" height="15.95" fill="#dcd4f2"/>
<rect x="443.36" y="617.50" width="3.27" height="15.95" fill="#ac92f9"/>
<rect x="446.58" y="617.50" width="3.27" height="15.95" fill="#c6b8f6"/>
<rect x="449.80" y="617.50" width="3.27" height="15.95" fill="#ac92f9"/>
<rect x="453.02" y="617.50" width="3.27" height="15.95" fill="#c6b8f6"/>
<rect x="456.24" y="617.50" width="3.27" height="15.95" fill="#dcd4f2"/>
<rect x="459.46" y="617.50" width="3.27" height="15.95" fill="#805ffc"/>
<text x="466.80" y="629.77" font-size="12" fill="#000">H3K9acK14ac</text>
<rect x="366.10" y="633.45" width="3.25" height="15.95" fill="#4b32fc"/>
<rect x="369.30" y="633.45" width="3.25" height="15.95" fill="#ac92f9"/>
<rect x="372.50" y="633.45" width="3.25" height="15.95" fill="#dcd4f2"/>
<rect x="375.70" y="633.45" width="3.25" height="15.95" fill="#805ffc"/>
<rect x="378.90" y="633.45" width="3.25" height="15.95" fill="#ac92f9"/>
<rect x="385.40" y="633.45" width="3.27" height="15.95" fill="#fcb4a0"/>
<rect x="388.62" y="633.45" width="3.27" height="15.95" fill="#fad2c6"/>
<rect x="391.84" y="633.45" width="3.27" height="15.95" fill="#efedf0"/>
<rect x="395.06" y="633.45" width="3.27" height="15.95" fill="#ac92f9"/>
<rect x="398.28" y="633.45" width="3.27" height="15.95" fill="#dcd4f2"/>
<rect x="401.50" y="633.45" width="3.27" height="15.95" fill="#fc2d19"/>
<rect x="404.72" y="633.45" width="3.27" height="15.95" fill="#fc9178"/>
<rect x="407.94" y="633.45" width="3.27" height="15.95" fill="#dcd4f2"/>
<rect x="411.16" y="633.45" width="3.27" height="15.95" fill="#ac92f9"/>
<rect x="414.38" y="633.45" width="3.27" height="15.95" fill="#fad2c6"/>
<rect x="417.60" y="633.45" width="3.27" height="15.95" fill="#dcd4f2"/>
<rect x="420.82" y="633.45" width="3.27" height="15.95" fill="#fad2c6"/>
<rect x="424.04" y="633.45" width="6.49" height="15.95" fill="#fcb4a0"/>
<rect x="430.48" y="633.45" width="3.27" height="15.95" fill="#dcd4f2"/>
<rect x="433.70" y="633.45" width="3.27" height="15.95" fill="#c6b8f6"/>
<rect x="436.92" y="633.45" width="3.27" height="15.95" fill="#ac92f9"/>
<rect x="440.14" y="633.45" width="6.49" height="15.95" fill="#fad2c6"/>
<rect x="446.58" y="633.45" width="3.27" height="15.95" fill="#fcb4a0"/>
<rect x="449.80" y="633.45" width="3.27" height="15.95" fill="#fad2c6"/>
<rect x="453.02" y="633.45" width="3.27" height="15.95" fill="#fcb4a0"/>
<rect x="456.24" y="633.45" width="3.27" height="15.95" fill="#fc9178"/>
<rect x="459.46" y="633.45" width="3.27" height="15.95" fill="#fc644b"/>
<text x="466.80" y="645.73" font-size="12" fill="#000">H3K9me3K14ac</text>
<rect x="366.10" y="649.40" width="3.25" height="15.95" fill="#805ffc"/>
<rect x="369.30" y="649.40" width="3.25" height="15.95" fill="#ac92f9"/>
<rect x="372.50" y="649.40" width="3.25" height="15.95" fill="#c6b8f6"/>
<rect x="375.70" y="649.40" width="3.25" height="15.95" fill="#ac92f9"/>
<rect x="378.90" y="649.40" width="3.25" height="15.95" fill="#dcd4f2"/>
<rect x="385.40" y="649.40" width="3.27" height="15.95" fill="#fcb4a0"/>
<rect x="388.62" y="649.40" width="3.27" height="15.95" fill="#fc9178"/>
<rect x="391.84" y="649.40" width="6.49" height="15.95" fill="#efedf0"/>
<rect x="398.28" y="649.40" width="3.27" height="15.95" fill="#c6b8f6"/>
<rect x="401.50" y="649.40" width="3.27" height="15.95" fill="#fc644b"/>
<rect x="404.72" y="649.40" width="3.27" height="15.95" fill="#fc9178"/>
<rect x="407.94" y="649.40" width="3.27" height="15.95" fill="#dcd4f2"/>
<rect x="411.16" y="649.40" width="6.49" height="15.95" fill="#ac92f9"/>
<rect x="417.60" y="649.40" width="3.27" height="15.95" fill="#dcd4f2"/>
<rect x="420.82" y="649.40" width="3.27" height="15.95" fill="#fad2c6"/>
<rect x="424.04" y="649.40" width="3.27" height="15.95" fill="#ac92f9"/>
<rect x="427.26" y="649.40" width="6.49" height="15.95" fill="#805ffc"/>
<rect x="433.70" y="649.40" width="3.27" height="15.95" fill="#fad2c6"/>
<rect x="436.92" y="649.40" width="3.27" height="15.95" fill="#efedf0"/>
<rect x="440.14" y="649.40" width="6.49" height="15.95" fill="#fc9178"/>
<rect x="446.58" y="649.40" width="3.27" height="15.95" fill="#fad2c6"/>
<rect x="449.80" y="649.40" width="3.27" height="15.95" fill="#efedf0"/>
<rect x="453.02" y="649.40" width="6.49" height="15.95" fill="#fc644b"/>
<rect x="459.46" y="649.40" width="3.27" height="15.95" fill="#fcb4a0"/>
<text x="466.80" y="661.67" font-size="12" fill="#000">H3K9me2</text>
<rect x="366.10" y="669.30" width="6.45" height="15.95" fill="#c6b8f6"/>
<rect x="372.50" y="669.30" width="3.25" height="15.95" fill="#fad2c6"/>
<rect x="375.70" y="669.30" width="3.25" height="15.95" fill="#ac92f9"/>
<rect x="378.90" y="669.30" width="3.25" height="15.95" fill="#0000ff"/>
<rect x="385.40" y="669.30" width="3.27" height="15.95" fill="#efedf0"/>
<rect x="388.62" y="669.30" width="3.27" height="15.95" fill="#fad2c6"/>
<rect x="391.84" y="669.30" width="3.27" height="15.95" fill="#fcb4a0"/>
<rect x="395.06" y="669.30" width="3.27" height="15.95" fill="#fc9178"/>
<rect x="398.28" y="669.30" width="3.27" height="15.95" fill="#fcb4a0"/>
<rect x="401.50" y="669.30" width="3.27" height="15.95" fill="#fc9178"/>
<rect x="404.72" y="669.30" width="3.27" height="15.95" fill="#dcd4f2"/>
<rect x="407.94" y="669.30" width="3.27" height="15.95" fill="#fad2c6"/>
<rect x="411.16" y="669.30" width="3.27" height="15.95" fill="#c6b8f6"/>
<rect x="414.38" y="669.30" width="6.49" height="15.95" fill="#fad2c6"/>
<rect x="420.82" y="669.30" width="6.49" height="15.95" fill="#c6b8f6"/>
<rect x="427.26" y="669.30" width="3.27" height="15.95" fill="#dcd4f2"/>
<rect x="430.48" y="669.30" width="3.27" height="15.95" fill="#ac92f9"/>
<rect x="433.70" y="669.30" width="3.27" height="15.95" fill="#fc9178"/>
<rect x="436.92" y="669.30" width="6.49" height="15.95" fill="#fad2c6"/>
<rect x="443.36" y="669.30" width="3.27" height="15.95" fill="#fc644b"/>
<rect x="446.58" y="669.30" width="6.49" height="15.95" fill="#fcb4a0"/>
<rect x="453.02" y="669.30" width="3.27" height="15.95" fill="#fc9178"/>
<rect x="456.24" y="669.30" width="3.27" height="15.95" fill="#fcb4a0"/>
<rect x="459.46" y="669.30" width="3.27" height="15.95" fill="#c6b8f6"/>
<text x="466.80" y="681.57" font-size="12" fill="#000">H4K16ac</text>
<rect x="366.10" y="685.25" width="9.65" height="15.95" fill="#fc644b"/>
<rect x="375.70" y="685.25" width="3.25" height="15.95" fill="#fc9178"/>
<rect x="378.90" y="685.25" width="3.25" height="15.95" fill="#fad2c6"/>
<rect x="385.40" y="685.25" width="3.27" height="15.95" fill="#fcb4a0"/>
<rect x="388.62" y="685.25" width="3.27" height="15.95" fill="#fad2c6"/>
<rect x="391.84" y="685.25" width="3.27" height="15.95" fill="#fcb4a0"/>
<rect x="395.06" y="685.25" width="3.27" height="15.95" fill="#dcd4f2"/>
<rect x="398.28" y="685.25" width="3.27" height="15.95" fill="#fad2c6"/>
<rect x="401.50" y="685.25" width="6.49" height="15.95" fill="#efedf0"/>
<rect x="407.94" y="685.25" width="3.27" height="15.95" fill="#fad2c6"/>
<rect x="411.16" y="685.25" width="3.27" height="15.95" fill="#fcb4a0"/>
<rect x="414.38" y="685.25" width="3.27" height="15.95" fill="#c6b8f6"/>
<rect x="417.60" y="685.25" width="9.71" height="15.95" fill="#efedf0"/>
<rect x="427.26" y="685.25" width="3.27" height="15.95" fill="#fcb4a0"/>
<rect x="430.48" y="685.25" width="3.27" height="15.95" fill="#c6b8f6"/>
<rect x="433.70" y="685.25" width="3.27" height="15.95" fill="#ac92f9"/>
<rect x="436.92" y="685.25" width="3.27" height="15.95" fill="#805ffc"/>
<rect x="440.14" y="685.25" width="6.49" height="15.95" fill="#ac92f9"/>
<rect x="446.58" y="685.25" width="3.27" height="15.95" fill="#dcd4f2"/>
<rect x="449.80" y="685.25" width="6.49" height="15.95" fill="#ac92f9"/>
<rect x="456.24" y="685.25" width="3.27" height="15.95" fill="#805ffc"/>
<rect x="459.46" y="685.25" width="3.27" height="15.95" fill="#ac92f9"/>
<text x="466.80" y="697.52" font-size="12" fill="#000">H4K5acK8acK16ac</text>
<rect x="366.10" y="701.20" width="3.25" height="15.95" fill="#fc644b"/>
<rect x="369.30" y="701.20" width="9.65" height="15.95" fill="#fc9178"/>
<rect x="378.90" y="701.20" width="3.25" height="15.95" fill="#fc644b"/>
<rect x="385.40" y="701.20" width="3.27" height="15.95" fill="#fcb4a0"/>
<rect x="388.62" y="701.20" width="3.27" height="15.95" fill="#efedf0"/>
<rect x="391.84" y="701.20" width="3.27" height="15.95" fill="#fc9178"/>
<rect x="395.06" y="701.20" width="3.27" height="15.95" fill="#dcd4f2"/>
<rect x="398.28" y="701.20" width="3.27" height="15.95" fill="#fcb4a0"/>
<rect x="401.50" y="701.20" width="3.27" height="15.95" fill="#efedf0"/>
<rect x="404.72" y="701.20" width="3.27" height="15.95" fill="#c6b8f6"/>
<rect x="407.94" y="701.20" width="3.27" height="15.95" fill="#fcb4a0"/>
<rect x="411.16" y="701.20" width="6.49" height="15.95" fill="#dcd4f2"/>
<rect x="417.60" y="701.20" width="3.27" height="15.95" fill="#c6b8f6"/>
<rect x="420.82" y="701.20" width="3.27" height="15.95" fill="#efedf0"/>
<rect x="424.04" y="701.20" width="6.49" height="15.95" fill="#dcd4f2"/>
<rect x="430.48" y="701.20" width="6.49" height="15.95" fill="#c6b8f6"/>
<rect x="436.92" y="701.20" width="3.27" height="15.95" fill="#ac92f9"/>
<rect x="440.14" y="701.20" width="9.71" height="15.95" fill="#c6b8f6"/>
<rect x="449.80" y="701.20" width="3.27" height="15.95" fill="#ac92f9"/>
<rect x="453.02" y="701.20" width="9.71" height="15.95" fill="#805ffc"/>
<text x="466.80" y="713.47" font-size="12" fill="#000">H4K5acK12acK16ac</text>
<rect x="366.10" y="717.15" width="3.25" height="15.95" fill="#ff0000"/>
<rect x="369.30" y="717.15" width="3.25" height="15.95" fill="#fc644b"/>
<rect x="372.50" y="717.15" width="6.45" height="15.95" fill="#fc9178"/>
<rect x="378.90" y="717.15" width="3.25" height="15.95" fill="#fcb4a0"/>
<rect x="385.40" y="717.15" width="6.49" height="15.95" fill="#fcb4a0"/>
<rect x="391.84" y="717.15" width="6.49" height="15.95" fill="#dcd4f2"/>
<rect x="398.28" y="717.15" width="3.27" height="15.95" fill="#c6b8f6"/>
<rect x="401.50" y="717.15" width="3.27" height="15.95" fill="#efedf0"/>
<rect x="404.72" y="717.15" width="3.27" height="15.95" fill="#fad2c6"/>
<rect x="407.94" y="717.15" width="3.27" height="15.95" fill="#fc9178"/>
<rect x="411.16" y="717.15" width="3.27" height="15.95" fill="#c6b8f6"/>
<rect x="414.38" y="717.15" width="3.27" height="15.95" fill="#fcb4a0"/>
<rect x="417.60" y="717.15" width="3.27" height="15.95" fill="#efedf0"/>
<rect x="420.82" y="717.15" width="3.27" height="15.95" fill="#fcb4a0"/>
<rect x="424.04" y="717.15" width="3.27" height="15.95" fill="#dcd4f2"/>
<rect x="427.26" y="717.15" width="6.49" height="15.95" fill="#c6b8f6"/>
<rect x="433.70" y="717.15" width="3.27" height="15.95" fill="#805ffc"/>
<rect x="436.92" y="717.15" width="6.49" height="15.95" fill="#ac92f9"/>
<rect x="443.36" y="717.15" width="3.27" height="15.95" fill="#c6b8f6"/>
<rect x="446.58" y="717.15" width="3.27" height="15.95" fill="#efedf0"/>
<rect x="449.80" y="717.15" width="3.27" height="15.95" fill="#c6b8f6"/>
<rect x="453.02" y="717.15" width="9.71" height="15.95" fill="#ac92f9"/>
<text x="466.80" y="729.42" font-size="12" fill="#000">H4K8acK12acK16ac</text>
<rect x="366.10" y="733.10" width="3.25" height="15.95" fill="#ff0000"/>
<rect x="369.30" y="733.10" width="3.25" height="15.95" fill="#fc2d19"/>
<rect x="372.50" y="733.10" width="6.45" height="15.95" fill="#fc9178"/>
<rect x="378.90" y="733.10" width="3.25" height="15.95" fill="#fad2c6"/>
<rect x="385.40" y="733.10" width="6.49" height="15.95" fill="#fcb4a0"/>
<rect x="391.84" y="733.10" width="3.27" height="15.95" fill="#fad2c6"/>
<rect x="395.06" y="733.10" width="6.49" height="15.95" fill="#dcd4f2"/>
<rect x="401.50" y="733.10" width="3.27" height="15.95" fill="#ac92f9"/>
<rect x="404.72" y="733.10" width="3.27" height="15.95" fill="#fad2c6"/>
<rect x="407.94" y="733.10" width="3.27" height="15.95" fill="#fc9178"/>
<rect x="411.16" y="733.10" width="3.27" height="15.95" fill="#dcd4f2"/>
<rect x="414.38" y="733.10" width="3.27" height="15.95" fill="#efedf0"/>
<rect x="417.60" y="733.10" width="3.27" height="15.95" fill="#c6b8f6"/>
<rect x="420.82" y="733.10" width="3.27" height="15.95" fill="#805ffc"/>
<rect x="424.04" y="733.10" width="6.49" height="15.95" fill="#dcd4f2"/>
<rect x="430.48" y="733.10" width="3.27" height="15.95" fill="#c6b8f6"/>
<rect x="433.70" y="733.10" width="3.27" height="15.95" fill="#dcd4f2"/>
<rect x="436.92" y="733.10" width="3.27" height="15.95" fill="#c6b8f6"/>
<rect x="440.14" y="733.10" width="3.27" height="15.95" fill="#dcd4f2"/>
<rect x="443.36" y="733.10" width="3.27" height="15.95" fill="#c6b8f6"/>
<rect x="446.58" y="733.10" width="3.27" height="15.95" fill="#dcd4f2"/>
<rect x="449.80" y="733.10" width="6.49" height="15.95" fill="#c6b8f6"/>
<rect x="456.24" y="733.10" width="6.49" height="15.95" fill="#ac92f9"/>
<text x="466.80" y="745.37" font-size="12" fill="#000">H4K5acK8acK12acK16ac</text>
<rect x="366.10" y="749.05" width="3.25" height="15.95" fill="#fc2d19"/>
<rect x="369.30" y="749.05" width="3.25" height="15.95" fill="#fcb4a0"/>
<rect x="372.50" y="749.05" width="6.45" height="15.95" fill="#fad2c6"/>
<rect x="378.90" y="749.05" width="3.25" height="15.95" fill="#fc9178"/>
<rect x="385.40" y="749.05" width="6.49" height="15.95" fill="#fc9178"/>
<rect x="391.84" y="749.05" width="3.27" height="15.95" fill="#fc644b"/>
<rect x="395.06" y="749.05" width="3.27" height="15.95" fill="#fc9178"/>
<rect x="398.28" y="749.05" width="3.27" height="15.95" fill="#c6b8f6"/>
<rect x="401.50" y="749.05" width="3.27" height="15.95" fill="#fc9178"/>
<rect x="404.72" y="749.05" width="3.27" height="15.95" fill="#dcd4f2"/>
<rect x="407.94" y="749.05" width="3.27" height="15.95" fill="#c6b8f6"/>
<rect x="411.16" y="749.05" width="6.49" height="15.95" fill="#dcd4f2"/>
<rect x="417.60" y="749.05" width="6.49" height="15.95" fill="#fcb4a0"/>
<rect x="424.04" y="749.05" width="3.27" height="15.95" fill="#c6b8f6"/>
<rect x="427.26" y="749.05" width="6.49" height="15.95" fill="#ac92f9"/>
<rect x="433.70" y="749.05" width="3.27" height="15.95" fill="#dcd4f2"/>
<rect x="436.92" y="749.05" width="3.27" height="15.95" fill="#805ffc"/>
<rect x="440.14" y="749.05" width="3.27" height="15.95" fill="#dcd4f2"/>
<rect x="443.36" y="749.05" width="3.27" height="15.95" fill="#c6b8f6"/>
<rect x="446.58" y="749.05" width="3.27" height="15.95" fill="#805ffc"/>
<rect x="449.80" y="749.05" width="3.27" height="15.95" fill="#dcd4f2"/>
<rect x="453.02" y="749.05" width="3.27" height="15.95" fill="#ac92f9"/>
<rect x="456.24" y="749.05" width="3.27" height="15.95" fill="#805ffc"/>
<rect x="459.46" y="749.05" width="3.27" height="15.95" fill="#ac92f9"/>
<text x="466.80" y="761.32" font-size="12" fill="#000">H4K8acK16ac</text>
<rect x="366.10" y="765.00" width="3.25" height="15.95" fill="#fc2d19"/>
<rect x="369.30" y="765.00" width="3.25" height="15.95" fill="#fad2c6"/>
<rect x="372.50" y="765.00" width="9.65" height="15.95" fill="#fcb4a0"/>
<rect x="385.40" y="765.00" width="3.27" height="15.95" fill="#fcb4a0"/>
<rect x="388.62" y="765.00" width="3.27" height="15.95" fill="#fad2c6"/>
<rect x="391.84" y="765.00" width="3.27" height="15.95" fill="#fc644b"/>
<rect x="395.06" y="765.00" width="3.27" height="15.95" fill="#fcb4a0"/>
<rect x="398.28" y="765.00" width="3.27" height="15.95" fill="#fc2d19"/>
<rect x="401.50" y="765.00" width="3.27" height="15.95" fill="#fad2c6"/>
<rect x="404.72" y="765.00" width="6.49" height="15.95" fill="#dcd4f2"/>
<rect x="411.16" y="765.00" width="3.27" height="15.95" fill="#fad2c6"/>
<rect x="414.38" y="765.00" width="3.27" height="15.95" fill="#dcd4f2"/>
<rect x="417.60" y="765.00" width="3.27" height="15.95" fill="#fad2c6"/>
<rect x="420.82" y="765.00" width="3.27" height="15.95" fill="#dcd4f2"/>
<rect x="424.04" y="765.00" width="3.27" height="15.95" fill="#c6b8f6"/>
<rect x="427.26" y="765.00" width="3.27" height="15.95" fill="#dcd4f2"/>
<rect x="430.48" y="765.00" width="9.71" height="15.95" fill="#ac92f9"/>
<rect x="440.14" y="765.00" width="3.27" height="15.95" fill="#dcd4f2"/>
<rect x="443.36" y="765.00" width="12.93" height="15.95" fill="#ac92f9"/>
<rect x="456.24" y="765.00" width="3.27" height="15.95" fill="#805ffc"/>
<rect x="459.46" y="765.00" width="3.27" height="15.95" fill="#c6b8f6"/>
<text x="466.80" y="777.27" font-size="12" fill="#000">H4K12acK16ac</text>
<rect x="366.10" y="780.95" width="3.25" height="15.95" fill="#fad2c6"/>
<rect x="369.30" y="780.95" width="3.25" height="15.95" fill="#fc644b"/>
<rect x="372.50" y="780.95" width="3.25" height="15.95" fill="#fc2d19"/>
<rect x="375.70" y="780.95" width="3.25" height="15.95" fill="#fc644b"/>
<rect x="378.90" y="780.95" width="3.25" height="15.95" fill="#fc9178"/>
<rect x="385.40" y="780.95" width="16.15" height="15.95" fill="#fcb4a0"/>
<rect x="401.50" y="780.95" width="6.49" height="15.95" fill="#c6b8f6"/>
<rect x="407.94" y="780.95" width="3.27" height="15.95" fill="#dcd4f2"/>
<rect x="411.16" y="780.95" width="3.27" height="15.95" fill="#fc9178"/>
<rect x="414.38" y="780.95" width="3.27" height="15.95" fill="#efedf0"/>
<rect x="417.60" y="780.95" width="3.27" height="15.95" fill="#c6b8f6"/>
<rect x="420.82" y="780.95" width="3.27" height="15.95" fill="#efedf0"/>
<rect x="424.04" y="780.95" width="9.71" height="15.95" fill="#c6b8f6"/>
<rect x="433.70" y="780.95" width="6.49" height="15.95" fill="#ac92f9"/>
<rect x="440.14" y="780.95" width="6.49" height="15.95" fill="#dcd4f2"/>
<rect x="446.58" y="780.95" width="6.49" height="15.95" fill="#805ffc"/>
<rect x="453.02" y="780.95" width="9.71" height="15.95" fill="#ac92f9"/>
<text x="466.80" y="793.22" font-size="12" fill="#000">H4K5acK16ac</text>
<path d="M348.90,641.43L348.90,657.38 M348.90,641.43L365.00,641.43 M348.90,657.38L365.00,657.38 M329.40,625.48L329.40,649.40 M329.40,625.48L365.00,625.48 M329.40,649.40L348.90,649.40" stroke="#000" stroke-width="0.9" fill="none"/>
<path d="M354.50,693.23L354.50,709.17 M354.50,693.23L365.00,693.23 M354.50,709.17L365.00,709.17 M352.20,701.20L352.20,725.12 M352.20,701.20L354.50,701.20 M352.20,725.12L365.00,725.12 M350.40,713.16L350.40,741.07 M350.40,713.16L352.20,713.16 M350.40,741.07L365.00,741.07 M351.50,757.02L351.50,772.98 M351.50,757.02L365.00,757.02 M351.50,772.98L365.00,772.98 M347.40,765.00L347.40,788.92 M347.40,765.00L351.50,765.00 M347.40,788.92L365.00,788.92 M345.00,727.12L345.00,776.96 M345.00,727.12L350.40,727.12 M345.00,776.96L347.40,776.96 M332.10,677.27L332.10,752.04 M332.10,677.27L365.00,677.27 M332.10,752.04L345.00,752.04" stroke="#000" stroke-width="0.9" fill="none"/>
<text x="320.00" y="635.60" font-size="16" text-anchor="middle" fill="#000" transform="rotate(-90 320.0 635.6)">H3</text>
<text x="320.00" y="732.60" font-size="16" text-anchor="middle" fill="#000" transform="rotate(-90 320.0 732.6)">H4</text>
<text x="620.70" y="554.40" font-size="12.1" font-weight="bold" fill="#000">Condition</text>
<rect x="620.70" y="561.80" width="13.30" height="13.00" fill="#c13a30"/>
<text x="638.10" y="573.80" font-size="12" fill="#000">Treated</text>
<text x="620.20" y="595.00" font-size="12.6" font-weight="bold" fill="#000">Batch</text>
<rect x="620.70" y="604.80" width="13.30" height="12.60" fill="#984ea3"/>
<rect x="620.70" y="618.60" width="13.30" height="12.90" fill="#ff7f00"/>
<text x="638.10" y="615.70" font-size="12" fill="#000">4</text>
<text x="638.10" y="629.60" font-size="12" fill="#000">5</text>
<text x="620.70" y="655.10" font-size="12.1" font-weight="bold" fill="#000">Subcluster</text>
<rect x="620.70" y="662.10" width="13.30" height="12.60" fill="#1b9e77"/>
<rect x="620.70" y="675.90" width="13.30" height="12.50" fill="#d95f02"/>
<text x="638.10" y="672.70" font-size="12" fill="#000">A</text>
<text x="638.10" y="686.50" font-size="12" fill="#000">B</text>
<text x="620.50" y="712.40" font-size="12.1" font-weight="bold" fill="#000">Z−score</text>
<defs><linearGradient id="g718" x1="0" y1="718.5" x2="0" y2="792" gradientUnits="userSpaceOnUse">
<stop offset="0.0340" stop-color="rgb(255, 0, 0)"/>
<stop offset="0.2148" stop-color="rgb(255, 0, 0)"/>
<stop offset="0.2673" stop-color="rgb(250, 75, 55)"/>
<stop offset="0.3257" stop-color="rgb(250, 125, 100)"/>
<stop offset="0.3840" stop-color="rgb(250, 168, 148)"/>
<stop offset="0.4423" stop-color="rgb(248, 208, 198)"/>
<stop offset="0.4832" stop-color="rgb(243, 238, 240)"/>
<stop offset="0.5182" stop-color="rgb(240, 238, 244)"/>
<stop offset="0.5707" stop-color="rgb(215, 208, 246)"/>
<stop offset="0.6173" stop-color="rgb(195, 180, 248)"/>
<stop offset="0.6757" stop-color="rgb(160, 138, 250)"/>
<stop offset="0.7340" stop-color="rgb(105, 75, 250)"/>
<stop offset="0.7573" stop-color="rgb(20, 10, 255)"/>
<stop offset="0.9673" stop-color="rgb(0, 0, 255)"/>
</linearGradient></defs>
<rect x="620.10" y="718.50" width="14.70" height="73.50" fill="url(#g718)"/>
<line x1="620.10" y1="721.00" x2="623.04" y2="721.00" stroke="#fff" stroke-width="0.9"/>
<line x1="631.86" y1="721.00" x2="634.80" y2="721.00" stroke="#fff" stroke-width="0.9"/>
<text x="637.30" y="726.16" font-size="12.4" fill="#000">4</text>
<line x1="620.10" y1="738.40" x2="623.04" y2="738.40" stroke="#fff" stroke-width="0.9"/>
<line x1="631.86" y1="738.40" x2="634.80" y2="738.40" stroke="#fff" stroke-width="0.9"/>
<text x="637.30" y="743.56" font-size="12.4" fill="#000">2</text>
<line x1="620.10" y1="755.10" x2="623.04" y2="755.10" stroke="#fff" stroke-width="0.9"/>
<line x1="631.86" y1="755.10" x2="634.80" y2="755.10" stroke="#fff" stroke-width="0.9"/>
<text x="637.30" y="760.26" font-size="12.4" fill="#000">0</text>
<line x1="620.10" y1="772.60" x2="623.04" y2="772.60" stroke="#fff" stroke-width="0.9"/>
<line x1="631.86" y1="772.60" x2="634.80" y2="772.60" stroke="#fff" stroke-width="0.9"/>
<text x="637.30" y="777.76" font-size="12.4" fill="#000">−2</text>
<line x1="620.10" y1="789.60" x2="623.04" y2="789.60" stroke="#fff" stroke-width="0.9"/>
<line x1="631.86" y1="789.60" x2="634.80" y2="789.60" stroke="#fff" stroke-width="0.9"/>
<text x="637.30" y="794.76" font-size="12.4" fill="#000">−4</text>
</svg></body></html>
